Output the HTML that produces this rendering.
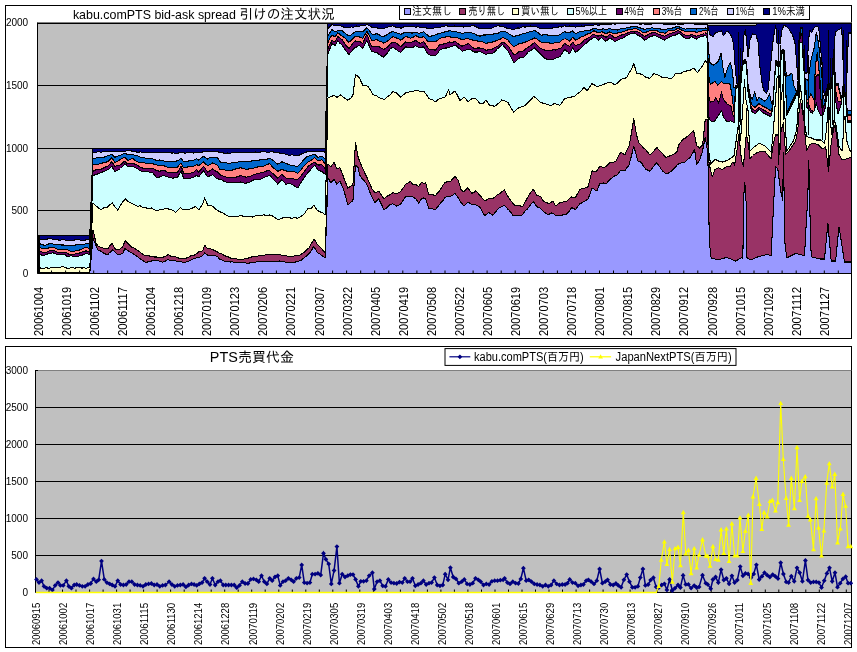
<!DOCTYPE html>
<html><head><meta charset="utf-8"><title>PTS charts</title>
<style>html,body{margin:0;padding:0;background:#fff}svg{display:block;will-change:transform}text{font-family:"Liberation Sans","IPAGothic","Noto Sans CJK JP",sans-serif;fill:#000}</style>
</head><body>
<svg width="857" height="652" viewBox="0 0 857 652">
<rect width="857" height="652" fill="#fff"/>
<rect x="5.5" y="5.5" width="846.0" height="333.0" fill="#fff" stroke="#000" stroke-width="1"/>
<rect x="37.5" y="22.5" width="814.0" height="251.0" fill="#C0C0C0"/>
<line x1="37.5" y1="85.5" x2="851.5" y2="85.5" stroke="#000" stroke-width="1"/>
<line x1="37.5" y1="148.5" x2="851.5" y2="148.5" stroke="#000" stroke-width="1"/>
<line x1="37.5" y1="210.5" x2="851.5" y2="210.5" stroke="#000" stroke-width="1"/>
<line x1="37.5" y1="22.5" x2="851.5" y2="22.5" stroke="#808080" stroke-width="1"/>
<line x1="37.5" y1="23.5" x2="851.5" y2="23.5" stroke="#000" stroke-width="1"/>
<g stroke="#000" stroke-width="1.05" stroke-linejoin="round" shape-rendering="crispEdges">
<polygon fill="#9999FF" points="39,272.8 41.8,273.1 42,273.1 43,273.1 44.6,273 45,273 46,273 47.4,273.1 49,273.2 50,273.2 50.2,273.2 52,273.1 53,273 53,273 55.9,273 56,273 57,272.9 58.7,272.8 59,272.8 60,272.9 61.5,272.9 62,272.9 63,273 64,273 64.3,273 65,273 66,273 67,273.1 67.1,273.1 68,273.1 69,273.1 69.9,273.1 71,273.1 72,273 72.7,272.9 74,272.9 75,272.8 75.5,272.8 76,272.8 78,272.9 78.3,272.9 79,273 80,273.1 81.2,273.2 82,273.1 83,273 84,272.9 84,272.9 86,273 86.8,273 87,273 89.6,273.2 89.8,273.1 92.4,244.6 93,238.3 95.2,243.7 96,245.5 98,250.2 98,250.2 100,250.8 100.8,251.1 101,251.2 103,252.6 103.6,253 104,253.2 106.4,254.5 107.9,254.7 109.2,253 111.9,250.7 112.1,250.6 112.3,250.3 112.9,249.8 114.9,251.9 114.9,252 115.9,252.9 117.7,254.6 117.9,254.8 119.9,254.3 120.5,254.1 121.9,253.7 122.9,253.4 123.3,252.3 124.9,248.5 125.3,248.9 126.1,249.5 127.9,250.6 128.9,251.2 131.7,253 132.9,253.6 133.9,254.2 134.5,254.5 137.3,256.7 137.8,257 140.2,258.8 142.8,260.5 143,260.5 145.8,262.7 145.8,262.7 147.8,261.9 148.6,261.6 151.4,261 151.8,260.9 152.8,260.5 154.2,260.5 156.8,260.8 157,260.8 157.8,260.7 159.8,261.2 162.6,262.2 162.8,262.2 165.4,261.1 167.8,259.6 168.3,259.7 171.1,260.8 172.8,260.6 173.9,260.4 175.7,260.9 176.7,261.2 177.7,261.2 179.5,261.4 180.7,261.7 181.1,261.8 182.3,262.1 182.7,262.2 183.7,262.2 185.1,262.1 187.7,261.7 187.9,261.6 190.7,260.3 192.7,259.2 193.6,258.8 195.7,258 196.4,257.7 196.7,257.7 197.7,257.5 198.7,257.4 199.2,257.3 202,256 202.7,255.7 203.7,254.3 204.7,252.9 204.8,253 207.6,255.1 207.6,255.2 210.4,255.4 212.6,255.3 213.2,255.3 216,256.1 216,256.1 217.6,256.6 218.8,258.3 220,259.6 221.7,259.7 224.5,261.1 227.3,261.6 229.9,262 230.1,262 232.9,261.9 235.7,262.6 238.5,262.1 239.9,262.3 241.3,262.5 244.1,262.8 245.9,263 246.9,263.2 249.8,263 249.9,263 252.6,262.3 253.9,262.2 255.4,262.1 258.2,261.7 259.9,261.4 261,261.4 261.8,261.3 263.8,261.1 266.6,261.3 269.4,261.2 269.8,261.2 272.2,261.5 275,261.5 277.8,261.1 277.9,261.1 279.8,261 280.7,261.1 281.8,261.4 283.5,261.8 285.8,262.2 286.3,262.3 289.1,262.4 289.8,262.5 291.8,262.4 291.9,262.4 294.7,262.4 297.5,261.2 297.7,261.2 300.3,260.8 301.7,259.7 303.1,258.7 303.7,258.5 305.9,256.4 307.7,254.9 308.8,253.9 309.7,253 310.7,251.4 311.6,250.1 313.7,246.5 314.1,247 314.4,247.3 314.7,247.9 317.2,252.1 317.7,252.7 320,253.9 321.7,255.4 322.8,256.1 325.2,257.9 325.6,247.3 328,177.9 328.4,178.6 331,183 331.2,182.6 332,181.7 334,179.1 334.1,179.3 335,180.9 336.9,184.1 336.9,184.2 337.9,183.2 339.7,181.4 339.9,181.1 340.9,183.3 341.9,185.5 342.5,186.7 343.9,190.6 345.3,195.5 347.9,204.8 348.1,204.6 348.9,203.9 350.9,201.9 352.9,200.7 353.7,189.5 354.9,173.2 355.5,165.1 356.5,165.9 357.9,167.2 358.9,171.2 359.3,173.1 359.9,175.3 361.9,178.2 362.1,178.6 362.9,179.4 365,181.8 366.9,184.5 367.8,186.8 367.9,187 370.6,194 371.8,196.7 372.8,198.5 373.4,199.5 374.8,202.5 376.2,201.2 377.8,199.8 378.8,198.9 379,199.3 381.8,205.1 383.8,209.9 384.6,209.5 387.4,207.3 388.8,205.8 390.2,204.6 392.8,203.8 393.1,204 395.9,205.7 396.8,206.2 398.7,205.4 400.8,203.8 401.5,202.6 404.3,198.5 405.7,196.9 407.1,197 409.9,196.5 410.7,196.1 412.7,196.7 412.7,196.7 415.5,198.7 415.7,198.8 418.4,202.6 418.7,203.1 419.7,201.5 421.2,199.1 421.7,198.1 423.7,198 424,198 425.7,198.8 426.8,202.3 428.7,208.1 429.6,208.4 432.4,208.9 435.2,209.3 435.6,209.4 438,206.3 439.6,204.5 440.8,202.9 443.6,199.6 444.6,197.9 445.6,197.3 446.4,196.7 447.6,196.3 448.6,196.3 449.3,196.3 450,196.4 452.1,195.5 454.9,193.4 455,193.4 456,194.7 457.7,197.1 458,197.4 460,200.7 460.5,201.5 461,202.4 462,203.6 463.3,205.2 464,205.9 466.1,203.9 467.9,201.9 468.9,202.5 471.7,204.3 471.9,204.4 473.9,204.6 474.6,204.6 475.9,204.8 477.4,205.6 479.9,207.3 480.2,207.8 482.9,212.7 483,212.9 484.9,215.8 485.8,214.8 485.9,214.7 488.6,212.5 488.9,212.4 489.9,213.2 491.4,214.4 491.9,214.7 492.9,215.2 494.2,213.7 495.9,211.5 497,209.9 497.9,209 498.9,208 499.8,207.6 501.8,206.5 502.6,206.1 502.8,206 504.2,205.1 505.5,206.3 507.8,209.1 508.3,209.6 508.8,210 511.1,212.7 512.8,215.4 513.8,215.5 513.9,215.5 516.7,215.5 517.8,215.5 518.8,215.4 519.5,215.4 520.8,215.8 522.3,214.7 522.8,214.1 523.8,212.7 525.1,210.9 525.8,210.4 527.8,208.6 527.9,208.4 528.8,207.3 530.8,204.4 533.4,201.7 533.6,202 533.8,202.3 534.8,203.8 536.4,206.2 536.7,206.7 539.2,207.7 539.7,208 540.7,208.7 542,210.1 543.7,211.8 544.8,212.6 545.7,213.3 547.6,214.5 547.7,214.6 548.7,214.3 550.4,213.7 550.7,213.5 551.7,212.8 552.7,213.3 553.2,213.6 553.7,213.9 554.7,214.7 555.7,215.4 556,215.4 558.9,215.6 559.7,215.6 560.7,215.6 561.7,215.3 564.5,214.2 564.7,214.2 566.6,214.1 567.3,213.5 569.6,210.6 570.1,210 571.6,207.7 572.6,208 572.9,208 574.6,209.1 575.6,209.7 575.7,209.5 577.6,206.8 578.5,205.6 580,203.7 581.3,203.1 584,201.6 584.1,201.5 585,200.9 587,199.6 587,199.6 588,199 589.8,194.4 590,193.8 592,187.9 592.6,188.1 594,189.1 595.4,190.1 596,190.4 597,191 598,188.3 598.2,187.7 599.9,183.1 601,183.3 601.9,183.2 603.8,183 603.9,183.1 605.9,184 606.6,183.3 606.9,182.9 609.4,180 609.9,179.3 610.9,178.6 612.2,177.7 614.9,175.8 615,175.7 615.9,175.4 616.9,175 617.9,173.9 619.9,171.4 620.7,170.4 620.9,170.2 621.9,170.4 623.5,170.7 624.9,170.8 626.3,168.4 626.9,167.7 628.9,165.4 629.1,164.5 629.9,161.7 630.9,157.9 631.5,155.6 631.9,153.8 633.8,146.1 634.7,149.2 634.8,149.7 636.2,155 636.8,157.3 637.5,159.9 637.8,161 638.8,161.3 639.8,161.6 640.3,161.7 641.8,163 643.1,165.5 644.8,167.9 645.8,169.3 646,169.4 648.8,170.6 649.8,171.1 651.6,169.2 653.8,166.2 654.4,165.3 654.8,164.9 656.8,162.7 657.2,163.3 658.8,165.5 659.8,166.9 660,167.2 661.8,169.9 662.8,171 662.8,171.1 664.8,172.6 665.6,173.4 665.7,173.5 667.7,173.1 668.4,173 669.7,172.1 671.2,171.1 671.7,170.9 674.1,168.5 674.7,167.8 675.7,166.7 676.7,165.5 676.9,165.3 678.7,163.9 679.7,163.2 679.7,163.2 682.5,162.7 683.7,162.4 684.7,162.1 685.3,161.6 685.7,161.2 688.1,158.9 688.7,158.6 689.7,158 690.7,156.6 690.9,156.3 691.7,154.9 693.7,151.2 693.7,151.1 694.7,149.9 696.5,163.5 696.6,164.3 697.6,162.9 699.4,160.4 699.6,160 701.6,153.8 702.2,152.2 702.6,150.8 704,143.5 704.5,140.9 705,138.4 705.2,137.1 705.6,139.4 707.2,149 707.8,151.9 707.8,152 708.5,193.5 709.3,241 710.1,248.5 710.3,250.4 710.5,252.3 710.6,253.1 711.1,257.9 712.2,258.2 713.1,258.5 713.4,258.6 713.8,258.7 714,258.8 715,259.1 715.4,259.2 715.9,259.4 716.2,259.5 716.8,259.7 717.8,260 718.4,259.8 718.7,259.7 719,259.6 721.2,259 721.5,258.9 721.8,258.8 722.5,258.6 723,258.5 723.4,258.4 724.3,258.1 724.6,258 724.8,258 726.2,257.5 726.7,257.4 727.1,257.6 727.5,257.7 727.6,257.8 728,257.9 728.1,258 729.9,258.7 730,258.7 730.3,258.8 730.4,258.9 730.9,259.1 731.8,259.5 732.2,259.6 732.7,259.8 733.1,260 733.2,260 734,260.4 734.1,260.4 734.6,260.6 735.5,261 735.6,261 735.9,260.8 737,260.2 737.8,259.8 738.7,259.3 738.8,259.2 739,259.1 740.5,258.2 741,258 741.1,257.9 741.5,257.9 741.6,257.9 742,257.9 742.5,258 742.9,258 743.4,209.7 743.5,200 744,193.1 744.3,188.8 744.5,186.2 744.8,182 745.4,191.4 746,200.9 746.2,204 746.3,210.7 746.5,224.2 747,258 747.1,258.1 748,258.5 748.5,258.7 749,259 749.9,259.4 750,259.5 750.6,259.8 751.1,260 751.5,259.8 752.3,259.4 752.5,259.3 752.7,259.2 754.5,258.4 754.7,258.3 755.2,258 755.5,257.9 756,257.7 756.6,257.4 757,257.2 757.8,256.8 758,256.7 758.4,256.7 758.9,256.5 759,256.5 759.8,256.3 761.2,255.9 761.7,255.8 763.5,255.3 764,255.2 764.4,255.1 764.5,255.1 766.3,254.6 766.7,254.5 766.8,254.5 767.2,254.6 768.1,254.8 769.6,255.2 770.9,255.5 771.2,255.6 772.4,229.3 772.7,223 773.4,207.8 774.5,187.2 775.2,173.8 775.5,168.6 775.6,166.7 775.8,166.9 777,168.1 777.8,168.9 778,170.5 778,170.7 779,178.3 780,186.1 780.5,190 780.8,191.6 781,192.4 781.2,193.3 782,197.1 782.6,200 783,181.2 783.4,162.4 783.6,153 783.6,157.3 784,187.8 784.6,240 785,243.4 785.6,248.5 786.4,255.3 786.5,255.9 786.7,257.9 786.8,257.8 789,256.7 789.2,256.6 789.3,256.6 791.5,255.5 792,255.2 792.1,255.2 792.4,255 793.4,254.5 793.8,254.3 794.9,253.8 795.2,253.6 795.6,253.4 795.7,253.4 796.2,253.5 796.7,253.7 797.1,253.8 797.5,253.9 797.7,253.9 797.8,253.9 798,254 798.5,254.1 799,254.2 799.5,254.4 800.4,254.6 800.5,254.6 802,255 802.3,255.1 803.3,255.3 803.5,255.4 804,255.5 804.1,255.5 804.5,255.6 805,246.7 805.1,244.9 806.1,226.5 806.7,216.3 807,211 807.8,196.7 807.9,193 808,189.4 808.8,160 808.9,166.4 809,169.1 809.3,182.7 809.7,200.8 810.1,219 810.7,239.6 811,249.9 811.1,253.4 811.2,256.8 811.6,256.9 811.8,256.9 812.1,257 813.5,257.4 814,257.5 814.4,257.6 814.6,257.6 815,257.8 815.5,257.9 815.6,257.9 816.3,258.1 817.2,258.3 817.4,258.3 818.2,258.6 818.6,258.6 819,258.8 819.6,258.9 820,259 820.2,259 820.5,259 821,259 821.2,259 821.9,259 822.8,259 823,259 823,259 824.5,259 824.7,256.9 825,253.8 825.6,247.5 825.8,245.4 826.5,238.1 827.9,223.4 828,224.5 828.5,230.2 828.6,231.5 830,247.3 831,258.7 831.2,261 831.4,261 832,261 833,261 833.4,261 834,261 834.2,261 834.5,261 835,261 835.5,261 835.6,261 836,257 836.8,248.9 837,246.5 838,236.8 839,226.7 839.9,232.2 841.5,242.7 842.3,247.9 842.5,249.2 842.7,250.2 843.5,255.6 844,258.8 844.5,262 845,262 845.5,262 846,262 846.5,262 847.5,262 848.3,262 848.5,262 850,262 851.1,262 851.3,262 851.3,273.5 851.1,273.5 850,273.5 848.5,273.5 848.3,273.5 847.5,273.5 846.5,273.5 846,273.5 845.5,273.5 845,273.5 844.5,273.5 844,273.5 843.5,273.5 842.7,273.5 842.5,273.5 842.3,273.5 841.5,273.5 839.9,273.5 839,273.5 838,273.5 837,273.5 836.8,273.5 836,273.5 835.6,273.5 835.5,273.5 835,273.5 834.5,273.5 834.2,273.5 834,273.5 833.4,273.5 833,273.5 832,273.5 831.4,273.5 831.2,273.5 831,273.5 830,273.5 828.6,273.5 828.5,273.5 828,273.5 827.9,273.5 826.5,273.5 825.8,273.5 825.6,273.5 825,273.5 824.7,273.5 824.5,273.5 823,273.5 823,273.5 822.8,273.5 821.9,273.5 821.2,273.5 821,273.5 820.5,273.5 820.2,273.5 820,273.5 819.6,273.5 819,273.5 818.6,273.5 818.2,273.5 817.4,273.5 817.2,273.5 816.3,273.5 815.6,273.5 815.5,273.5 815,273.5 814.6,273.5 814.4,273.5 814,273.5 813.5,273.5 812.1,273.5 811.8,273.5 811.6,273.5 811.2,273.5 811.1,273.5 811,273.5 810.7,273.5 810.1,273.5 809.7,273.5 809.3,273.5 809,273.5 808.9,273.5 808.8,273.5 808,273.5 807.9,273.5 807.8,273.5 807,273.5 806.7,273.5 806.1,273.5 805.1,273.5 805,273.5 804.5,273.5 804.1,273.5 804,273.5 803.5,273.5 803.3,273.5 802.3,273.5 802,273.5 800.5,273.5 800.4,273.5 799.5,273.5 799,273.5 798.5,273.5 798,273.5 797.8,273.5 797.7,273.5 797.5,273.5 797.1,273.5 796.7,273.5 796.2,273.5 795.7,273.5 795.6,273.5 795.2,273.5 794.9,273.5 793.8,273.5 793.4,273.5 792.4,273.5 792.1,273.5 792,273.5 791.5,273.5 789.3,273.5 789.2,273.5 789,273.5 786.8,273.5 786.7,273.5 786.5,273.5 786.4,273.5 785.6,273.5 785,273.5 784.6,273.5 784,273.5 783.6,273.5 783.6,273.5 783.4,273.5 783,273.5 782.6,273.5 782,273.5 781.2,273.5 781,273.5 780.8,273.5 780.5,273.5 780,273.5 779,273.5 778,273.5 778,273.5 777.8,273.5 777,273.5 775.8,273.5 775.6,273.5 775.5,273.5 775.2,273.5 774.5,273.5 773.4,273.5 772.7,273.5 772.4,273.5 771.2,273.5 770.9,273.5 769.6,273.5 768.1,273.5 767.2,273.5 766.8,273.5 766.7,273.5 766.3,273.5 764.5,273.5 764.4,273.5 764,273.5 763.5,273.5 761.7,273.5 761.2,273.5 759.8,273.5 759,273.5 758.9,273.5 758.4,273.5 758,273.5 757.8,273.5 757,273.5 756.6,273.5 756,273.5 755.5,273.5 755.2,273.5 754.7,273.5 754.5,273.5 752.7,273.5 752.5,273.5 752.3,273.5 751.5,273.5 751.1,273.5 750.6,273.5 750,273.5 749.9,273.5 749,273.5 748.5,273.5 748,273.5 747.1,273.5 747,273.5 746.5,273.5 746.3,273.5 746.2,273.5 746,273.5 745.4,273.5 744.8,273.5 744.5,273.5 744.3,273.5 744,273.5 743.5,273.5 743.4,273.5 742.9,273.5 742.5,273.5 742,273.5 741.6,273.5 741.5,273.5 741.1,273.5 741,273.5 740.5,273.5 739,273.5 738.8,273.5 738.7,273.5 737.8,273.5 737,273.5 735.9,273.5 735.6,273.5 735.5,273.5 734.6,273.5 734.1,273.5 734,273.5 733.2,273.5 733.1,273.5 732.7,273.5 732.2,273.5 731.8,273.5 730.9,273.5 730.4,273.5 730.3,273.5 730,273.5 729.9,273.5 728.1,273.5 728,273.5 727.6,273.5 727.5,273.5 727.1,273.5 726.7,273.5 726.2,273.5 724.8,273.5 724.6,273.5 724.3,273.5 723.4,273.5 723,273.5 722.5,273.5 721.8,273.5 721.5,273.5 721.2,273.5 719,273.5 718.7,273.5 718.4,273.5 717.8,273.5 716.8,273.5 716.2,273.5 715.9,273.5 715.4,273.5 715,273.5 714,273.5 713.8,273.5 713.4,273.5 713.1,273.5 712.2,273.5 711.1,273.5 710.6,273.5 710.5,273.5 710.3,273.5 710.1,273.5 709.3,273.5 708.5,273.5 707.8,273.5 707.8,273.5 707.2,273.5 705.6,273.5 705.2,273.5 705,273.5 704.5,273.5 704,273.5 702.6,273.5 702.2,273.5 701.6,273.5 699.6,273.5 699.4,273.5 697.6,273.5 696.6,273.5 696.5,273.5 694.7,273.5 693.7,273.5 693.7,273.5 691.7,273.5 690.9,273.5 690.7,273.5 689.7,273.5 688.7,273.5 688.1,273.5 685.7,273.5 685.3,273.5 684.7,273.5 683.7,273.5 682.5,273.5 679.7,273.5 679.7,273.5 678.7,273.5 676.9,273.5 676.7,273.5 675.7,273.5 674.7,273.5 674.1,273.5 671.7,273.5 671.2,273.5 669.7,273.5 668.4,273.5 667.7,273.5 665.7,273.5 665.6,273.5 664.8,273.5 662.8,273.5 662.8,273.5 661.8,273.5 660,273.5 659.8,273.5 658.8,273.5 657.2,273.5 656.8,273.5 654.8,273.5 654.4,273.5 653.8,273.5 651.6,273.5 649.8,273.5 648.8,273.5 646,273.5 645.8,273.5 644.8,273.5 643.1,273.5 641.8,273.5 640.3,273.5 639.8,273.5 638.8,273.5 637.8,273.5 637.5,273.5 636.8,273.5 636.2,273.5 634.8,273.5 634.7,273.5 633.8,273.5 631.9,273.5 631.5,273.5 630.9,273.5 629.9,273.5 629.1,273.5 628.9,273.5 626.9,273.5 626.3,273.5 624.9,273.5 623.5,273.5 621.9,273.5 620.9,273.5 620.7,273.5 619.9,273.5 617.9,273.5 616.9,273.5 615.9,273.5 615,273.5 614.9,273.5 612.2,273.5 610.9,273.5 609.9,273.5 609.4,273.5 606.9,273.5 606.6,273.5 605.9,273.5 603.9,273.5 603.8,273.5 601.9,273.5 601,273.5 599.9,273.5 598.2,273.5 598,273.5 597,273.5 596,273.5 595.4,273.5 594,273.5 592.6,273.5 592,273.5 590,273.5 589.8,273.5 588,273.5 587,273.5 587,273.5 585,273.5 584.1,273.5 584,273.5 581.3,273.5 580,273.5 578.5,273.5 577.6,273.5 575.7,273.5 575.6,273.5 574.6,273.5 572.9,273.5 572.6,273.5 571.6,273.5 570.1,273.5 569.6,273.5 567.3,273.5 566.6,273.5 564.7,273.5 564.5,273.5 561.7,273.5 560.7,273.5 559.7,273.5 558.9,273.5 556,273.5 555.7,273.5 554.7,273.5 553.7,273.5 553.2,273.5 552.7,273.5 551.7,273.5 550.7,273.5 550.4,273.5 548.7,273.5 547.7,273.5 547.6,273.5 545.7,273.5 544.8,273.5 543.7,273.5 542,273.5 540.7,273.5 539.7,273.5 539.2,273.5 536.7,273.5 536.4,273.5 534.8,273.5 533.8,273.5 533.6,273.5 533.4,273.5 530.8,273.5 528.8,273.5 527.9,273.5 527.8,273.5 525.8,273.5 525.1,273.5 523.8,273.5 522.8,273.5 522.3,273.5 520.8,273.5 519.5,273.5 518.8,273.5 517.8,273.5 516.7,273.5 513.9,273.5 513.8,273.5 512.8,273.5 511.1,273.5 508.8,273.5 508.3,273.5 507.8,273.5 505.5,273.5 504.2,273.5 502.8,273.5 502.6,273.5 501.8,273.5 499.8,273.5 498.9,273.5 497.9,273.5 497,273.5 495.9,273.5 494.2,273.5 492.9,273.5 491.9,273.5 491.4,273.5 489.9,273.5 488.9,273.5 488.6,273.5 485.9,273.5 485.8,273.5 484.9,273.5 483,273.5 482.9,273.5 480.2,273.5 479.9,273.5 477.4,273.5 475.9,273.5 474.6,273.5 473.9,273.5 471.9,273.5 471.7,273.5 468.9,273.5 467.9,273.5 466.1,273.5 464,273.5 463.3,273.5 462,273.5 461,273.5 460.5,273.5 460,273.5 458,273.5 457.7,273.5 456,273.5 455,273.5 454.9,273.5 452.1,273.5 450,273.5 449.3,273.5 448.6,273.5 447.6,273.5 446.4,273.5 445.6,273.5 444.6,273.5 443.6,273.5 440.8,273.5 439.6,273.5 438,273.5 435.6,273.5 435.2,273.5 432.4,273.5 429.6,273.5 428.7,273.5 426.8,273.5 425.7,273.5 424,273.5 423.7,273.5 421.7,273.5 421.2,273.5 419.7,273.5 418.7,273.5 418.4,273.5 415.7,273.5 415.5,273.5 412.7,273.5 412.7,273.5 410.7,273.5 409.9,273.5 407.1,273.5 405.7,273.5 404.3,273.5 401.5,273.5 400.8,273.5 398.7,273.5 396.8,273.5 395.9,273.5 393.1,273.5 392.8,273.5 390.2,273.5 388.8,273.5 387.4,273.5 384.6,273.5 383.8,273.5 381.8,273.5 379,273.5 378.8,273.5 377.8,273.5 376.2,273.5 374.8,273.5 373.4,273.5 372.8,273.5 371.8,273.5 370.6,273.5 367.9,273.5 367.8,273.5 366.9,273.5 365,273.5 362.9,273.5 362.1,273.5 361.9,273.5 359.9,273.5 359.3,273.5 358.9,273.5 357.9,273.5 356.5,273.5 355.5,273.5 354.9,273.5 353.7,273.5 352.9,273.5 350.9,273.5 348.9,273.5 348.1,273.5 347.9,273.5 345.3,273.5 343.9,273.5 342.5,273.5 341.9,273.5 340.9,273.5 339.9,273.5 339.7,273.5 337.9,273.5 336.9,273.5 336.9,273.5 335,273.5 334.1,273.5 334,273.5 332,273.5 331.2,273.5 331,273.5 328.4,273.5 328,273.5 325.6,273.5 325.2,273.5 322.8,273.5 321.7,273.5 320,273.5 317.7,273.5 317.2,273.5 314.7,273.5 314.4,273.5 314.1,273.5 313.7,273.5 311.6,273.5 310.7,273.5 309.7,273.5 308.8,273.5 307.7,273.5 305.9,273.5 303.7,273.5 303.1,273.5 301.7,273.5 300.3,273.5 297.7,273.5 297.5,273.5 294.7,273.5 291.9,273.5 291.8,273.5 289.8,273.5 289.1,273.5 286.3,273.5 285.8,273.5 283.5,273.5 281.8,273.5 280.7,273.5 279.8,273.5 277.9,273.5 277.8,273.5 275,273.5 272.2,273.5 269.8,273.5 269.4,273.5 266.6,273.5 263.8,273.5 261.8,273.5 261,273.5 259.9,273.5 258.2,273.5 255.4,273.5 253.9,273.5 252.6,273.5 249.9,273.5 249.8,273.5 246.9,273.5 245.9,273.5 244.1,273.5 241.3,273.5 239.9,273.5 238.5,273.5 235.7,273.5 232.9,273.5 230.1,273.5 229.9,273.5 227.3,273.5 224.5,273.5 221.7,273.5 220,273.5 218.8,273.5 217.6,273.5 216,273.5 216,273.5 213.2,273.5 212.6,273.5 210.4,273.5 207.6,273.5 207.6,273.5 204.8,273.5 204.7,273.5 203.7,273.5 202.7,273.5 202,273.5 199.2,273.5 198.7,273.5 197.7,273.5 196.7,273.5 196.4,273.5 195.7,273.5 193.6,273.5 192.7,273.5 190.7,273.5 187.9,273.5 187.7,273.5 185.1,273.5 183.7,273.5 182.7,273.5 182.3,273.5 181.1,273.5 180.7,273.5 179.5,273.5 177.7,273.5 176.7,273.5 175.7,273.5 173.9,273.5 172.8,273.5 171.1,273.5 168.3,273.5 167.8,273.5 165.4,273.5 162.8,273.5 162.6,273.5 159.8,273.5 157.8,273.5 157,273.5 156.8,273.5 154.2,273.5 152.8,273.5 151.8,273.5 151.4,273.5 148.6,273.5 147.8,273.5 145.8,273.5 145.8,273.5 143,273.5 142.8,273.5 140.2,273.5 137.8,273.5 137.3,273.5 134.5,273.5 133.9,273.5 132.9,273.5 131.7,273.5 128.9,273.5 127.9,273.5 126.1,273.5 125.3,273.5 124.9,273.5 123.3,273.5 122.9,273.5 121.9,273.5 120.5,273.5 119.9,273.5 117.9,273.5 117.7,273.5 115.9,273.5 114.9,273.5 114.9,273.5 112.9,273.5 112.3,273.5 112.1,273.5 111.9,273.5 109.2,273.5 107.9,273.5 106.4,273.5 104,273.5 103.6,273.5 103,273.5 101,273.5 100.8,273.5 100,273.5 98,273.5 98,273.5 96,273.5 95.2,273.5 93,273.5 92.4,273.5 89.8,273.5 89.6,273.5 87,273.5 86.8,273.5 86,273.5 84,273.5 84,273.5 83,273.5 82,273.5 81.2,273.5 80,273.5 79,273.5 78.3,273.5 78,273.5 76,273.5 75.5,273.5 75,273.5 74,273.5 72.7,273.5 72,273.5 71,273.5 69.9,273.5 69,273.5 68,273.5 67.1,273.5 67,273.5 66,273.5 65,273.5 64.3,273.5 64,273.5 63,273.5 62,273.5 61.5,273.5 60,273.5 59,273.5 58.7,273.5 57,273.5 56,273.5 55.9,273.5 53,273.5 53,273.5 52,273.5 50.2,273.5 50,273.5 49,273.5 47.4,273.5 46,273.5 45,273.5 44.6,273.5 43,273.5 42,273.5 41.8,273.5 39,273.5"/>
<polygon fill="#993366" points="39,272.4 41.8,272.5 42,272.4 43,272.4 44.6,272.4 45,272.4 46,272.4 47.4,272.4 49,272.6 50,272.8 50.2,272.8 52,272.6 53,272.4 53,272.4 55.9,272.6 56,272.6 57,272.5 58.7,272.4 59,272.4 60,272.5 61.5,272.5 62,272.5 63,272.6 64,272.7 64.3,272.7 65,272.7 66,272.8 67,272.8 67.1,272.8 68,272.7 69,272.7 69.9,272.6 71,272.5 72,272.4 72.7,272.4 74,272.6 75,272.7 75.5,272.8 76,272.7 78,272.5 78.3,272.4 79,272.4 80,272.5 81.2,272.6 82,272.6 83,272.6 84,272.6 84,272.6 86,272.7 86.8,272.8 87,272.8 89.6,272.7 89.8,272.7 92.4,237.9 93,229.8 95.2,239.2 96,242.7 98,246.1 98,246.1 100,246.9 100.8,247.2 101,247.3 103,248.1 103.6,248.2 104,248.3 106.4,248.6 107.9,248.6 109.2,246.6 111.9,243.5 112.1,243.7 112.3,244.1 112.9,245 114.9,248.1 114.9,248.2 115.9,249.7 117.7,249.3 117.9,249.2 119.9,249 120.5,248.7 121.9,247.4 122.9,246.5 123.3,245.3 124.9,241.4 125.3,240.4 126.1,241.6 127.9,243.7 128.9,244.4 131.7,247.1 132.9,247.7 133.9,248.1 134.5,248.4 137.3,250.4 137.8,250.6 140.2,252.1 142.8,254.3 143,254.4 145.8,255.7 145.8,255.7 147.8,255.7 148.6,255.6 151.4,256.8 151.8,256.8 152.8,256.9 154.2,257 156.8,257 157,257 157.8,257.4 159.8,258 162.6,257.2 162.8,257.2 165.4,256.6 167.8,254.7 168.3,254.7 171.1,256.3 172.8,256.5 173.9,256.5 175.7,257 176.7,257.3 177.7,257.7 179.5,258.4 180.7,258.3 181.1,258.3 182.3,258.2 182.7,258.3 183.7,258.2 185.1,258.1 187.7,257.9 187.9,257.8 190.7,256 192.7,255.8 193.6,255.5 195.7,254.3 196.4,253.9 196.7,253.6 197.7,252.7 198.7,252 199.2,251.7 202,251 202.7,250.7 203.7,247.9 204.7,245.1 204.8,245.2 207.6,248.9 207.6,248.9 210.4,248.7 212.6,249.6 213.2,249.9 216,251.3 216,251.4 217.6,252 218.8,253 220,253.7 221.7,253.9 224.5,255.8 227.3,256.3 229.9,258 230.1,258 232.9,258.2 235.7,258.4 238.5,259.6 239.9,260 241.3,259.7 244.1,259 245.9,258.9 246.9,258.8 249.8,257.4 249.9,257.4 252.6,256.8 253.9,256.5 255.4,256.2 258.2,256 259.9,255.6 261,255.4 261.8,255.3 263.8,255.1 266.6,254.9 269.4,254.5 269.8,254.4 272.2,254.1 275,254.6 277.8,254.4 277.9,254.4 279.8,254.6 280.7,254.8 281.8,255.2 283.5,255.9 285.8,255.7 286.3,255.6 289.1,256.7 289.8,256.8 291.8,256.6 291.9,256.6 294.7,255.8 297.5,255.7 297.7,255.7 300.3,254.9 301.7,253.9 303.1,252.8 303.7,252.6 305.9,250.7 307.7,249 308.8,248 309.7,246.9 310.7,244.9 311.6,243.1 313.7,239.8 314.1,239.2 314.4,239.7 314.7,240.2 317.2,244 317.7,244.8 320,247 321.7,248.8 322.8,250.2 325.2,252.6 325.6,240.7 328,164.1 328.4,164.6 331,166.7 331.2,166.2 332,165.2 334,162.4 334.1,162.6 335,164.6 336.9,168.8 336.9,169 337.9,168.5 339.7,167.7 339.9,167.7 340.9,170.2 341.9,172.8 342.5,174.2 343.9,178.1 345.3,181.7 347.9,188.2 348.1,188.1 348.9,187.5 350.9,186.1 352.9,184.8 353.7,171.4 354.9,152.1 355.5,142.5 356.5,148.3 357.9,156.2 358.9,159.1 359.3,160.5 359.9,161.8 361.9,166.6 362.1,167.1 362.9,168.7 365,173.5 366.9,177.3 367.8,179.5 367.9,179.7 370.6,185.5 371.8,188.6 372.8,190 373.4,190.8 374.8,192.8 376.2,192.3 377.8,191.6 378.8,191.2 379,191.5 381.8,195.6 383.8,198.4 384.6,198.1 387.4,196.1 388.8,195.6 390.2,194.4 392.8,192.8 393.1,192.9 395.9,193.2 396.8,193.4 398.7,192.8 400.8,191.6 401.5,190.3 404.3,186.4 405.7,184.2 407.1,183.5 409.9,181.8 410.7,181.4 412.7,184.4 412.7,184.4 415.5,184.3 415.7,184.4 418.4,186.1 418.7,186.3 419.7,184.9 421.2,182.9 421.7,182.6 423.7,183.2 424,183.3 425.7,182.9 426.8,187 428.7,194.6 429.6,194.7 432.4,194.8 435.2,195.4 435.6,195.3 438,192.6 439.6,190.8 440.8,188.8 443.6,184.3 444.6,183 445.6,182.5 446.4,182.1 447.6,181.3 448.6,181.7 449.3,181.9 450,182 452.1,179.4 454.9,176.7 455,176.6 456,177.7 457.7,179.5 458,179.7 460,186.3 460.5,188 461,189.6 462,190.4 463.3,191.5 464,191.8 466.1,189.4 467.9,187.8 468.9,189.2 471.7,193.1 471.9,193.3 473.9,192.3 474.6,191.9 475.9,190.8 477.4,192.2 479.9,195.5 480.2,195.8 482.9,198.7 483,198.8 484.9,200.9 485.8,200.5 485.9,200.4 488.6,198.5 488.9,198.3 489.9,198.3 491.4,198.4 491.9,198.5 492.9,198.6 494.2,197.5 495.9,196.1 497,195 497.9,194.6 498.9,194 499.8,193.5 501.8,191.9 502.6,191.3 502.8,191.1 504.2,189.9 505.5,191.9 507.8,196.3 508.3,197.1 508.8,198 511.1,201 512.8,203.4 513.8,204.8 513.9,204.9 516.7,205.3 517.8,205.5 518.8,205.8 519.5,205.8 520.8,206.1 522.3,206.4 522.8,206.3 523.8,204.4 525.1,201.9 525.8,200.8 527.8,197.2 527.9,197 528.8,195.6 530.8,192.4 533.4,189.2 533.6,189.7 533.8,190 534.8,191.9 536.4,195 536.7,195.7 539.2,196 539.7,196.2 540.7,196.6 542,198.8 543.7,201.5 544.8,201.8 545.7,202.2 547.6,203.1 547.7,203.2 548.7,203.8 550.4,202.9 550.7,202.6 551.7,201.9 552.7,201.1 553.2,201.9 553.7,202.7 554.7,204.4 555.7,206 556,205.8 558.9,203.5 559.7,203 560.7,202.4 561.7,202.3 564.5,201.7 564.7,201.6 566.6,201.4 567.3,200.8 569.6,198.4 570.1,198 571.6,196.9 572.6,197.3 572.9,197.4 574.6,197.3 575.6,197.3 575.7,197.1 577.6,193.6 578.5,191.9 580,189.6 581.3,188.9 584,188.3 584.1,188.3 585,188 587,187.2 587,187.2 588,186.9 589.8,179.6 590,178.8 592,170.9 592.6,171 594,171.3 595.4,171.5 596,171.7 597,170.4 598,169 598.2,168.7 599.9,166.1 601,166.7 601.9,167.1 603.8,167.9 603.9,168 605.9,166.5 606.6,166 606.9,165.7 609.4,162.9 609.9,162.6 610.9,162.5 612.2,162.3 614.9,161.8 615,161.8 615.9,161.2 616.9,159.1 617.9,157 619.9,153.7 620.7,152.3 620.9,152 621.9,152.8 623.5,154.1 624.9,154.9 626.3,151.6 626.9,150.4 628.9,146.5 629.1,145.3 629.9,141.4 630.9,136.2 631.5,133.1 631.9,130.2 633.8,118.7 634.7,123.9 634.8,124.7 636.2,133.3 636.8,135.7 637.5,138.5 637.8,139.5 638.8,143 639.8,143.7 640.3,144 641.8,146 643.1,147.7 644.8,148.9 645.8,149.8 646,150 648.8,153.6 649.8,154.9 651.6,153.2 653.8,151 654.4,150.3 654.8,149.9 656.8,147.6 657.2,147.9 658.8,149.6 659.8,150.8 660,151 661.8,152.8 662.8,153.8 662.8,153.9 664.8,156.3 665.6,157.4 665.7,157.5 667.7,156.8 668.4,156.5 669.7,155.9 671.2,155.2 671.7,155.1 674.1,154 674.7,153.6 675.7,153 676.7,152.4 676.9,151.8 678.7,145.1 679.7,143.7 679.7,143.7 682.5,140 683.7,138.8 684.7,138.4 685.3,138.1 685.7,137.8 688.1,135.9 688.7,135.4 689.7,134.6 690.7,133.3 690.9,132.9 691.7,132.3 693.7,130.6 693.7,130.9 694.7,135.6 696.5,145 696.6,145.5 697.6,146.3 699.4,147.7 699.6,148 701.6,146.1 702.2,145.6 702.6,145.1 704,131.5 704.5,126.5 705,121.8 705.2,119.3 705.6,119.2 707.2,119.2 707.8,137 707.8,137.6 708.5,160 709.3,164 710.1,168 710.3,169 710.5,170 710.6,170.4 711.1,172.5 712.2,177 713.1,174.6 713.4,173.8 713.8,172.8 714,172.2 715,169.6 715.4,169.4 715.9,169.1 716.2,169 716.8,168.7 717.8,168.2 718.4,167.9 718.7,167.7 719,167.9 721.2,169 721.5,169.1 721.8,169.3 722.5,169.6 723,169.2 723.4,168.9 724.3,168.2 724.6,168 724.8,167.9 726.2,166.8 726.7,166.8 727.1,166.8 727.5,166.8 727.6,166.8 728,166.8 728.1,166.8 729.9,166.8 730,166.8 730.3,166.3 730.4,166.1 730.9,165.2 731.8,163.6 732.2,162.9 732.7,162 733.1,162.6 733.2,162.8 734,164.1 734.1,164.2 734.6,165 735.5,159.4 735.6,158.7 735.9,157 737,150 737.8,142.9 738.7,135 738.8,134 739,135.9 740.5,150.4 741,155.2 741.1,156.2 741.5,160 741.6,161 742,162.1 742.5,163.5 742.9,164.6 743.4,166 743.5,164.9 744,159.4 744.3,156 744.5,153.9 744.8,150.6 745.4,143.9 746,137.3 746.2,135.1 746.3,134 746.5,135 747,137.5 747.1,138.1 748,142.5 748.5,145 749,149.6 749.9,158.3 750,158.9 750.6,158 751.1,157.3 751.5,156.7 752.3,155.6 752.5,155.5 752.7,155.3 754.5,154.2 754.7,154.1 755.2,153.8 755.5,153.6 756,153.3 756.6,152.9 757,152.7 757.8,152.2 758,152.2 758.4,152.1 758.9,152 759,152 759.8,151.9 761.2,151.6 761.7,151.6 763.5,151.3 764,151.2 764.4,151.1 764.5,151.1 766.3,153.2 766.7,153.7 766.8,153.8 767.2,154.2 768.1,155.3 769.6,157 770.9,158.6 771.2,158.9 772.4,150.3 772.7,148.3 773.4,143.3 774.5,139.2 775.2,136.4 775.5,135.4 775.6,135 775.8,135 777,135 777.8,135 778,135 778,135.6 779,154.5 780,143.4 780.5,137.8 780.8,134 781,132.2 781.2,130 782,127.5 782.6,125.5 783,124.3 783.4,123 783.6,125.9 783.6,126.6 784,131.6 784.6,140.2 785,145.9 785.6,154.5 786.4,153.7 786.5,153.6 786.7,153.4 786.8,153.3 789,151 789.2,150.7 789.3,150.6 791.5,147.2 792,146.5 792.1,146.3 792.4,145.8 793.4,144.3 793.8,143.7 794.9,142.1 795.2,141.6 795.6,141 795.7,140.5 796.2,138 796.7,135.5 797.1,133.5 797.5,131.5 797.7,130.5 797.8,130 798,127.1 798.5,119.7 799,112.4 799.5,107.7 800.4,99.3 800.5,99.9 802,108.3 802.3,110 803.3,116.7 803.5,117.9 804,121.1 804.1,121.8 804.5,127.5 805,134.6 805.1,136 806.1,145.6 806.7,150.9 807,150.2 807.8,148.5 807.9,148.3 808,148 808.8,146.3 808.9,146 809,145.8 809.3,145.2 809.7,144.3 810.1,144.2 810.7,144.1 811,144.1 811.1,144 811.2,144 811.6,143.9 811.8,143.9 812.1,143.8 813.5,143.6 814,143.5 814.4,143.4 814.6,143.5 815,143.6 815.5,143.8 815.6,143.8 816.3,144.1 817.2,144.4 817.4,144.5 818.2,144.8 818.6,145.2 819,145.5 819.6,146.1 820,146.4 820.2,146.6 820.5,146.9 821,147.4 821.2,147.5 821.9,148.2 822.8,149 823,148.8 823,148.8 824.5,147.3 824.7,147.1 825,146.8 825.6,146.2 825.8,147.9 826.5,153.9 827.9,165.9 828,166.7 828.5,171 828.6,169.9 830,155.4 831,145.1 831.2,143 831.4,141.7 832,138.3 833,132.4 833.4,130 834,128.1 834.2,127.4 834.5,126.6 835,125 835.5,128.3 835.6,128.9 836,131.5 836.8,136.7 837,138.6 838,146.4 839,154.5 839.9,155.9 841.5,158.7 842.3,160 842.5,159.9 842.7,159.9 843.5,159.7 844,159.5 844.5,159.4 845,159.2 845.5,159.1 846,158.9 846.5,158.8 847.5,158.5 848.3,158.3 848.5,158.2 850,157.8 851.1,157.8 851.3,157.8 851.3,262 851.1,262 850,262 848.5,262 848.3,262 847.5,262 846.5,262 846,262 845.5,262 845,262 844.5,262 844,258.8 843.5,255.6 842.7,250.2 842.5,249.2 842.3,247.9 841.5,242.7 839.9,232.2 839,226.7 838,236.8 837,246.5 836.8,248.9 836,257 835.6,261 835.5,261 835,261 834.5,261 834.2,261 834,261 833.4,261 833,261 832,261 831.4,261 831.2,261 831,258.7 830,247.3 828.6,231.5 828.5,230.2 828,224.5 827.9,223.4 826.5,238.1 825.8,245.4 825.6,247.5 825,253.8 824.7,256.9 824.5,259 823,259 823,259 822.8,259 821.9,259 821.2,259 821,259 820.5,259 820.2,259 820,259 819.6,258.9 819,258.8 818.6,258.6 818.2,258.6 817.4,258.3 817.2,258.3 816.3,258.1 815.6,257.9 815.5,257.9 815,257.8 814.6,257.6 814.4,257.6 814,257.5 813.5,257.4 812.1,257 811.8,256.9 811.6,256.9 811.2,256.8 811.1,253.4 811,249.9 810.7,239.6 810.1,219 809.7,200.8 809.3,182.7 809,169.1 808.9,166.4 808.8,160 808,189.4 807.9,193 807.8,196.7 807,211 806.7,216.3 806.1,226.5 805.1,244.9 805,246.7 804.5,255.6 804.1,255.5 804,255.5 803.5,255.4 803.3,255.3 802.3,255.1 802,255 800.5,254.6 800.4,254.6 799.5,254.4 799,254.2 798.5,254.1 798,254 797.8,253.9 797.7,253.9 797.5,253.9 797.1,253.8 796.7,253.7 796.2,253.5 795.7,253.4 795.6,253.4 795.2,253.6 794.9,253.8 793.8,254.3 793.4,254.5 792.4,255 792.1,255.2 792,255.2 791.5,255.5 789.3,256.6 789.2,256.6 789,256.7 786.8,257.8 786.7,257.9 786.5,255.9 786.4,255.3 785.6,248.5 785,243.4 784.6,240 784,187.8 783.6,157.3 783.6,153 783.4,162.4 783,181.2 782.6,200 782,197.1 781.2,193.3 781,192.4 780.8,191.6 780.5,190 780,186.1 779,178.3 778,170.7 778,170.5 777.8,168.9 777,168.1 775.8,166.9 775.6,166.7 775.5,168.6 775.2,173.8 774.5,187.2 773.4,207.8 772.7,223 772.4,229.3 771.2,255.6 770.9,255.5 769.6,255.2 768.1,254.8 767.2,254.6 766.8,254.5 766.7,254.5 766.3,254.6 764.5,255.1 764.4,255.1 764,255.2 763.5,255.3 761.7,255.8 761.2,255.9 759.8,256.3 759,256.5 758.9,256.5 758.4,256.7 758,256.7 757.8,256.8 757,257.2 756.6,257.4 756,257.7 755.5,257.9 755.2,258 754.7,258.3 754.5,258.4 752.7,259.2 752.5,259.3 752.3,259.4 751.5,259.8 751.1,260 750.6,259.8 750,259.5 749.9,259.4 749,259 748.5,258.7 748,258.5 747.1,258.1 747,258 746.5,224.2 746.3,210.7 746.2,204 746,200.9 745.4,191.4 744.8,182 744.5,186.2 744.3,188.8 744,193.1 743.5,200 743.4,209.7 742.9,258 742.5,258 742,257.9 741.6,257.9 741.5,257.9 741.1,257.9 741,258 740.5,258.2 739,259.1 738.8,259.2 738.7,259.3 737.8,259.8 737,260.2 735.9,260.8 735.6,261 735.5,261 734.6,260.6 734.1,260.4 734,260.4 733.2,260 733.1,260 732.7,259.8 732.2,259.6 731.8,259.5 730.9,259.1 730.4,258.9 730.3,258.8 730,258.7 729.9,258.7 728.1,258 728,257.9 727.6,257.8 727.5,257.7 727.1,257.6 726.7,257.4 726.2,257.5 724.8,258 724.6,258 724.3,258.1 723.4,258.4 723,258.5 722.5,258.6 721.8,258.8 721.5,258.9 721.2,259 719,259.6 718.7,259.7 718.4,259.8 717.8,260 716.8,259.7 716.2,259.5 715.9,259.4 715.4,259.2 715,259.1 714,258.8 713.8,258.7 713.4,258.6 713.1,258.5 712.2,258.2 711.1,257.9 710.6,253.1 710.5,252.3 710.3,250.4 710.1,248.5 709.3,241 708.5,193.5 707.8,152 707.8,151.9 707.2,149 705.6,139.4 705.2,137.1 705,138.4 704.5,140.9 704,143.5 702.6,150.8 702.2,152.2 701.6,153.8 699.6,160 699.4,160.4 697.6,162.9 696.6,164.3 696.5,163.5 694.7,149.9 693.7,151.1 693.7,151.2 691.7,154.9 690.9,156.3 690.7,156.6 689.7,158 688.7,158.6 688.1,158.9 685.7,161.2 685.3,161.6 684.7,162.1 683.7,162.4 682.5,162.7 679.7,163.2 679.7,163.2 678.7,163.9 676.9,165.3 676.7,165.5 675.7,166.7 674.7,167.8 674.1,168.5 671.7,170.9 671.2,171.1 669.7,172.1 668.4,173 667.7,173.1 665.7,173.5 665.6,173.4 664.8,172.6 662.8,171.1 662.8,171 661.8,169.9 660,167.2 659.8,166.9 658.8,165.5 657.2,163.3 656.8,162.7 654.8,164.9 654.4,165.3 653.8,166.2 651.6,169.2 649.8,171.1 648.8,170.6 646,169.4 645.8,169.3 644.8,167.9 643.1,165.5 641.8,163 640.3,161.7 639.8,161.6 638.8,161.3 637.8,161 637.5,159.9 636.8,157.3 636.2,155 634.8,149.7 634.7,149.2 633.8,146.1 631.9,153.8 631.5,155.6 630.9,157.9 629.9,161.7 629.1,164.5 628.9,165.4 626.9,167.7 626.3,168.4 624.9,170.8 623.5,170.7 621.9,170.4 620.9,170.2 620.7,170.4 619.9,171.4 617.9,173.9 616.9,175 615.9,175.4 615,175.7 614.9,175.8 612.2,177.7 610.9,178.6 609.9,179.3 609.4,180 606.9,182.9 606.6,183.3 605.9,184 603.9,183.1 603.8,183 601.9,183.2 601,183.3 599.9,183.1 598.2,187.7 598,188.3 597,191 596,190.4 595.4,190.1 594,189.1 592.6,188.1 592,187.9 590,193.8 589.8,194.4 588,199 587,199.6 587,199.6 585,200.9 584.1,201.5 584,201.6 581.3,203.1 580,203.7 578.5,205.6 577.6,206.8 575.7,209.5 575.6,209.7 574.6,209.1 572.9,208 572.6,208 571.6,207.7 570.1,210 569.6,210.6 567.3,213.5 566.6,214.1 564.7,214.2 564.5,214.2 561.7,215.3 560.7,215.6 559.7,215.6 558.9,215.6 556,215.4 555.7,215.4 554.7,214.7 553.7,213.9 553.2,213.6 552.7,213.3 551.7,212.8 550.7,213.5 550.4,213.7 548.7,214.3 547.7,214.6 547.6,214.5 545.7,213.3 544.8,212.6 543.7,211.8 542,210.1 540.7,208.7 539.7,208 539.2,207.7 536.7,206.7 536.4,206.2 534.8,203.8 533.8,202.3 533.6,202 533.4,201.7 530.8,204.4 528.8,207.3 527.9,208.4 527.8,208.6 525.8,210.4 525.1,210.9 523.8,212.7 522.8,214.1 522.3,214.7 520.8,215.8 519.5,215.4 518.8,215.4 517.8,215.5 516.7,215.5 513.9,215.5 513.8,215.5 512.8,215.4 511.1,212.7 508.8,210 508.3,209.6 507.8,209.1 505.5,206.3 504.2,205.1 502.8,206 502.6,206.1 501.8,206.5 499.8,207.6 498.9,208 497.9,209 497,209.9 495.9,211.5 494.2,213.7 492.9,215.2 491.9,214.7 491.4,214.4 489.9,213.2 488.9,212.4 488.6,212.5 485.9,214.7 485.8,214.8 484.9,215.8 483,212.9 482.9,212.7 480.2,207.8 479.9,207.3 477.4,205.6 475.9,204.8 474.6,204.6 473.9,204.6 471.9,204.4 471.7,204.3 468.9,202.5 467.9,201.9 466.1,203.9 464,205.9 463.3,205.2 462,203.6 461,202.4 460.5,201.5 460,200.7 458,197.4 457.7,197.1 456,194.7 455,193.4 454.9,193.4 452.1,195.5 450,196.4 449.3,196.3 448.6,196.3 447.6,196.3 446.4,196.7 445.6,197.3 444.6,197.9 443.6,199.6 440.8,202.9 439.6,204.5 438,206.3 435.6,209.4 435.2,209.3 432.4,208.9 429.6,208.4 428.7,208.1 426.8,202.3 425.7,198.8 424,198 423.7,198 421.7,198.1 421.2,199.1 419.7,201.5 418.7,203.1 418.4,202.6 415.7,198.8 415.5,198.7 412.7,196.7 412.7,196.7 410.7,196.1 409.9,196.5 407.1,197 405.7,196.9 404.3,198.5 401.5,202.6 400.8,203.8 398.7,205.4 396.8,206.2 395.9,205.7 393.1,204 392.8,203.8 390.2,204.6 388.8,205.8 387.4,207.3 384.6,209.5 383.8,209.9 381.8,205.1 379,199.3 378.8,198.9 377.8,199.8 376.2,201.2 374.8,202.5 373.4,199.5 372.8,198.5 371.8,196.7 370.6,194 367.9,187 367.8,186.8 366.9,184.5 365,181.8 362.9,179.4 362.1,178.6 361.9,178.2 359.9,175.3 359.3,173.1 358.9,171.2 357.9,167.2 356.5,165.9 355.5,165.1 354.9,173.2 353.7,189.5 352.9,200.7 350.9,201.9 348.9,203.9 348.1,204.6 347.9,204.8 345.3,195.5 343.9,190.6 342.5,186.7 341.9,185.5 340.9,183.3 339.9,181.1 339.7,181.4 337.9,183.2 336.9,184.2 336.9,184.1 335,180.9 334.1,179.3 334,179.1 332,181.7 331.2,182.6 331,183 328.4,178.6 328,177.9 325.6,247.3 325.2,257.9 322.8,256.1 321.7,255.4 320,253.9 317.7,252.7 317.2,252.1 314.7,247.9 314.4,247.3 314.1,247 313.7,246.5 311.6,250.1 310.7,251.4 309.7,253 308.8,253.9 307.7,254.9 305.9,256.4 303.7,258.5 303.1,258.7 301.7,259.7 300.3,260.8 297.7,261.2 297.5,261.2 294.7,262.4 291.9,262.4 291.8,262.4 289.8,262.5 289.1,262.4 286.3,262.3 285.8,262.2 283.5,261.8 281.8,261.4 280.7,261.1 279.8,261 277.9,261.1 277.8,261.1 275,261.5 272.2,261.5 269.8,261.2 269.4,261.2 266.6,261.3 263.8,261.1 261.8,261.3 261,261.4 259.9,261.4 258.2,261.7 255.4,262.1 253.9,262.2 252.6,262.3 249.9,263 249.8,263 246.9,263.2 245.9,263 244.1,262.8 241.3,262.5 239.9,262.3 238.5,262.1 235.7,262.6 232.9,261.9 230.1,262 229.9,262 227.3,261.6 224.5,261.1 221.7,259.7 220,259.6 218.8,258.3 217.6,256.6 216,256.1 216,256.1 213.2,255.3 212.6,255.3 210.4,255.4 207.6,255.2 207.6,255.1 204.8,253 204.7,252.9 203.7,254.3 202.7,255.7 202,256 199.2,257.3 198.7,257.4 197.7,257.5 196.7,257.7 196.4,257.7 195.7,258 193.6,258.8 192.7,259.2 190.7,260.3 187.9,261.6 187.7,261.7 185.1,262.1 183.7,262.2 182.7,262.2 182.3,262.1 181.1,261.8 180.7,261.7 179.5,261.4 177.7,261.2 176.7,261.2 175.7,260.9 173.9,260.4 172.8,260.6 171.1,260.8 168.3,259.7 167.8,259.6 165.4,261.1 162.8,262.2 162.6,262.2 159.8,261.2 157.8,260.7 157,260.8 156.8,260.8 154.2,260.5 152.8,260.5 151.8,260.9 151.4,261 148.6,261.6 147.8,261.9 145.8,262.7 145.8,262.7 143,260.5 142.8,260.5 140.2,258.8 137.8,257 137.3,256.7 134.5,254.5 133.9,254.2 132.9,253.6 131.7,253 128.9,251.2 127.9,250.6 126.1,249.5 125.3,248.9 124.9,248.5 123.3,252.3 122.9,253.4 121.9,253.7 120.5,254.1 119.9,254.3 117.9,254.8 117.7,254.6 115.9,252.9 114.9,252 114.9,251.9 112.9,249.8 112.3,250.3 112.1,250.6 111.9,250.7 109.2,253 107.9,254.7 106.4,254.5 104,253.2 103.6,253 103,252.6 101,251.2 100.8,251.1 100,250.8 98,250.2 98,250.2 96,245.5 95.2,243.7 93,238.3 92.4,244.6 89.8,273.1 89.6,273.2 87,273 86.8,273 86,273 84,272.9 84,272.9 83,273 82,273.1 81.2,273.2 80,273.1 79,273 78.3,272.9 78,272.9 76,272.8 75.5,272.8 75,272.8 74,272.9 72.7,272.9 72,273 71,273.1 69.9,273.1 69,273.1 68,273.1 67.1,273.1 67,273.1 66,273 65,273 64.3,273 64,273 63,273 62,272.9 61.5,272.9 60,272.9 59,272.8 58.7,272.8 57,272.9 56,273 55.9,273 53,273 53,273 52,273.1 50.2,273.2 50,273.2 49,273.2 47.4,273.1 46,273 45,273 44.6,273 43,273.1 42,273.1 41.8,273.1 39,272.8"/>
<polygon fill="#FFFFCC" points="39,267.3 41.8,268.7 42,268.7 43,268.5 44.6,268.1 45,267.9 46,267.9 47.4,268 49,268.2 50,268 50.2,268 52,267.8 53,267.7 53,267.7 55.9,267.7 56,267.7 57,267.9 58.7,267.7 59,267.6 60,267.3 61.5,266.9 62,266.8 63,266.5 64,266.9 64.3,267.1 65,267.3 66,267.6 67,268.2 67.1,268.3 68,268.9 69,268.5 69.9,268.1 71,267.7 72,267.7 72.7,267.8 74,268 75,268.1 75.5,268 76,268 78,267.8 78.3,267.8 79,267.7 80,267.9 81.2,268 82,268 83,268 84,267.9 84,267.9 86,268.1 86.8,268 87,268 89.6,267.8 89.8,267.8 92.4,214.9 93,202.8 95.2,205.4 96,206 98,207.5 98,207.5 100,209 100.8,209.7 101,209.8 103,208.5 103.6,208 104,207.9 106.4,207.6 107.9,206.8 109.2,205.4 111.9,203.2 112.1,203.1 112.3,202.9 112.9,203.8 114.9,206.6 114.9,206.7 115.9,207.9 117.7,210 117.9,210.2 119.9,206.4 120.5,205.3 121.9,202.9 122.9,201.8 123.3,201.3 124.9,199.2 125.3,198.7 126.1,199.7 127.9,201.6 128.9,201.8 131.7,203.4 132.9,204 133.9,204.5 134.5,204.8 137.3,206.1 137.8,206.1 140.2,205.9 142.8,207.5 143,207.6 145.8,207.7 145.8,207.7 147.8,208.8 148.6,208.8 151.4,208 151.8,208 152.8,208.7 154.2,209.7 156.8,211 157,210.9 157.8,210.5 159.8,209.5 162.6,209.4 162.8,209.4 165.4,208.5 167.8,208.7 168.3,209 171.1,209.5 172.8,210.5 173.9,211.1 175.7,212.3 176.7,211.6 177.7,210.4 179.5,208.5 180.7,207.7 181.1,208.1 182.3,209.6 182.7,210 183.7,209.9 185.1,209.7 187.7,209.5 187.9,209.4 190.7,208.8 192.7,207.9 193.6,207.4 195.7,206.5 196.4,207.2 196.7,207.6 197.7,208.7 198.7,209.9 199.2,209.1 202,204.8 202.7,203.6 203.7,200.8 204.7,198 204.8,198.2 207.6,205 207.6,205 210.4,205.4 212.6,206.3 213.2,206.7 216,209.3 216,209.3 217.6,210.2 218.8,211.2 220,211.9 221.7,212.4 224.5,213.9 227.3,215.8 229.9,216.9 230.1,216.9 232.9,216.2 235.7,216.2 238.5,216.3 239.9,215.7 241.3,215.4 244.1,216.9 245.9,216.9 246.9,216.8 249.8,216.8 249.9,216.9 252.6,217 253.9,216.4 255.4,215.7 258.2,215.6 259.9,215.4 261,215.4 261.8,215.2 263.8,214.9 266.6,215.4 269.4,215 269.8,214.9 272.2,215.9 275,217.7 277.8,219.3 277.9,219.3 279.8,219 280.7,218.9 281.8,218.4 283.5,217.6 285.8,217.2 286.3,217.3 289.1,217.9 289.8,217.9 291.8,218.2 291.9,218.2 294.7,217.7 297.5,218.2 297.7,218.2 300.3,216.7 301.7,215.9 303.1,215 303.7,214.7 305.9,211.4 307.7,208.7 308.8,208.6 309.7,208.6 310.7,208.6 311.6,207.8 313.7,205.3 314.1,205.8 314.4,206.1 314.7,206.6 317.2,210 317.7,210.6 320,211.8 321.7,212.5 322.8,213 325.2,214.9 325.6,199.2 328,97.7 328.4,97.4 331,96.7 331.2,96.6 332,96.2 334,95.1 334.1,95.2 335,95.9 336.9,97.4 336.9,97.5 337.9,96.7 339.7,95.4 339.9,95.3 340.9,94.8 341.9,95.8 342.5,96.4 343.9,97.5 345.3,98.6 347.9,100.3 348.1,100 348.9,99.4 350.9,97.9 352.9,95.7 353.7,88.9 354.9,79.2 355.5,74.4 356.5,75.3 357.9,76.4 358.9,77.1 359.3,78 359.9,79.1 361.9,83.2 362.1,83.8 362.9,85.2 365,85.4 366.9,86 367.8,86.2 367.9,86.2 370.6,90.5 371.8,92.8 372.8,94.6 373.4,94.8 374.8,95.2 376.2,95.6 377.8,96.8 378.8,97.6 379,97.8 381.8,98.4 383.8,99.7 384.6,99.2 387.4,96.9 388.8,95.9 390.2,94.7 392.8,91.7 393.1,91.8 395.9,92.6 396.8,93.1 398.7,95.4 400.8,97.4 401.5,96.5 404.3,94 405.7,92.8 407.1,92.7 409.9,91.5 410.7,91.6 412.7,91.7 412.7,91.7 415.5,90.3 415.7,90.2 418.4,90.8 418.7,90.9 419.7,91.4 421.2,91.8 421.7,91.6 423.7,91.1 424,91.3 425.7,93.7 426.8,95.1 428.7,98 429.6,98.8 432.4,99.6 435.2,101.8 435.6,101.9 438,99.5 439.6,98.6 440.8,98.4 443.6,97.6 444.6,97.1 445.6,96.6 446.4,94.6 447.6,92.1 448.6,90 449.3,92.1 450,94.7 452.1,93.2 454.9,91 455,90.9 456,92.7 457.7,95.8 458,96.4 460,100.6 460.5,100.1 461,99.8 462,99 463.3,98 464,97.1 466.1,99.3 467.9,101.9 468.9,101.3 471.7,98.6 471.9,98.5 473.9,98.7 474.6,98.7 475.9,98.8 477.4,100.4 479.9,103.4 480.2,103.5 482.9,104 483,103.9 484.9,101.4 485.8,100.2 485.9,100.1 488.6,103.8 488.9,104.2 489.9,105.6 491.4,105.8 491.9,105.8 492.9,105.9 494.2,106.1 495.9,105.8 497,104.4 497.9,103.7 498.9,102.9 499.8,102.1 501.8,99.9 502.6,100.2 502.8,100.3 504.2,100.8 505.5,101.3 507.8,102.4 508.3,103.1 508.8,104.1 511.1,108.1 512.8,110.8 513.8,112.3 513.9,112.2 516.7,109.1 517.8,108.4 518.8,107.7 519.5,107.7 520.8,107.2 522.3,106.5 522.8,106.5 523.8,106.4 525.1,105.3 525.8,104.7 527.8,102.8 527.9,102.7 528.8,101.9 530.8,99.9 533.4,96.8 533.6,96.6 533.8,96.4 534.8,97.2 536.4,98.5 536.7,98.8 539.2,101.4 539.7,101.9 540.7,102.3 542,102.9 543.7,103.4 544.8,103.8 545.7,103.9 547.6,104.4 547.7,104.4 548.7,104.9 550.4,105.7 550.7,105.8 551.7,105.2 552.7,104.5 553.2,104.1 553.7,103.8 554.7,103.1 555.7,103.7 556,103.9 558.9,104.9 559.7,105.5 560.7,104.3 561.7,103.1 564.5,98.8 564.7,98.6 566.6,98.1 567.3,97.9 569.6,97.5 570.1,97.4 571.6,97 572.6,96.8 572.9,96.7 574.6,96.1 575.6,95.5 575.7,95.4 577.6,93.7 578.5,92.9 580,91.9 581.3,90.7 584,87.4 584.1,87.6 585,88.5 587,90.8 587,90.8 588,89.4 589.8,86.8 590,86.5 592,83.7 592.6,84.1 594,84.8 595.4,85.5 596,86 597,86.7 598,86.5 598.2,86.4 599.9,85.8 601,85.4 601.9,85 603.8,84.2 603.9,84.2 605.9,83.4 606.6,83.2 606.9,83 609.4,82.1 609.9,82.1 610.9,82 612.2,83.2 614.9,84.9 615,84.8 615.9,84.1 616.9,83.4 617.9,82.7 619.9,80.6 620.7,79.8 620.9,79.6 621.9,78.9 623.5,78.7 624.9,78.2 626.3,77.6 626.9,77.5 628.9,73.4 629.1,72.9 629.9,71.6 630.9,70 631.5,69 631.9,68.2 633.8,63.9 634.7,66.7 634.8,67 636.2,71.5 636.8,73.4 637.5,73.3 637.8,73.4 638.8,73.6 639.8,73.9 640.3,74 641.8,74.1 643.1,75.3 644.8,76.5 645.8,77.1 646,77.2 648.8,78.1 649.8,78.3 651.6,76.3 653.8,73.5 654.4,73.7 654.8,73.8 656.8,74.6 657.2,74.8 658.8,75.4 659.8,76 660,76.1 661.8,77.3 662.8,78 662.8,78 664.8,77.9 665.6,77.9 665.7,77.9 667.7,77.8 668.4,78.1 669.7,78.1 671.2,78.1 671.7,78.4 674.1,75.7 674.7,74.7 675.7,73.2 676.7,73.4 676.9,73.4 678.7,73.8 679.7,74 679.7,74 682.5,72.3 683.7,71.8 684.7,71.4 685.3,71.1 685.7,71.1 688.1,70.9 688.7,70.7 689.7,70.4 690.7,70 690.9,69.9 691.7,69.4 693.7,68.1 693.7,68.2 694.7,69.3 696.5,71.4 696.6,71.5 697.6,72.5 699.4,69.8 699.6,69.4 701.6,67.2 702.2,66.5 702.6,65.6 704,63.2 704.5,62.2 705,61.4 705.2,60.9 705.6,60.2 707.2,63.1 707.8,101.1 707.8,102.4 708.5,150 709.3,155.6 710.1,161.2 710.3,162.6 710.5,164 710.6,163.9 711.1,163.4 712.2,162.2 713.1,161.3 713.4,161 713.8,160.6 714,160.3 715,159.3 715.4,159.5 715.9,159.8 716.2,159.9 716.8,160.2 717.8,160.7 718.4,161 718.7,161.2 719,161.3 721.2,161.7 721.5,161.8 721.8,161.9 722.5,162 723,161.8 723.4,161.7 724.3,161.4 724.6,161.3 724.8,161.2 726.2,160.8 726.7,160.6 727.1,160.5 727.5,160.4 727.6,160.3 728,160.2 728.1,160.1 729.9,158.8 730,158.7 730.3,158.5 730.4,158.4 730.9,158.1 731.8,157.4 732.2,157.1 732.7,156.7 733.1,156.4 733.2,156.2 734,155.6 734.1,155.5 734.6,151.7 735.5,145 735.6,144.3 735.9,142.2 737,133.9 737.8,128 738.7,125.8 738.8,125.5 739,125 740.5,140 741,133.3 741.1,132 741.5,126.7 741.6,125.3 742,120 742.5,112 742.9,105.6 743.4,97.6 743.5,96 744,88 744.3,83 744.5,80 744.8,84 745.4,92 746,100 746.2,101 746.3,101.5 746.5,102.5 747,105 747.1,105.6 748,110 748.5,122.5 749,135 749.9,149.9 750,151 750.6,150.4 751.1,149.9 751.5,149.6 752.3,148.8 752.5,148.6 752.7,148.4 754.5,146.7 754.7,146.5 755.2,146.2 755.5,145.9 756,145.6 756.6,145.1 757,144.8 757.8,144.2 758,144.1 758.4,143.8 758.9,143.4 759,143.3 759.8,143.6 761.2,144.2 761.7,144.4 763.5,145.2 764,145.4 764.4,145.6 764.5,145.6 766.3,147.4 766.7,147.8 766.8,147.9 767.2,148.3 768.1,149.1 769.6,150.6 770.9,151.9 771.2,152.2 772.4,140 772.7,137.1 773.4,130 774.5,114.3 775.2,104 775.5,100 775.6,98.5 775.8,95.6 777,78 777.8,76.8 778,76.5 778,76.5 779,75 780,87.5 780.5,93.8 780.8,98 781,100 781.2,98.4 782,92 782.6,87.2 783,84 783.4,90.8 783.6,94.2 783.6,95 784,101 784.6,111.2 785,118 785.6,129.6 786.4,145.2 786.5,146.3 786.7,151 786.8,150.9 789,147.8 789.2,147.5 789.3,147.4 791.5,143.9 792,143.2 792.1,143 792.4,142.5 793.4,141 793.8,139.7 794.9,136 795.2,135 795.6,133.7 795.7,133.3 796.2,131.7 796.7,130 797.1,123.3 797.5,116.7 797.7,113.3 797.8,111.7 798,108.3 798.5,100 799,96.3 799.5,92.6 800.4,86 800.5,87 802,100 802.3,103 803.3,113.2 803.5,115 804,120 804.1,120.6 804.5,123.1 805,126.2 805.1,126.8 806.1,133.2 806.7,136.7 807,136.8 807.8,137 807.9,137 808,137 808.8,137.2 808.9,137.2 809,137.3 809.3,137.3 809.7,137.4 810.1,137.5 810.7,137.7 811,137.8 811.1,137.8 811.2,137.8 811.6,138 811.8,138.1 812.1,138.2 813.5,138.9 814,139.2 814.4,139.4 814.6,139.5 815,139.7 815.5,139.9 815.6,140 816.3,140 817.2,140 817.4,140 818.2,140 818.6,140 819,140 819.6,140 820,140 820.2,140 820.5,140 821,140 821.2,140 821.9,140.7 822.8,141.6 823,141.8 823,141.8 824.5,143.3 824.7,142 825,140 825.6,136 825.8,134.7 826.5,130 827.9,109 828,107.5 828.5,100 828.6,101.5 830,120 831,127.5 831.2,129 831.4,130.6 832,135 833,127.5 833.4,124.5 834,120 834.2,120.6 834.5,121.2 835,122.5 835.5,123.8 835.6,124 836,125 836.8,130.8 837,132.5 838,139.5 839,146.7 839.9,147.8 841.5,150 842.3,151 842.5,147.4 842.7,144.4 843.5,129.1 844,120 844.5,118 845,116 845.5,123.5 846,132 846.5,140 847.5,143.1 848.3,145.6 848.5,146.3 850,151 851.1,151 851.3,151 851.3,157.8 851.1,157.8 850,157.8 848.5,158.2 848.3,158.3 847.5,158.5 846.5,158.8 846,158.9 845.5,159.1 845,159.2 844.5,159.4 844,159.5 843.5,159.7 842.7,159.9 842.5,159.9 842.3,160 841.5,158.7 839.9,155.9 839,154.5 838,146.4 837,138.6 836.8,136.7 836,131.5 835.6,128.9 835.5,128.3 835,125 834.5,126.6 834.2,127.4 834,128.1 833.4,130 833,132.4 832,138.3 831.4,141.7 831.2,143 831,145.1 830,155.4 828.6,169.9 828.5,171 828,166.7 827.9,165.9 826.5,153.9 825.8,147.9 825.6,146.2 825,146.8 824.7,147.1 824.5,147.3 823,148.8 823,148.8 822.8,149 821.9,148.2 821.2,147.5 821,147.4 820.5,146.9 820.2,146.6 820,146.4 819.6,146.1 819,145.5 818.6,145.2 818.2,144.8 817.4,144.5 817.2,144.4 816.3,144.1 815.6,143.8 815.5,143.8 815,143.6 814.6,143.5 814.4,143.4 814,143.5 813.5,143.6 812.1,143.8 811.8,143.9 811.6,143.9 811.2,144 811.1,144 811,144.1 810.7,144.1 810.1,144.2 809.7,144.3 809.3,145.2 809,145.8 808.9,146 808.8,146.3 808,148 807.9,148.3 807.8,148.5 807,150.2 806.7,150.9 806.1,145.6 805.1,136 805,134.6 804.5,127.5 804.1,121.8 804,121.1 803.5,117.9 803.3,116.7 802.3,110 802,108.3 800.5,99.9 800.4,99.3 799.5,107.7 799,112.4 798.5,119.7 798,127.1 797.8,130 797.7,130.5 797.5,131.5 797.1,133.5 796.7,135.5 796.2,138 795.7,140.5 795.6,141 795.2,141.6 794.9,142.1 793.8,143.7 793.4,144.3 792.4,145.8 792.1,146.3 792,146.5 791.5,147.2 789.3,150.6 789.2,150.7 789,151 786.8,153.3 786.7,153.4 786.5,153.6 786.4,153.7 785.6,154.5 785,145.9 784.6,140.2 784,131.6 783.6,126.6 783.6,125.9 783.4,123 783,124.3 782.6,125.5 782,127.5 781.2,130 781,132.2 780.8,134 780.5,137.8 780,143.4 779,154.5 778,135.6 778,135 777.8,135 777,135 775.8,135 775.6,135 775.5,135.4 775.2,136.4 774.5,139.2 773.4,143.3 772.7,148.3 772.4,150.3 771.2,158.9 770.9,158.6 769.6,157 768.1,155.3 767.2,154.2 766.8,153.8 766.7,153.7 766.3,153.2 764.5,151.1 764.4,151.1 764,151.2 763.5,151.3 761.7,151.6 761.2,151.6 759.8,151.9 759,152 758.9,152 758.4,152.1 758,152.2 757.8,152.2 757,152.7 756.6,152.9 756,153.3 755.5,153.6 755.2,153.8 754.7,154.1 754.5,154.2 752.7,155.3 752.5,155.5 752.3,155.6 751.5,156.7 751.1,157.3 750.6,158 750,158.9 749.9,158.3 749,149.6 748.5,145 748,142.5 747.1,138.1 747,137.5 746.5,135 746.3,134 746.2,135.1 746,137.3 745.4,143.9 744.8,150.6 744.5,153.9 744.3,156 744,159.4 743.5,164.9 743.4,166 742.9,164.6 742.5,163.5 742,162.1 741.6,161 741.5,160 741.1,156.2 741,155.2 740.5,150.4 739,135.9 738.8,134 738.7,135 737.8,142.9 737,150 735.9,157 735.6,158.7 735.5,159.4 734.6,165 734.1,164.2 734,164.1 733.2,162.8 733.1,162.6 732.7,162 732.2,162.9 731.8,163.6 730.9,165.2 730.4,166.1 730.3,166.3 730,166.8 729.9,166.8 728.1,166.8 728,166.8 727.6,166.8 727.5,166.8 727.1,166.8 726.7,166.8 726.2,166.8 724.8,167.9 724.6,168 724.3,168.2 723.4,168.9 723,169.2 722.5,169.6 721.8,169.3 721.5,169.1 721.2,169 719,167.9 718.7,167.7 718.4,167.9 717.8,168.2 716.8,168.7 716.2,169 715.9,169.1 715.4,169.4 715,169.6 714,172.2 713.8,172.8 713.4,173.8 713.1,174.6 712.2,177 711.1,172.5 710.6,170.4 710.5,170 710.3,169 710.1,168 709.3,164 708.5,160 707.8,137.6 707.8,137 707.2,119.2 705.6,119.2 705.2,119.3 705,121.8 704.5,126.5 704,131.5 702.6,145.1 702.2,145.6 701.6,146.1 699.6,148 699.4,147.7 697.6,146.3 696.6,145.5 696.5,145 694.7,135.6 693.7,130.9 693.7,130.6 691.7,132.3 690.9,132.9 690.7,133.3 689.7,134.6 688.7,135.4 688.1,135.9 685.7,137.8 685.3,138.1 684.7,138.4 683.7,138.8 682.5,140 679.7,143.7 679.7,143.7 678.7,145.1 676.9,151.8 676.7,152.4 675.7,153 674.7,153.6 674.1,154 671.7,155.1 671.2,155.2 669.7,155.9 668.4,156.5 667.7,156.8 665.7,157.5 665.6,157.4 664.8,156.3 662.8,153.9 662.8,153.8 661.8,152.8 660,151 659.8,150.8 658.8,149.6 657.2,147.9 656.8,147.6 654.8,149.9 654.4,150.3 653.8,151 651.6,153.2 649.8,154.9 648.8,153.6 646,150 645.8,149.8 644.8,148.9 643.1,147.7 641.8,146 640.3,144 639.8,143.7 638.8,143 637.8,139.5 637.5,138.5 636.8,135.7 636.2,133.3 634.8,124.7 634.7,123.9 633.8,118.7 631.9,130.2 631.5,133.1 630.9,136.2 629.9,141.4 629.1,145.3 628.9,146.5 626.9,150.4 626.3,151.6 624.9,154.9 623.5,154.1 621.9,152.8 620.9,152 620.7,152.3 619.9,153.7 617.9,157 616.9,159.1 615.9,161.2 615,161.8 614.9,161.8 612.2,162.3 610.9,162.5 609.9,162.6 609.4,162.9 606.9,165.7 606.6,166 605.9,166.5 603.9,168 603.8,167.9 601.9,167.1 601,166.7 599.9,166.1 598.2,168.7 598,169 597,170.4 596,171.7 595.4,171.5 594,171.3 592.6,171 592,170.9 590,178.8 589.8,179.6 588,186.9 587,187.2 587,187.2 585,188 584.1,188.3 584,188.3 581.3,188.9 580,189.6 578.5,191.9 577.6,193.6 575.7,197.1 575.6,197.3 574.6,197.3 572.9,197.4 572.6,197.3 571.6,196.9 570.1,198 569.6,198.4 567.3,200.8 566.6,201.4 564.7,201.6 564.5,201.7 561.7,202.3 560.7,202.4 559.7,203 558.9,203.5 556,205.8 555.7,206 554.7,204.4 553.7,202.7 553.2,201.9 552.7,201.1 551.7,201.9 550.7,202.6 550.4,202.9 548.7,203.8 547.7,203.2 547.6,203.1 545.7,202.2 544.8,201.8 543.7,201.5 542,198.8 540.7,196.6 539.7,196.2 539.2,196 536.7,195.7 536.4,195 534.8,191.9 533.8,190 533.6,189.7 533.4,189.2 530.8,192.4 528.8,195.6 527.9,197 527.8,197.2 525.8,200.8 525.1,201.9 523.8,204.4 522.8,206.3 522.3,206.4 520.8,206.1 519.5,205.8 518.8,205.8 517.8,205.5 516.7,205.3 513.9,204.9 513.8,204.8 512.8,203.4 511.1,201 508.8,198 508.3,197.1 507.8,196.3 505.5,191.9 504.2,189.9 502.8,191.1 502.6,191.3 501.8,191.9 499.8,193.5 498.9,194 497.9,194.6 497,195 495.9,196.1 494.2,197.5 492.9,198.6 491.9,198.5 491.4,198.4 489.9,198.3 488.9,198.3 488.6,198.5 485.9,200.4 485.8,200.5 484.9,200.9 483,198.8 482.9,198.7 480.2,195.8 479.9,195.5 477.4,192.2 475.9,190.8 474.6,191.9 473.9,192.3 471.9,193.3 471.7,193.1 468.9,189.2 467.9,187.8 466.1,189.4 464,191.8 463.3,191.5 462,190.4 461,189.6 460.5,188 460,186.3 458,179.7 457.7,179.5 456,177.7 455,176.6 454.9,176.7 452.1,179.4 450,182 449.3,181.9 448.6,181.7 447.6,181.3 446.4,182.1 445.6,182.5 444.6,183 443.6,184.3 440.8,188.8 439.6,190.8 438,192.6 435.6,195.3 435.2,195.4 432.4,194.8 429.6,194.7 428.7,194.6 426.8,187 425.7,182.9 424,183.3 423.7,183.2 421.7,182.6 421.2,182.9 419.7,184.9 418.7,186.3 418.4,186.1 415.7,184.4 415.5,184.3 412.7,184.4 412.7,184.4 410.7,181.4 409.9,181.8 407.1,183.5 405.7,184.2 404.3,186.4 401.5,190.3 400.8,191.6 398.7,192.8 396.8,193.4 395.9,193.2 393.1,192.9 392.8,192.8 390.2,194.4 388.8,195.6 387.4,196.1 384.6,198.1 383.8,198.4 381.8,195.6 379,191.5 378.8,191.2 377.8,191.6 376.2,192.3 374.8,192.8 373.4,190.8 372.8,190 371.8,188.6 370.6,185.5 367.9,179.7 367.8,179.5 366.9,177.3 365,173.5 362.9,168.7 362.1,167.1 361.9,166.6 359.9,161.8 359.3,160.5 358.9,159.1 357.9,156.2 356.5,148.3 355.5,142.5 354.9,152.1 353.7,171.4 352.9,184.8 350.9,186.1 348.9,187.5 348.1,188.1 347.9,188.2 345.3,181.7 343.9,178.1 342.5,174.2 341.9,172.8 340.9,170.2 339.9,167.7 339.7,167.7 337.9,168.5 336.9,169 336.9,168.8 335,164.6 334.1,162.6 334,162.4 332,165.2 331.2,166.2 331,166.7 328.4,164.6 328,164.1 325.6,240.7 325.2,252.6 322.8,250.2 321.7,248.8 320,247 317.7,244.8 317.2,244 314.7,240.2 314.4,239.7 314.1,239.2 313.7,239.8 311.6,243.1 310.7,244.9 309.7,246.9 308.8,248 307.7,249 305.9,250.7 303.7,252.6 303.1,252.8 301.7,253.9 300.3,254.9 297.7,255.7 297.5,255.7 294.7,255.8 291.9,256.6 291.8,256.6 289.8,256.8 289.1,256.7 286.3,255.6 285.8,255.7 283.5,255.9 281.8,255.2 280.7,254.8 279.8,254.6 277.9,254.4 277.8,254.4 275,254.6 272.2,254.1 269.8,254.4 269.4,254.5 266.6,254.9 263.8,255.1 261.8,255.3 261,255.4 259.9,255.6 258.2,256 255.4,256.2 253.9,256.5 252.6,256.8 249.9,257.4 249.8,257.4 246.9,258.8 245.9,258.9 244.1,259 241.3,259.7 239.9,260 238.5,259.6 235.7,258.4 232.9,258.2 230.1,258 229.9,258 227.3,256.3 224.5,255.8 221.7,253.9 220,253.7 218.8,253 217.6,252 216,251.4 216,251.3 213.2,249.9 212.6,249.6 210.4,248.7 207.6,248.9 207.6,248.9 204.8,245.2 204.7,245.1 203.7,247.9 202.7,250.7 202,251 199.2,251.7 198.7,252 197.7,252.7 196.7,253.6 196.4,253.9 195.7,254.3 193.6,255.5 192.7,255.8 190.7,256 187.9,257.8 187.7,257.9 185.1,258.1 183.7,258.2 182.7,258.3 182.3,258.2 181.1,258.3 180.7,258.3 179.5,258.4 177.7,257.7 176.7,257.3 175.7,257 173.9,256.5 172.8,256.5 171.1,256.3 168.3,254.7 167.8,254.7 165.4,256.6 162.8,257.2 162.6,257.2 159.8,258 157.8,257.4 157,257 156.8,257 154.2,257 152.8,256.9 151.8,256.8 151.4,256.8 148.6,255.6 147.8,255.7 145.8,255.7 145.8,255.7 143,254.4 142.8,254.3 140.2,252.1 137.8,250.6 137.3,250.4 134.5,248.4 133.9,248.1 132.9,247.7 131.7,247.1 128.9,244.4 127.9,243.7 126.1,241.6 125.3,240.4 124.9,241.4 123.3,245.3 122.9,246.5 121.9,247.4 120.5,248.7 119.9,249 117.9,249.2 117.7,249.3 115.9,249.7 114.9,248.2 114.9,248.1 112.9,245 112.3,244.1 112.1,243.7 111.9,243.5 109.2,246.6 107.9,248.6 106.4,248.6 104,248.3 103.6,248.2 103,248.1 101,247.3 100.8,247.2 100,246.9 98,246.1 98,246.1 96,242.7 95.2,239.2 93,229.8 92.4,237.9 89.8,272.7 89.6,272.7 87,272.8 86.8,272.8 86,272.7 84,272.6 84,272.6 83,272.6 82,272.6 81.2,272.6 80,272.5 79,272.4 78.3,272.4 78,272.5 76,272.7 75.5,272.8 75,272.7 74,272.6 72.7,272.4 72,272.4 71,272.5 69.9,272.6 69,272.7 68,272.7 67.1,272.8 67,272.8 66,272.8 65,272.7 64.3,272.7 64,272.7 63,272.6 62,272.5 61.5,272.5 60,272.5 59,272.4 58.7,272.4 57,272.5 56,272.6 55.9,272.6 53,272.4 53,272.4 52,272.6 50.2,272.8 50,272.8 49,272.6 47.4,272.4 46,272.4 45,272.4 44.6,272.4 43,272.4 42,272.4 41.8,272.5 39,272.4"/>
<polygon fill="#CCFFFF" points="39,253.8 41.8,255.1 42,255.2 43,255.2 44.6,255.1 45,255 46,254.6 47.4,254 49,253.4 50,253.2 50.2,253.2 52,253 53,252.8 53,252.8 55.9,254 56,254.1 57,254.4 58.7,255 59,255.1 60,254.8 61.5,254.3 62,254.2 63,254.3 64,254.5 64.3,254.5 65,254.6 66,255.5 67,256.3 67.1,256.4 68,257 69,256.5 69.9,255.9 71,255.6 72,256.1 72.7,256.5 74,256.9 75,256.7 75.5,256.6 76,256.6 78,256.3 78.3,256.2 79,256.1 80,255.8 81.2,255.6 82,255.3 83,254.8 84,254.3 84,254.3 86,253.5 86.8,253.6 87,253.7 89.6,254.4 89.8,254.5 92.4,190.8 93,176 95.2,174.6 96,174.4 98,173.9 98,173.8 100,172.9 100.8,172.5 101,172.4 103,171.9 103.6,171.7 104,171.5 106.4,170.1 107.9,169.9 109.2,168.9 111.9,166.4 112.1,166.7 112.3,167.1 112.9,168.2 114.9,171.6 114.9,171.7 115.9,171.1 117.7,170.1 117.9,170 119.9,169 120.5,168.5 121.9,167.1 122.9,166.2 123.3,165.8 124.9,163.8 125.3,164.1 126.1,164.7 127.9,166.9 128.9,166.9 131.7,166.5 132.9,166.3 133.9,166.9 134.5,167.3 137.3,168.6 137.8,168.9 140.2,170.7 142.8,172 143,172 145.8,171.6 145.8,171.6 147.8,171.7 148.6,171.8 151.4,172.7 151.8,172.8 152.8,173 154.2,174.6 156.8,177.8 157,177.8 157.8,177.5 159.8,176.9 162.6,175.6 162.8,175.6 165.4,176.1 167.8,176.7 168.3,177 171.1,177.8 172.8,178.3 173.9,177.8 175.7,177.8 176.7,177.7 177.7,177.2 179.5,173.7 180.7,171.5 181.1,170.8 182.3,174.2 182.7,175.4 183.7,178.4 185.1,178.7 187.7,178.7 187.9,178.6 190.7,178 192.7,177.9 193.6,177.4 195.7,175.9 196.4,175.5 196.7,175.2 197.7,176 198.7,176.9 199.2,176.2 202,172.6 202.7,171.8 203.7,170.8 204.7,172.4 204.8,172.6 207.6,176.7 207.6,176.8 210.4,175.7 212.6,174.7 213.2,175.1 216,177.9 216,177.9 217.6,178.8 218.8,179.1 220,179.5 221.7,179.9 224.5,181.5 227.3,182.4 229.9,182.6 230.1,182.6 232.9,182.2 235.7,182.4 238.5,182.5 239.9,182 241.3,182 244.1,183.1 245.9,183.3 246.9,182.8 249.8,182 249.9,181.9 252.6,180.4 253.9,179.8 255.4,179.6 258.2,179.5 259.9,179.2 261,179 261.8,178.8 263.8,177.6 266.6,176.4 269.4,175.6 269.8,175.4 272.2,178 275,180.8 277.8,184.1 277.9,184 279.8,181.7 280.7,180.6 281.8,179.6 283.5,181.5 285.8,184.2 286.3,184.3 289.1,183.5 289.8,183.7 291.8,184.4 291.9,184.5 294.7,186.2 297.5,187.9 297.7,188 300.3,183.8 301.7,181.6 303.1,179.3 303.7,178.5 305.9,175.3 307.7,173 308.8,172 309.7,170.8 310.7,169.5 311.6,168.4 313.7,166.3 314.1,165.9 314.4,165.6 314.7,165.2 317.2,168.8 317.7,169.7 320,170.9 321.7,171.3 322.8,172.3 325.2,174.2 325.6,158 328,53.7 328.4,52.4 331,46.1 331.2,45.4 332,43.6 334,44.8 334.1,44.8 335,45.4 336.9,42.3 336.9,42.1 337.9,40.7 339.7,42.9 339.9,43.2 340.9,44.1 341.9,45 342.5,45.7 343.9,47.9 345.3,50 347.9,53.3 348.1,53.5 348.9,54.7 350.9,52.1 352.9,49.8 353.7,48.9 354.9,47.4 355.5,47.3 356.5,47.1 357.9,46.2 358.9,45.6 359.3,45.7 359.9,46.1 361.9,47.6 362.1,47.9 362.9,48.2 365,44.3 366.9,40.6 367.8,42.4 367.9,42.6 370.6,49.3 371.8,51.9 372.8,51.9 373.4,51.9 374.8,52.2 376.2,52.5 377.8,53.1 378.8,54.1 379,54.3 381.8,56.2 383.8,57.2 384.6,55.9 387.4,52.9 388.8,50.8 390.2,48.9 392.8,47.3 393.1,47.6 395.9,49.3 396.8,50 398.7,51.5 400.8,52.5 401.5,51.5 404.3,48.2 405.7,46.7 407.1,47.2 409.9,47.6 410.7,47.9 412.7,47.5 412.7,47.5 415.5,45.8 415.7,45.7 418.4,47.1 418.7,47.3 419.7,47.7 421.2,47.1 421.7,47.1 423.7,46.9 424,47.4 425.7,50.4 426.8,52.4 428.7,54.9 429.6,54.8 432.4,55.7 435.2,55.5 435.6,55.6 438,52.8 439.6,50.1 440.8,49.5 443.6,48.2 444.6,48.1 445.6,48 446.4,48 447.6,47.8 448.6,47.6 449.3,47.5 450,47.1 452.1,46.2 454.9,45.7 455,45.7 456,45.6 457.7,47.1 458,47.3 460,49.2 460.5,49.7 461,50.2 462,51.2 463.3,51 464,50.7 466.1,49.9 467.9,48.9 468.9,49.2 471.7,50.3 471.9,50.4 473.9,51.9 474.6,52 475.9,52 477.4,52 479.9,51.7 480.2,51.7 482.9,53 483,53 484.9,54 485.8,54.4 485.9,54.4 488.6,53.5 488.9,53.5 489.9,53.6 491.4,53.7 491.9,53.8 492.9,53.2 494.2,52.3 495.9,50.5 497,49.2 497.9,48.5 498.9,47.7 499.8,46.9 501.8,45.4 502.6,44.7 502.8,44.6 504.2,46.6 505.5,48.4 507.8,50.6 508.3,51.4 508.8,52.5 511.1,57 512.8,60.8 513.8,63 513.9,62.9 516.7,60.3 517.8,59.2 518.8,58.2 519.5,58 520.8,57.6 522.3,57.1 522.8,57.1 523.8,57.1 525.1,56 525.8,55.2 527.8,52.6 527.9,52.3 528.8,51.6 530.8,50.5 533.4,48.7 533.6,48.6 533.8,48.4 534.8,47.9 536.4,49.9 536.7,50.2 539.2,52.8 539.7,53.4 540.7,54.5 542,55.4 543.7,57.2 544.8,58.3 545.7,58.7 547.6,59.6 547.7,59.7 548.7,59.6 550.4,59.4 550.7,59.4 551.7,59.4 552.7,59.4 553.2,59.4 553.7,59.2 554.7,58.7 555.7,58.1 556,57.9 558.9,57 559.7,56.8 560.7,55.5 561.7,54.2 564.5,49.7 564.7,49.4 566.6,51 567.3,51.5 569.6,53.9 570.1,53.1 571.6,49.9 572.6,47.8 572.9,48.2 574.6,50.9 575.6,52.4 575.7,52.4 577.6,50.8 578.5,50 580,48.9 581.3,47.8 584,45.2 584.1,45.1 585,44.1 587,42.4 587,42.3 588,41.4 589.8,39.8 590,39.7 592,38.7 592.6,38.4 594,37 595.4,37.7 596,38.2 597,39.2 598,40.2 598.2,40.1 599.9,38.8 601,38 601.9,37.9 603.8,39.8 603.9,39.9 605.9,41.3 606.6,40.7 606.9,40.5 609.4,38.3 609.9,37.9 610.9,38.6 612.2,39.6 614.9,41.6 615,41.5 615.9,41.1 616.9,40.6 617.9,40.2 619.9,39 620.7,38.7 620.9,38.6 621.9,38.3 623.5,37.7 624.9,36.8 626.3,35.6 626.9,35.4 628.9,34.4 629.1,34.3 629.9,34 630.9,33.9 631.5,33.9 631.9,33.8 633.8,33.2 634.7,32.9 634.8,32.9 636.2,34 636.8,34.5 637.5,35.1 637.8,35.2 638.8,35.6 639.8,36.1 640.3,36.4 641.8,37.5 643.1,38.4 644.8,40.1 645.8,39.7 646,39.7 648.8,37.5 649.8,36.9 651.6,36.3 653.8,35.5 654.4,35.3 654.8,35.1 656.8,36.5 657.2,36.8 658.8,37.3 659.8,37.7 660,37.7 661.8,38.9 662.8,39.5 662.8,39.6 664.8,40.1 665.6,39.5 665.7,39.4 667.7,38.1 668.4,37.6 669.7,36.8 671.2,36.2 671.7,36.1 674.1,35.7 674.7,35.5 675.7,35 676.7,34.5 676.9,34.4 678.7,33.2 679.7,33.8 679.7,33.8 682.5,35.8 683.7,37.1 684.7,37.7 685.3,38.1 685.7,38.1 688.1,38.2 688.7,38.4 689.7,37.8 690.7,37.1 690.9,36.9 691.7,36.6 693.7,37.7 693.7,37.8 694.7,38.2 696.5,39 696.6,39 697.6,38.4 699.4,37.3 699.6,37.2 701.6,36.6 702.2,36.5 702.6,36.3 704,35.9 704.5,35.8 705,35.7 705.2,35.6 705.6,35.6 707.2,38 707.8,71.7 707.8,72.9 708.5,115 709.3,117.6 710.1,120.2 710.3,120.8 710.5,120.9 710.6,120.9 711.1,121 712.2,121.3 713.1,121.6 713.4,121.6 713.8,121.7 714,121.8 715,120.4 715.4,119.9 715.9,119.2 716.2,118.8 716.8,118 717.8,116.4 718.4,115.4 718.7,115 719,114.5 721.2,111 721.5,110.5 721.8,111.6 722.5,113.9 723,115.6 723.4,117 724.3,118.2 724.6,118.6 724.8,118.8 726.2,120.6 726.7,121.3 727.1,121.8 727.5,121.7 727.6,121.7 728,121.6 728.1,121.5 729.9,121.1 730,121 730.3,121 730.4,120.9 730.9,120.8 731.8,121.3 732.2,121.6 732.7,121.9 733.1,122.1 733.2,122.2 734,122.6 734.1,122.7 734.6,111 735.5,90 735.6,89.8 735.9,89.2 737,87 737.8,87 738.7,87 738.8,87 739,87 740.5,84 741,83 741.1,81.8 741.5,77 741.6,75.8 742,71 742.5,65 742.9,64.7 743.4,64.4 743.5,64.3 744,64 744.3,63.8 744.5,63.6 744.8,63.4 745.4,63 746,64.1 746.2,64.5 746.3,64.6 746.5,65 747,74 747.1,76.2 748,92 748.5,94.7 749,97.4 749.9,102.5 750,102.9 750.6,106.1 751.1,108.8 751.5,111 752.3,111.6 752.5,111.8 752.7,112 754.5,113.4 754.7,113.5 755.2,113.9 755.5,113.5 756,112.9 756.6,112.2 757,111.7 757.8,110.7 758,110.4 758.4,110 758.9,109.3 759,109.4 759.8,110 761.2,111.1 761.7,111.6 763.5,113 764,113.2 764.4,113.4 764.5,113.5 766.3,114.4 766.7,114.6 766.8,114.6 767.2,114.8 768.1,115.2 769.6,116 770.9,116.6 771.2,115.3 772.4,110.2 772.7,109 773.4,98.9 774.5,83 775.2,71.9 775.5,67.6 775.6,66.1 775.8,63 777,66 777.8,66 778,66 778,66 779,66 780,66 780.5,62.8 780.8,60.5 781,59.5 781.2,58.2 782,53 782.6,53 783,53 783.4,53 783.6,53 783.6,53 784,53 784.6,66.4 785,75.3 785.6,88.7 786.4,106.6 786.5,107.9 786.7,113.3 786.8,115.5 789,110.9 789.2,110.5 789.3,110.3 791.5,105.7 792,104.6 792.1,104.5 792.4,103.8 793.4,101.7 793.8,100.9 794.9,98.6 795.2,98 795.6,97.1 795.7,96.9 796.2,95.9 796.7,94.8 797.1,94 797.5,95 797.7,91 797.8,89 798,85 798.5,71.3 799,57.7 799.5,44 800.4,42.5 800.5,42.5 802,42.5 802.3,47 803.3,62.3 803.5,65 804,70.3 804.1,71.4 804.5,75.7 805,81 805.1,82.3 806.1,96.1 806.7,103.7 807,107.7 807.8,108.7 807.9,108.8 808,108.9 808.8,109.9 808.9,110.1 809,110.1 809.3,110.5 809.7,110.9 810.1,111.3 810.7,112 811,112.3 811.1,112.4 811.2,112.5 811.6,112.9 811.8,113 812.1,113.4 813.5,111.6 814,111 814.4,110.5 814.6,109.9 815,108.1 815.5,106.2 815.6,105.8 816.3,103 817.2,106.6 817.4,107.2 818.2,110.5 818.6,111.3 819,112.1 819.6,113.2 820,114 820.2,114.4 820.5,115 821,116 821.2,115.9 821.9,115.5 822.8,115 823,114.5 823,114.5 824.5,111 824.7,110.5 825,108.7 825.6,105 825.8,103.7 826.5,99 827.9,89.7 828,89 828.5,89 828.6,89 830,89 831,89 831.2,87.6 831.4,86.1 832,82 833,75 833.4,71.8 834,67 834.2,65.2 834.5,63 835,81.5 835.5,100 835.6,100.6 836,102.8 836.8,107.3 837,108.6 838,114 839,110.9 839.9,108.2 841.5,103 842.3,95 842.5,93 842.7,91.7 843.5,85 844,89 844.5,93 845,97 845.5,100.8 846,105 846.5,110.7 847.5,122 848.3,122 848.5,122 850,122 851.1,122 851.3,122 851.3,151 851.1,151 850,151 848.5,146.3 848.3,145.6 847.5,143.1 846.5,140 846,132 845.5,123.5 845,116 844.5,118 844,120 843.5,129.1 842.7,144.4 842.5,147.4 842.3,151 841.5,150 839.9,147.8 839,146.7 838,139.5 837,132.5 836.8,130.8 836,125 835.6,124 835.5,123.8 835,122.5 834.5,121.2 834.2,120.6 834,120 833.4,124.5 833,127.5 832,135 831.4,130.6 831.2,129 831,127.5 830,120 828.6,101.5 828.5,100 828,107.5 827.9,109 826.5,130 825.8,134.7 825.6,136 825,140 824.7,142 824.5,143.3 823,141.8 823,141.8 822.8,141.6 821.9,140.7 821.2,140 821,140 820.5,140 820.2,140 820,140 819.6,140 819,140 818.6,140 818.2,140 817.4,140 817.2,140 816.3,140 815.6,140 815.5,139.9 815,139.7 814.6,139.5 814.4,139.4 814,139.2 813.5,138.9 812.1,138.2 811.8,138.1 811.6,138 811.2,137.8 811.1,137.8 811,137.8 810.7,137.7 810.1,137.5 809.7,137.4 809.3,137.3 809,137.3 808.9,137.2 808.8,137.2 808,137 807.9,137 807.8,137 807,136.8 806.7,136.7 806.1,133.2 805.1,126.8 805,126.2 804.5,123.1 804.1,120.6 804,120 803.5,115 803.3,113.2 802.3,103 802,100 800.5,87 800.4,86 799.5,92.6 799,96.3 798.5,100 798,108.3 797.8,111.7 797.7,113.3 797.5,116.7 797.1,123.3 796.7,130 796.2,131.7 795.7,133.3 795.6,133.7 795.2,135 794.9,136 793.8,139.7 793.4,141 792.4,142.5 792.1,143 792,143.2 791.5,143.9 789.3,147.4 789.2,147.5 789,147.8 786.8,150.9 786.7,151 786.5,146.3 786.4,145.2 785.6,129.6 785,118 784.6,111.2 784,101 783.6,95 783.6,94.2 783.4,90.8 783,84 782.6,87.2 782,92 781.2,98.4 781,100 780.8,98 780.5,93.8 780,87.5 779,75 778,76.5 778,76.5 777.8,76.8 777,78 775.8,95.6 775.6,98.5 775.5,100 775.2,104 774.5,114.3 773.4,130 772.7,137.1 772.4,140 771.2,152.2 770.9,151.9 769.6,150.6 768.1,149.1 767.2,148.3 766.8,147.9 766.7,147.8 766.3,147.4 764.5,145.6 764.4,145.6 764,145.4 763.5,145.2 761.7,144.4 761.2,144.2 759.8,143.6 759,143.3 758.9,143.4 758.4,143.8 758,144.1 757.8,144.2 757,144.8 756.6,145.1 756,145.6 755.5,145.9 755.2,146.2 754.7,146.5 754.5,146.7 752.7,148.4 752.5,148.6 752.3,148.8 751.5,149.6 751.1,149.9 750.6,150.4 750,151 749.9,149.9 749,135 748.5,122.5 748,110 747.1,105.6 747,105 746.5,102.5 746.3,101.5 746.2,101 746,100 745.4,92 744.8,84 744.5,80 744.3,83 744,88 743.5,96 743.4,97.6 742.9,105.6 742.5,112 742,120 741.6,125.3 741.5,126.7 741.1,132 741,133.3 740.5,140 739,125 738.8,125.5 738.7,125.8 737.8,128 737,133.9 735.9,142.2 735.6,144.3 735.5,145 734.6,151.7 734.1,155.5 734,155.6 733.2,156.2 733.1,156.4 732.7,156.7 732.2,157.1 731.8,157.4 730.9,158.1 730.4,158.4 730.3,158.5 730,158.7 729.9,158.8 728.1,160.1 728,160.2 727.6,160.3 727.5,160.4 727.1,160.5 726.7,160.6 726.2,160.8 724.8,161.2 724.6,161.3 724.3,161.4 723.4,161.7 723,161.8 722.5,162 721.8,161.9 721.5,161.8 721.2,161.7 719,161.3 718.7,161.2 718.4,161 717.8,160.7 716.8,160.2 716.2,159.9 715.9,159.8 715.4,159.5 715,159.3 714,160.3 713.8,160.6 713.4,161 713.1,161.3 712.2,162.2 711.1,163.4 710.6,163.9 710.5,164 710.3,162.6 710.1,161.2 709.3,155.6 708.5,150 707.8,102.4 707.8,101.1 707.2,63.1 705.6,60.2 705.2,60.9 705,61.4 704.5,62.2 704,63.2 702.6,65.6 702.2,66.5 701.6,67.2 699.6,69.4 699.4,69.8 697.6,72.5 696.6,71.5 696.5,71.4 694.7,69.3 693.7,68.2 693.7,68.1 691.7,69.4 690.9,69.9 690.7,70 689.7,70.4 688.7,70.7 688.1,70.9 685.7,71.1 685.3,71.1 684.7,71.4 683.7,71.8 682.5,72.3 679.7,74 679.7,74 678.7,73.8 676.9,73.4 676.7,73.4 675.7,73.2 674.7,74.7 674.1,75.7 671.7,78.4 671.2,78.1 669.7,78.1 668.4,78.1 667.7,77.8 665.7,77.9 665.6,77.9 664.8,77.9 662.8,78 662.8,78 661.8,77.3 660,76.1 659.8,76 658.8,75.4 657.2,74.8 656.8,74.6 654.8,73.8 654.4,73.7 653.8,73.5 651.6,76.3 649.8,78.3 648.8,78.1 646,77.2 645.8,77.1 644.8,76.5 643.1,75.3 641.8,74.1 640.3,74 639.8,73.9 638.8,73.6 637.8,73.4 637.5,73.3 636.8,73.4 636.2,71.5 634.8,67 634.7,66.7 633.8,63.9 631.9,68.2 631.5,69 630.9,70 629.9,71.6 629.1,72.9 628.9,73.4 626.9,77.5 626.3,77.6 624.9,78.2 623.5,78.7 621.9,78.9 620.9,79.6 620.7,79.8 619.9,80.6 617.9,82.7 616.9,83.4 615.9,84.1 615,84.8 614.9,84.9 612.2,83.2 610.9,82 609.9,82.1 609.4,82.1 606.9,83 606.6,83.2 605.9,83.4 603.9,84.2 603.8,84.2 601.9,85 601,85.4 599.9,85.8 598.2,86.4 598,86.5 597,86.7 596,86 595.4,85.5 594,84.8 592.6,84.1 592,83.7 590,86.5 589.8,86.8 588,89.4 587,90.8 587,90.8 585,88.5 584.1,87.6 584,87.4 581.3,90.7 580,91.9 578.5,92.9 577.6,93.7 575.7,95.4 575.6,95.5 574.6,96.1 572.9,96.7 572.6,96.8 571.6,97 570.1,97.4 569.6,97.5 567.3,97.9 566.6,98.1 564.7,98.6 564.5,98.8 561.7,103.1 560.7,104.3 559.7,105.5 558.9,104.9 556,103.9 555.7,103.7 554.7,103.1 553.7,103.8 553.2,104.1 552.7,104.5 551.7,105.2 550.7,105.8 550.4,105.7 548.7,104.9 547.7,104.4 547.6,104.4 545.7,103.9 544.8,103.8 543.7,103.4 542,102.9 540.7,102.3 539.7,101.9 539.2,101.4 536.7,98.8 536.4,98.5 534.8,97.2 533.8,96.4 533.6,96.6 533.4,96.8 530.8,99.9 528.8,101.9 527.9,102.7 527.8,102.8 525.8,104.7 525.1,105.3 523.8,106.4 522.8,106.5 522.3,106.5 520.8,107.2 519.5,107.7 518.8,107.7 517.8,108.4 516.7,109.1 513.9,112.2 513.8,112.3 512.8,110.8 511.1,108.1 508.8,104.1 508.3,103.1 507.8,102.4 505.5,101.3 504.2,100.8 502.8,100.3 502.6,100.2 501.8,99.9 499.8,102.1 498.9,102.9 497.9,103.7 497,104.4 495.9,105.8 494.2,106.1 492.9,105.9 491.9,105.8 491.4,105.8 489.9,105.6 488.9,104.2 488.6,103.8 485.9,100.1 485.8,100.2 484.9,101.4 483,103.9 482.9,104 480.2,103.5 479.9,103.4 477.4,100.4 475.9,98.8 474.6,98.7 473.9,98.7 471.9,98.5 471.7,98.6 468.9,101.3 467.9,101.9 466.1,99.3 464,97.1 463.3,98 462,99 461,99.8 460.5,100.1 460,100.6 458,96.4 457.7,95.8 456,92.7 455,90.9 454.9,91 452.1,93.2 450,94.7 449.3,92.1 448.6,90 447.6,92.1 446.4,94.6 445.6,96.6 444.6,97.1 443.6,97.6 440.8,98.4 439.6,98.6 438,99.5 435.6,101.9 435.2,101.8 432.4,99.6 429.6,98.8 428.7,98 426.8,95.1 425.7,93.7 424,91.3 423.7,91.1 421.7,91.6 421.2,91.8 419.7,91.4 418.7,90.9 418.4,90.8 415.7,90.2 415.5,90.3 412.7,91.7 412.7,91.7 410.7,91.6 409.9,91.5 407.1,92.7 405.7,92.8 404.3,94 401.5,96.5 400.8,97.4 398.7,95.4 396.8,93.1 395.9,92.6 393.1,91.8 392.8,91.7 390.2,94.7 388.8,95.9 387.4,96.9 384.6,99.2 383.8,99.7 381.8,98.4 379,97.8 378.8,97.6 377.8,96.8 376.2,95.6 374.8,95.2 373.4,94.8 372.8,94.6 371.8,92.8 370.6,90.5 367.9,86.2 367.8,86.2 366.9,86 365,85.4 362.9,85.2 362.1,83.8 361.9,83.2 359.9,79.1 359.3,78 358.9,77.1 357.9,76.4 356.5,75.3 355.5,74.4 354.9,79.2 353.7,88.9 352.9,95.7 350.9,97.9 348.9,99.4 348.1,100 347.9,100.3 345.3,98.6 343.9,97.5 342.5,96.4 341.9,95.8 340.9,94.8 339.9,95.3 339.7,95.4 337.9,96.7 336.9,97.5 336.9,97.4 335,95.9 334.1,95.2 334,95.1 332,96.2 331.2,96.6 331,96.7 328.4,97.4 328,97.7 325.6,199.2 325.2,214.9 322.8,213 321.7,212.5 320,211.8 317.7,210.6 317.2,210 314.7,206.6 314.4,206.1 314.1,205.8 313.7,205.3 311.6,207.8 310.7,208.6 309.7,208.6 308.8,208.6 307.7,208.7 305.9,211.4 303.7,214.7 303.1,215 301.7,215.9 300.3,216.7 297.7,218.2 297.5,218.2 294.7,217.7 291.9,218.2 291.8,218.2 289.8,217.9 289.1,217.9 286.3,217.3 285.8,217.2 283.5,217.6 281.8,218.4 280.7,218.9 279.8,219 277.9,219.3 277.8,219.3 275,217.7 272.2,215.9 269.8,214.9 269.4,215 266.6,215.4 263.8,214.9 261.8,215.2 261,215.4 259.9,215.4 258.2,215.6 255.4,215.7 253.9,216.4 252.6,217 249.9,216.9 249.8,216.8 246.9,216.8 245.9,216.9 244.1,216.9 241.3,215.4 239.9,215.7 238.5,216.3 235.7,216.2 232.9,216.2 230.1,216.9 229.9,216.9 227.3,215.8 224.5,213.9 221.7,212.4 220,211.9 218.8,211.2 217.6,210.2 216,209.3 216,209.3 213.2,206.7 212.6,206.3 210.4,205.4 207.6,205 207.6,205 204.8,198.2 204.7,198 203.7,200.8 202.7,203.6 202,204.8 199.2,209.1 198.7,209.9 197.7,208.7 196.7,207.6 196.4,207.2 195.7,206.5 193.6,207.4 192.7,207.9 190.7,208.8 187.9,209.4 187.7,209.5 185.1,209.7 183.7,209.9 182.7,210 182.3,209.6 181.1,208.1 180.7,207.7 179.5,208.5 177.7,210.4 176.7,211.6 175.7,212.3 173.9,211.1 172.8,210.5 171.1,209.5 168.3,209 167.8,208.7 165.4,208.5 162.8,209.4 162.6,209.4 159.8,209.5 157.8,210.5 157,210.9 156.8,211 154.2,209.7 152.8,208.7 151.8,208 151.4,208 148.6,208.8 147.8,208.8 145.8,207.7 145.8,207.7 143,207.6 142.8,207.5 140.2,205.9 137.8,206.1 137.3,206.1 134.5,204.8 133.9,204.5 132.9,204 131.7,203.4 128.9,201.8 127.9,201.6 126.1,199.7 125.3,198.7 124.9,199.2 123.3,201.3 122.9,201.8 121.9,202.9 120.5,205.3 119.9,206.4 117.9,210.2 117.7,210 115.9,207.9 114.9,206.7 114.9,206.6 112.9,203.8 112.3,202.9 112.1,203.1 111.9,203.2 109.2,205.4 107.9,206.8 106.4,207.6 104,207.9 103.6,208 103,208.5 101,209.8 100.8,209.7 100,209 98,207.5 98,207.5 96,206 95.2,205.4 93,202.8 92.4,214.9 89.8,267.8 89.6,267.8 87,268 86.8,268 86,268.1 84,267.9 84,267.9 83,268 82,268 81.2,268 80,267.9 79,267.7 78.3,267.8 78,267.8 76,268 75.5,268 75,268.1 74,268 72.7,267.8 72,267.7 71,267.7 69.9,268.1 69,268.5 68,268.9 67.1,268.3 67,268.2 66,267.6 65,267.3 64.3,267.1 64,266.9 63,266.5 62,266.8 61.5,266.9 60,267.3 59,267.6 58.7,267.7 57,267.9 56,267.7 55.9,267.7 53,267.7 53,267.7 52,267.8 50.2,268 50,268 49,268.2 47.4,268 46,267.9 45,267.9 44.6,268.1 43,268.5 42,268.7 41.8,268.7 39,267.3"/>
<polygon fill="#660066" points="39,251 41.8,251.9 42,252 43,252.1 44.6,252.4 45,252.4 46,252.4 47.4,251.7 49,250.9 50,250.4 50.2,250.4 52,250.2 53,250 53,250.1 55.9,251.5 56,251.6 57,251.9 58.7,252.5 59,252.7 60,252.6 61.5,252.6 62,252.5 63,252.3 64,252.4 64.3,252.4 65,252.4 66,252.5 67,253 67.1,253.1 68,253.7 69,254.3 69.9,254.5 71,254.6 72,254.6 72.7,254.5 74,254.2 75,254.1 75.5,253.9 76,253.8 78,253.4 78.3,253.4 79,253.2 80,252.8 81.2,252.3 82,252.1 83,251.8 84,251.5 84,251.5 86,250.8 86.8,251.1 87,251.2 89.6,252.2 89.8,252.4 92.4,186.5 93,171.2 95.2,170 96,170 98,169.8 98,169.8 100,169.4 100.8,169.2 101,169.2 103,168.3 103.6,168 104,167.9 106.4,166.6 107.9,166.1 109.2,164.8 111.9,161.7 112.1,161.9 112.3,162.4 112.9,163.4 114.9,166.6 114.9,166.7 115.9,166.2 117.7,165.4 117.9,165.3 119.9,165.2 120.5,164.9 121.9,163.4 122.9,162.4 123.3,162 124.9,161.2 125.3,161.7 126.1,162.7 127.9,163.8 128.9,163.2 131.7,163.5 132.9,163.2 133.9,163.6 134.5,164 137.3,165.1 137.8,165.6 140.2,167 142.8,168.2 143,168.2 145.8,168.2 145.8,168.2 147.8,168.1 148.6,168.1 151.4,168.1 151.8,168.1 152.8,168.2 154.2,169.3 156.8,170.8 157,170.8 157.8,170.9 159.8,171.2 162.6,170.5 162.8,170.5 165.4,171 167.8,172.3 168.3,172.6 171.1,172.3 172.8,172.8 173.9,172.6 175.7,172.4 176.7,172.3 177.7,172.2 179.5,169.1 180.7,166.7 181.1,166 182.3,169.4 182.7,170.6 183.7,173.5 185.1,173.3 187.7,173.6 187.9,173.6 190.7,173 192.7,172.7 193.6,172.2 195.7,170.4 196.4,169.9 196.7,169.7 197.7,170.9 198.7,172.2 199.2,171.7 202,168.2 202.7,167.5 203.7,166.3 204.7,167.8 204.8,168 207.6,172.1 207.6,172.2 210.4,170.4 212.6,169 213.2,169.3 216,171.3 216,171.4 217.6,171.9 218.8,173.2 220,174.8 221.7,175.6 224.5,176.6 227.3,177.4 229.9,177.5 230.1,177.5 232.9,177.1 235.7,177.2 238.5,176.5 239.9,175.9 241.3,175.8 244.1,176.6 245.9,177.1 246.9,177 249.8,176.3 249.9,176.3 252.6,175.3 253.9,174.7 255.4,174.1 258.2,173.5 259.9,173 261,172.6 261.8,172.4 263.8,172 266.6,171 269.4,170.9 269.8,170.7 272.2,173 275,175.3 277.8,178.3 277.9,178.3 279.8,176.3 280.7,175.4 281.8,174.5 283.5,175.8 285.8,177.9 286.3,178.1 289.1,178.3 289.8,178.2 291.8,178.1 291.9,178.1 294.7,179.3 297.5,179.4 297.7,179.4 300.3,176.6 301.7,174.9 303.1,172.9 303.7,172.2 305.9,169.4 307.7,166.7 308.8,165.7 309.7,165.1 310.7,164.5 311.6,164 313.7,162.7 314.1,162.5 314.4,162.3 314.7,162.1 317.2,164.6 317.7,165 320,165 321.7,164.7 322.8,165.7 325.2,168.7 325.6,152.5 328,48.3 328.4,47.5 331,42.4 331.2,41.9 332,40.4 334,41.6 334.1,41.7 335,42 336.9,38.3 336.9,38.1 337.9,36.5 339.7,37.8 339.9,38 340.9,38.8 341.9,39.6 342.5,40.3 343.9,42.5 345.3,44.6 347.9,47.4 348.1,47.5 348.9,48.6 350.9,45.9 352.9,43.3 353.7,42.2 354.9,40.9 355.5,41 356.5,41.2 357.9,41.1 358.9,41 359.3,41.2 359.9,41.5 361.9,42.8 362.1,43 362.9,43.1 365,38.3 366.9,34.5 367.8,36.6 367.9,36.9 370.6,44.3 371.8,46.9 372.8,46.5 373.4,46.2 374.8,46.3 376.2,46.4 377.8,46.1 378.8,46.7 379,46.8 381.8,48.3 383.8,49.6 384.6,49 387.4,47.3 388.8,45.8 390.2,43.9 392.8,42.3 393.1,42.6 395.9,43 396.8,43.5 398.7,45 400.8,46.9 401.5,46.3 404.3,43 405.7,42 407.1,42.8 409.9,42.7 410.7,42.7 412.7,41.7 412.7,41.7 415.5,40.6 415.7,40.6 418.4,42.3 418.7,42.5 419.7,43.2 421.2,43 421.7,42.7 423.7,41.7 424,42.1 425.7,44.5 426.8,46.2 428.7,48.9 429.6,49.1 432.4,49.6 435.2,50.1 435.6,50.1 438,46.8 439.6,44.8 440.8,44.4 443.6,44 444.6,43.7 445.6,43.4 446.4,43.2 447.6,42.7 448.6,42.3 449.3,42 450,42 452.1,42.5 454.9,41.6 455,41.6 456,41.9 457.7,43.4 458,43.6 460,45 460.5,45.4 461,45.6 462,46.2 463.3,45.5 464,45.4 466.1,44.7 467.9,43.7 468.9,44.1 471.7,46.8 471.9,46.9 473.9,48.2 474.6,48.1 475.9,48.1 477.4,48 479.9,48 480.2,48.1 482.9,48.6 483,48.6 484.9,49.7 485.8,50.3 485.9,50.3 488.6,49.8 488.9,49.8 489.9,49.7 491.4,49.7 491.9,49.6 492.9,48.8 494.2,47.7 495.9,47.1 497,46.6 497.9,45.9 498.9,45 499.8,44 501.8,42.9 502.6,42.4 502.8,42.2 504.2,42.9 505.5,43.5 507.8,45.5 508.3,46.2 508.8,47 511.1,50.5 512.8,53.2 513.8,54.8 513.9,54.7 516.7,53.6 517.8,52.5 518.8,51.6 519.5,51.2 520.8,51.2 522.3,51.3 522.8,51.1 523.8,50.7 525.1,49.3 525.8,48.9 527.8,47.6 527.9,47.4 528.8,46.8 530.8,45.4 533.4,43.5 533.6,43.4 533.8,43.2 534.8,42.7 536.4,44.5 536.7,44.9 539.2,47.2 539.7,47.7 540.7,48.7 542,49 543.7,49.7 544.8,50.2 545.7,50.3 547.6,50.6 547.7,50.7 548.7,50.8 550.4,51 550.7,50.8 551.7,50.4 552.7,50 553.2,49.7 553.7,49.8 554.7,49.9 555.7,50 556,50.1 558.9,48.7 559.7,48.8 560.7,48.1 561.7,47.4 564.5,43.6 564.7,43.4 566.6,44.6 567.3,45 569.6,46.5 570.1,45.7 571.6,43.5 572.6,42.1 572.9,42.5 574.6,44.5 575.6,45.6 575.7,45.6 577.6,44.8 578.5,44.4 580,43.9 581.3,43.1 584,40.3 584.1,40.1 585,39.6 587,38.8 587,38.8 588,38.1 589.8,37 590,36.8 592,35.1 592.6,34.6 594,34 595.4,35.3 596,35.5 597,35.9 598,36.2 598.2,36.1 599.9,35.5 601,35.1 601.9,34.9 603.8,36.1 603.9,36.2 605.9,37.3 606.6,37 606.9,36.8 609.4,34.9 609.9,34.6 610.9,35.1 612.2,35.8 614.9,38 615,38 615.9,37.5 616.9,36.9 617.9,36.3 619.9,35.6 620.7,35.3 620.9,35.3 621.9,34.9 623.5,34.4 624.9,34.1 626.3,33.7 626.9,33.4 628.9,32.3 629.1,32.2 629.9,32 630.9,31.9 631.5,31.9 631.9,31.8 633.8,31.3 634.7,31 634.8,31 636.2,31.3 636.8,31.4 637.5,31.6 637.8,31.8 638.8,32.3 639.8,32.9 640.3,33.3 641.8,34.5 643.1,35.6 644.8,36.5 645.8,35.9 646,35.8 648.8,34.3 649.8,33.7 651.6,32.9 653.8,32.7 654.4,32.7 654.8,32.5 656.8,33.3 657.2,33.5 658.8,34.3 659.8,34.8 660,34.8 661.8,35.3 662.8,35.6 662.8,35.7 664.8,36.2 665.6,35.8 665.7,35.8 667.7,34.8 668.4,34.4 669.7,33.8 671.2,33.2 671.7,33.1 674.1,32.5 674.7,32.2 675.7,31.7 676.7,31.2 676.9,31.1 678.7,30.6 679.7,31.3 679.7,31.3 682.5,33.5 683.7,34.5 684.7,35 685.3,35.3 685.7,35.3 688.1,35.7 688.7,35.9 689.7,35.4 690.7,34.9 690.9,34.8 691.7,34.5 693.7,35.4 693.7,35.5 694.7,35.7 696.5,36.3 696.6,36.3 697.6,35.9 699.4,35.3 699.6,35.2 701.6,34.5 702.2,34.3 702.6,34.1 704,33.6 704.5,33.5 705,33.3 705.2,33.2 705.6,33 707.2,33.7 707.8,60.5 707.8,61.4 708.5,95 709.3,98.2 710.1,101.3 710.3,102.1 710.5,102.1 710.6,102 711.1,101.9 712.2,101.6 713.1,101.4 713.4,101.3 713.8,101.2 714,101.2 715,99.3 715.4,98.5 715.9,97.5 716.2,98.1 716.8,99.3 717.8,101.2 718.4,102.4 718.7,103 719,101.7 721.2,93 721.5,91.8 721.8,93.1 722.5,95.7 723,97.7 723.4,99.3 724.3,100.4 724.6,100.9 724.8,101.1 726.2,102.9 726.7,103.5 727.1,104 727.5,104.2 727.6,104.2 728,104.4 728.1,104.5 729.9,105.4 730,105.5 730.3,105.6 730.4,105.7 730.9,105.9 731.8,110.1 732.2,112 732.7,114.3 733.1,115 733.2,115.3 734,116.9 734.1,117.1 734.6,107.1 735.5,89 735.6,88.8 735.9,88.4 737,86.5 737.8,86.5 738.7,86.5 738.8,86.5 739,86.5 740.5,83.5 741,82.5 741.1,81.3 741.5,76.3 741.6,75.1 742,70.2 742.5,64 742.9,63.7 743.4,63.4 743.5,63.3 744,63 744.3,62.8 744.5,62.6 744.8,62.4 745.4,62 746,63.1 746.2,63.5 746.3,63.6 746.5,64 747,72.7 747.1,74.7 748,90 748.5,92.6 749,95.2 749.9,100.1 750,100.5 750.6,103.6 751.1,106.2 751.5,108.3 752.3,108.9 752.5,109 752.7,109.2 754.5,110.5 754.7,110.6 755.2,111 755.5,110.7 756,110.2 756.6,109.6 757,109.2 757.8,108.5 758,108.3 758.4,107.9 758.9,107.4 759,107.5 759.8,107.9 761.2,108.7 761.7,109 763.5,110 764,110.3 764.4,110.5 764.5,110.5 766.3,111.5 766.7,111.7 766.8,111.8 767.2,112 768.1,112.5 769.6,113.2 770.9,113.9 771.2,112.9 772.4,109 772.7,108 773.4,97.9 774.5,82 775.2,70.9 775.5,66.6 775.6,65.1 775.8,62 777,65 777.8,65 778,65 778,65 779,65 780,65 780.5,61.8 780.8,59.5 781,58.5 781.2,57.2 782,52 782.6,52 783,52 783.4,52 783.6,52 783.6,52 784,52 784.6,65.3 785,74.1 785.6,87.4 786.4,105.1 786.5,106.4 786.7,111.7 786.8,113.9 789,109.3 789.2,108.9 789.3,108.7 791.5,104.1 792,103 792.1,102.9 792.4,102.2 793.4,100.1 793.8,99.3 794.9,97 795.2,96.4 795.6,95.5 795.7,95.3 796.2,94.3 796.7,93.2 797.1,92.4 797.5,94 797.7,90 797.8,88 798,84 798.5,70.3 799,56.7 799.5,43 800.4,35.5 800.5,35.5 802,35.5 802.3,41.2 803.3,60.6 803.5,64 804,69.3 804.1,70.4 804.5,74.7 805,80 805.1,81.1 806.1,92.4 806.7,98.7 807,102 807.8,103.2 807.9,103.3 808,103.5 808.8,104.7 808.9,104.9 809,105 809.3,105.9 809.7,107.1 810.1,108.2 810.7,110 811,110.2 811.1,110.2 811.2,110.3 811.6,110.5 811.8,110.6 812.1,110.8 813.5,111.6 814,111 814.4,107.2 814.6,105.3 815,100 815.5,77 815.6,76.9 816.3,76.1 817.2,75 817.4,75 818.2,75 818.6,75 819,75 819.6,83 820,88.3 820.2,90.7 820.5,95 821,99.6 821.2,101.5 821.9,108 822.8,108 823,108 823,108 824.5,105 824.7,104.6 825,104 825.6,100.8 825.8,99.7 826.5,96 827.9,88.5 828,88 828.5,88 828.6,88 830,88 831,88 831.2,86.6 831.4,85.1 832,81 833,74 833.4,70.8 834,66 834.2,64.2 834.5,62 835,76 835.5,90 835.6,90.4 836,92.2 836.8,95.7 837,96.8 838,101 839,101.3 839.9,101.5 841.5,102 842.3,94 842.5,92 842.7,90.7 843.5,84 844,88 844.5,92 845,96 845.5,99.8 846,104 846.5,109.6 847.5,120.8 848.3,120.8 848.5,120.8 850,120.8 851.1,120.8 851.3,120.8 851.3,122 851.1,122 850,122 848.5,122 848.3,122 847.5,122 846.5,110.7 846,105 845.5,100.8 845,97 844.5,93 844,89 843.5,85 842.7,91.7 842.5,93 842.3,95 841.5,103 839.9,108.2 839,110.9 838,114 837,108.6 836.8,107.3 836,102.8 835.6,100.6 835.5,100 835,81.5 834.5,63 834.2,65.2 834,67 833.4,71.8 833,75 832,82 831.4,86.1 831.2,87.6 831,89 830,89 828.6,89 828.5,89 828,89 827.9,89.7 826.5,99 825.8,103.7 825.6,105 825,108.7 824.7,110.5 824.5,111 823,114.5 823,114.5 822.8,115 821.9,115.5 821.2,115.9 821,116 820.5,115 820.2,114.4 820,114 819.6,113.2 819,112.1 818.6,111.3 818.2,110.5 817.4,107.2 817.2,106.6 816.3,103 815.6,105.8 815.5,106.2 815,108.1 814.6,109.9 814.4,110.5 814,111 813.5,111.6 812.1,113.4 811.8,113 811.6,112.9 811.2,112.5 811.1,112.4 811,112.3 810.7,112 810.1,111.3 809.7,110.9 809.3,110.5 809,110.1 808.9,110.1 808.8,109.9 808,108.9 807.9,108.8 807.8,108.7 807,107.7 806.7,103.7 806.1,96.1 805.1,82.3 805,81 804.5,75.7 804.1,71.4 804,70.3 803.5,65 803.3,62.3 802.3,47 802,42.5 800.5,42.5 800.4,42.5 799.5,44 799,57.7 798.5,71.3 798,85 797.8,89 797.7,91 797.5,95 797.1,94 796.7,94.8 796.2,95.9 795.7,96.9 795.6,97.1 795.2,98 794.9,98.6 793.8,100.9 793.4,101.7 792.4,103.8 792.1,104.5 792,104.6 791.5,105.7 789.3,110.3 789.2,110.5 789,110.9 786.8,115.5 786.7,113.3 786.5,107.9 786.4,106.6 785.6,88.7 785,75.3 784.6,66.4 784,53 783.6,53 783.6,53 783.4,53 783,53 782.6,53 782,53 781.2,58.2 781,59.5 780.8,60.5 780.5,62.8 780,66 779,66 778,66 778,66 777.8,66 777,66 775.8,63 775.6,66.1 775.5,67.6 775.2,71.9 774.5,83 773.4,98.9 772.7,109 772.4,110.2 771.2,115.3 770.9,116.6 769.6,116 768.1,115.2 767.2,114.8 766.8,114.6 766.7,114.6 766.3,114.4 764.5,113.5 764.4,113.4 764,113.2 763.5,113 761.7,111.6 761.2,111.1 759.8,110 759,109.4 758.9,109.3 758.4,110 758,110.4 757.8,110.7 757,111.7 756.6,112.2 756,112.9 755.5,113.5 755.2,113.9 754.7,113.5 754.5,113.4 752.7,112 752.5,111.8 752.3,111.6 751.5,111 751.1,108.8 750.6,106.1 750,102.9 749.9,102.5 749,97.4 748.5,94.7 748,92 747.1,76.2 747,74 746.5,65 746.3,64.6 746.2,64.5 746,64.1 745.4,63 744.8,63.4 744.5,63.6 744.3,63.8 744,64 743.5,64.3 743.4,64.4 742.9,64.7 742.5,65 742,71 741.6,75.8 741.5,77 741.1,81.8 741,83 740.5,84 739,87 738.8,87 738.7,87 737.8,87 737,87 735.9,89.2 735.6,89.8 735.5,90 734.6,111 734.1,122.7 734,122.6 733.2,122.2 733.1,122.1 732.7,121.9 732.2,121.6 731.8,121.3 730.9,120.8 730.4,120.9 730.3,121 730,121 729.9,121.1 728.1,121.5 728,121.6 727.6,121.7 727.5,121.7 727.1,121.8 726.7,121.3 726.2,120.6 724.8,118.8 724.6,118.6 724.3,118.2 723.4,117 723,115.6 722.5,113.9 721.8,111.6 721.5,110.5 721.2,111 719,114.5 718.7,115 718.4,115.4 717.8,116.4 716.8,118 716.2,118.8 715.9,119.2 715.4,119.9 715,120.4 714,121.8 713.8,121.7 713.4,121.6 713.1,121.6 712.2,121.3 711.1,121 710.6,120.9 710.5,120.9 710.3,120.8 710.1,120.2 709.3,117.6 708.5,115 707.8,72.9 707.8,71.7 707.2,38 705.6,35.6 705.2,35.6 705,35.7 704.5,35.8 704,35.9 702.6,36.3 702.2,36.5 701.6,36.6 699.6,37.2 699.4,37.3 697.6,38.4 696.6,39 696.5,39 694.7,38.2 693.7,37.8 693.7,37.7 691.7,36.6 690.9,36.9 690.7,37.1 689.7,37.8 688.7,38.4 688.1,38.2 685.7,38.1 685.3,38.1 684.7,37.7 683.7,37.1 682.5,35.8 679.7,33.8 679.7,33.8 678.7,33.2 676.9,34.4 676.7,34.5 675.7,35 674.7,35.5 674.1,35.7 671.7,36.1 671.2,36.2 669.7,36.8 668.4,37.6 667.7,38.1 665.7,39.4 665.6,39.5 664.8,40.1 662.8,39.6 662.8,39.5 661.8,38.9 660,37.7 659.8,37.7 658.8,37.3 657.2,36.8 656.8,36.5 654.8,35.1 654.4,35.3 653.8,35.5 651.6,36.3 649.8,36.9 648.8,37.5 646,39.7 645.8,39.7 644.8,40.1 643.1,38.4 641.8,37.5 640.3,36.4 639.8,36.1 638.8,35.6 637.8,35.2 637.5,35.1 636.8,34.5 636.2,34 634.8,32.9 634.7,32.9 633.8,33.2 631.9,33.8 631.5,33.9 630.9,33.9 629.9,34 629.1,34.3 628.9,34.4 626.9,35.4 626.3,35.6 624.9,36.8 623.5,37.7 621.9,38.3 620.9,38.6 620.7,38.7 619.9,39 617.9,40.2 616.9,40.6 615.9,41.1 615,41.5 614.9,41.6 612.2,39.6 610.9,38.6 609.9,37.9 609.4,38.3 606.9,40.5 606.6,40.7 605.9,41.3 603.9,39.9 603.8,39.8 601.9,37.9 601,38 599.9,38.8 598.2,40.1 598,40.2 597,39.2 596,38.2 595.4,37.7 594,37 592.6,38.4 592,38.7 590,39.7 589.8,39.8 588,41.4 587,42.3 587,42.4 585,44.1 584.1,45.1 584,45.2 581.3,47.8 580,48.9 578.5,50 577.6,50.8 575.7,52.4 575.6,52.4 574.6,50.9 572.9,48.2 572.6,47.8 571.6,49.9 570.1,53.1 569.6,53.9 567.3,51.5 566.6,51 564.7,49.4 564.5,49.7 561.7,54.2 560.7,55.5 559.7,56.8 558.9,57 556,57.9 555.7,58.1 554.7,58.7 553.7,59.2 553.2,59.4 552.7,59.4 551.7,59.4 550.7,59.4 550.4,59.4 548.7,59.6 547.7,59.7 547.6,59.6 545.7,58.7 544.8,58.3 543.7,57.2 542,55.4 540.7,54.5 539.7,53.4 539.2,52.8 536.7,50.2 536.4,49.9 534.8,47.9 533.8,48.4 533.6,48.6 533.4,48.7 530.8,50.5 528.8,51.6 527.9,52.3 527.8,52.6 525.8,55.2 525.1,56 523.8,57.1 522.8,57.1 522.3,57.1 520.8,57.6 519.5,58 518.8,58.2 517.8,59.2 516.7,60.3 513.9,62.9 513.8,63 512.8,60.8 511.1,57 508.8,52.5 508.3,51.4 507.8,50.6 505.5,48.4 504.2,46.6 502.8,44.6 502.6,44.7 501.8,45.4 499.8,46.9 498.9,47.7 497.9,48.5 497,49.2 495.9,50.5 494.2,52.3 492.9,53.2 491.9,53.8 491.4,53.7 489.9,53.6 488.9,53.5 488.6,53.5 485.9,54.4 485.8,54.4 484.9,54 483,53 482.9,53 480.2,51.7 479.9,51.7 477.4,52 475.9,52 474.6,52 473.9,51.9 471.9,50.4 471.7,50.3 468.9,49.2 467.9,48.9 466.1,49.9 464,50.7 463.3,51 462,51.2 461,50.2 460.5,49.7 460,49.2 458,47.3 457.7,47.1 456,45.6 455,45.7 454.9,45.7 452.1,46.2 450,47.1 449.3,47.5 448.6,47.6 447.6,47.8 446.4,48 445.6,48 444.6,48.1 443.6,48.2 440.8,49.5 439.6,50.1 438,52.8 435.6,55.6 435.2,55.5 432.4,55.7 429.6,54.8 428.7,54.9 426.8,52.4 425.7,50.4 424,47.4 423.7,46.9 421.7,47.1 421.2,47.1 419.7,47.7 418.7,47.3 418.4,47.1 415.7,45.7 415.5,45.8 412.7,47.5 412.7,47.5 410.7,47.9 409.9,47.6 407.1,47.2 405.7,46.7 404.3,48.2 401.5,51.5 400.8,52.5 398.7,51.5 396.8,50 395.9,49.3 393.1,47.6 392.8,47.3 390.2,48.9 388.8,50.8 387.4,52.9 384.6,55.9 383.8,57.2 381.8,56.2 379,54.3 378.8,54.1 377.8,53.1 376.2,52.5 374.8,52.2 373.4,51.9 372.8,51.9 371.8,51.9 370.6,49.3 367.9,42.6 367.8,42.4 366.9,40.6 365,44.3 362.9,48.2 362.1,47.9 361.9,47.6 359.9,46.1 359.3,45.7 358.9,45.6 357.9,46.2 356.5,47.1 355.5,47.3 354.9,47.4 353.7,48.9 352.9,49.8 350.9,52.1 348.9,54.7 348.1,53.5 347.9,53.3 345.3,50 343.9,47.9 342.5,45.7 341.9,45 340.9,44.1 339.9,43.2 339.7,42.9 337.9,40.7 336.9,42.1 336.9,42.3 335,45.4 334.1,44.8 334,44.8 332,43.6 331.2,45.4 331,46.1 328.4,52.4 328,53.7 325.6,158 325.2,174.2 322.8,172.3 321.7,171.3 320,170.9 317.7,169.7 317.2,168.8 314.7,165.2 314.4,165.6 314.1,165.9 313.7,166.3 311.6,168.4 310.7,169.5 309.7,170.8 308.8,172 307.7,173 305.9,175.3 303.7,178.5 303.1,179.3 301.7,181.6 300.3,183.8 297.7,188 297.5,187.9 294.7,186.2 291.9,184.5 291.8,184.4 289.8,183.7 289.1,183.5 286.3,184.3 285.8,184.2 283.5,181.5 281.8,179.6 280.7,180.6 279.8,181.7 277.9,184 277.8,184.1 275,180.8 272.2,178 269.8,175.4 269.4,175.6 266.6,176.4 263.8,177.6 261.8,178.8 261,179 259.9,179.2 258.2,179.5 255.4,179.6 253.9,179.8 252.6,180.4 249.9,181.9 249.8,182 246.9,182.8 245.9,183.3 244.1,183.1 241.3,182 239.9,182 238.5,182.5 235.7,182.4 232.9,182.2 230.1,182.6 229.9,182.6 227.3,182.4 224.5,181.5 221.7,179.9 220,179.5 218.8,179.1 217.6,178.8 216,177.9 216,177.9 213.2,175.1 212.6,174.7 210.4,175.7 207.6,176.8 207.6,176.7 204.8,172.6 204.7,172.4 203.7,170.8 202.7,171.8 202,172.6 199.2,176.2 198.7,176.9 197.7,176 196.7,175.2 196.4,175.5 195.7,175.9 193.6,177.4 192.7,177.9 190.7,178 187.9,178.6 187.7,178.7 185.1,178.7 183.7,178.4 182.7,175.4 182.3,174.2 181.1,170.8 180.7,171.5 179.5,173.7 177.7,177.2 176.7,177.7 175.7,177.8 173.9,177.8 172.8,178.3 171.1,177.8 168.3,177 167.8,176.7 165.4,176.1 162.8,175.6 162.6,175.6 159.8,176.9 157.8,177.5 157,177.8 156.8,177.8 154.2,174.6 152.8,173 151.8,172.8 151.4,172.7 148.6,171.8 147.8,171.7 145.8,171.6 145.8,171.6 143,172 142.8,172 140.2,170.7 137.8,168.9 137.3,168.6 134.5,167.3 133.9,166.9 132.9,166.3 131.7,166.5 128.9,166.9 127.9,166.9 126.1,164.7 125.3,164.1 124.9,163.8 123.3,165.8 122.9,166.2 121.9,167.1 120.5,168.5 119.9,169 117.9,170 117.7,170.1 115.9,171.1 114.9,171.7 114.9,171.6 112.9,168.2 112.3,167.1 112.1,166.7 111.9,166.4 109.2,168.9 107.9,169.9 106.4,170.1 104,171.5 103.6,171.7 103,171.9 101,172.4 100.8,172.5 100,172.9 98,173.8 98,173.9 96,174.4 95.2,174.6 93,176 92.4,190.8 89.8,254.5 89.6,254.4 87,253.7 86.8,253.6 86,253.5 84,254.3 84,254.3 83,254.8 82,255.3 81.2,255.6 80,255.8 79,256.1 78.3,256.2 78,256.3 76,256.6 75.5,256.6 75,256.7 74,256.9 72.7,256.5 72,256.1 71,255.6 69.9,255.9 69,256.5 68,257 67.1,256.4 67,256.3 66,255.5 65,254.6 64.3,254.5 64,254.5 63,254.3 62,254.2 61.5,254.3 60,254.8 59,255.1 58.7,255 57,254.4 56,254.1 55.9,254 53,252.8 53,252.8 52,253 50.2,253.2 50,253.2 49,253.4 47.4,254 46,254.6 45,255 44.6,255.1 43,255.2 42,255.2 41.8,255.1 39,253.8"/>
<polygon fill="#FF8080" points="39,247.3 41.8,248.4 42,248.5 43,248.5 44.6,248.5 45,248.6 46,248.9 47.4,248.5 49,247.8 50,247.4 50.2,247.4 52,247.2 53,247.1 53,247.1 55.9,248.6 56,248.7 57,249.1 58.7,249.9 59,250 60,249.8 61.5,249.6 62,249.6 63,249.7 64,249.8 64.3,249.9 65,249.8 66,249.8 67,249.7 67.1,249.8 68,250.1 69,250.6 69.9,250.9 71,251.6 72,251.6 72.7,251.6 74,251.3 75,251.1 75.5,250.9 76,250.8 78,250.4 78.3,250.4 79,250.2 80,249.9 81.2,249.5 82,249.1 83,248.6 84,248.1 84,248 86,247.2 86.8,247.6 87,247.7 89.6,248.8 89.8,248.9 92.4,180.8 93,165 95.2,164.1 96,164.1 98,164.2 98,164.2 100,163.9 100.8,163.7 101,163.7 103,162.7 103.6,162.3 104,162.3 106.4,162.1 107.9,161.5 109.2,160.5 111.9,157.8 112.1,157.9 112.3,158.4 112.9,159.3 114.9,162.4 114.9,162.4 115.9,162 117.7,161.3 117.9,161.2 119.9,159.7 120.5,159.1 121.9,158.5 122.9,158.1 123.3,157.9 124.9,157 125.3,157.5 126.1,158.5 127.9,160.4 128.9,160.1 131.7,158.8 132.9,158.7 133.9,159.4 134.5,159.9 137.3,161.7 137.8,162 140.2,162.3 142.8,162.8 143,162.8 145.8,163.1 145.8,163.1 147.8,163.4 148.6,163.4 151.4,163.7 151.8,163.7 152.8,163.8 154.2,164.2 156.8,165 157,165.1 157.8,165.3 159.8,165.9 162.6,165.5 162.8,165.5 165.4,166.3 167.8,167.2 168.3,167.4 171.1,168 172.8,167.8 173.9,167.3 175.7,167.3 176.7,167.3 177.7,166.9 179.5,164.4 180.7,163.4 181.1,163 182.3,165.7 182.7,166.4 183.7,168 185.1,167.3 187.7,167 187.9,167 190.7,166.7 192.7,166.5 193.6,166.2 195.7,165.1 196.4,164.8 196.7,164.6 197.7,165.2 198.7,165.8 199.2,165.4 202,163 202.7,162.6 203.7,161.9 204.7,163.1 204.8,163.2 207.6,165.8 207.6,165.9 210.4,164.4 212.6,163 213.2,163.2 216,164.5 216,164.5 217.6,165.3 218.8,167.5 220,169.3 221.7,169.3 224.5,169.9 227.3,170.5 229.9,171 230.1,170.9 232.9,169.9 235.7,168.9 238.5,168.4 239.9,167.8 241.3,167.9 244.1,168.8 245.9,169.3 246.9,169.2 249.8,168.8 249.9,168.8 252.6,168.4 253.9,168 255.4,167.4 258.2,166.9 259.9,166.8 261,166.7 261.8,166.7 263.8,166.3 266.6,164.7 269.4,163.7 269.8,163.6 272.2,166.9 275,169 277.8,171.4 277.9,171.4 279.8,170.3 280.7,169.8 281.8,169 283.5,170 285.8,170.9 286.3,171 289.1,171.1 289.8,171.3 291.8,171.9 291.9,172 294.7,171.9 297.5,173.1 297.7,173.2 300.3,170.8 301.7,168.9 303.1,166.8 303.7,166.2 305.9,164.1 307.7,162.2 308.8,161.7 309.7,161.1 310.7,160.5 311.6,159.9 313.7,158.3 314.1,158 314.4,157.7 314.7,157.6 317.2,160 317.7,160.6 320,160.3 321.7,159.6 322.8,160.7 325.2,164.2 325.6,147.9 328,42 328.4,41.2 331,36.5 331.2,36 332,34.9 334,36.6 334.1,36.6 335,37 336.9,34.1 336.9,34 337.9,32.8 339.7,34.3 339.9,34.5 340.9,35.2 341.9,36 342.5,36.4 343.9,37.4 345.3,38.4 347.9,41.4 348.1,41.6 348.9,42.2 350.9,40.5 352.9,38.4 353.7,37.6 354.9,36.7 355.5,36.8 356.5,36.9 357.9,36.8 358.9,36.8 359.3,36.9 359.9,37.1 361.9,38.1 362.1,38.2 362.9,38.4 365,34.5 366.9,31.4 367.8,33.1 367.9,33.3 370.6,38 371.8,40.2 372.8,40.3 373.4,40.3 374.8,40 376.2,39.7 377.8,40.1 378.8,40.8 379,40.9 381.8,41.8 383.8,43.1 384.6,42.8 387.4,41 388.8,40.1 390.2,38.9 392.8,36.6 393.1,36.7 395.9,37.8 396.8,38.1 398.7,39 400.8,40.1 401.5,39.7 404.3,37.3 405.7,36.6 407.1,36.9 409.9,37.9 410.7,38.1 412.7,37.5 412.7,37.5 415.5,35.7 415.7,35.7 418.4,37 418.7,37.1 419.7,37.4 421.2,37.5 421.7,37.3 423.7,36.6 424,36.8 425.7,38.9 426.8,40.3 428.7,41.9 429.6,41.8 432.4,41.5 435.2,41.6 435.6,41.7 438,40 439.6,38.6 440.8,38 443.6,37.8 444.6,37.4 445.6,37 446.4,36.9 447.6,36.8 448.6,36.8 449.3,36.8 450,36.9 452.1,37.4 454.9,37.5 455,37.4 456,37.2 457.7,37.8 458,37.9 460,38.8 460.5,39 461,39.3 462,39.9 463.3,39.6 464,39.3 466.1,38.5 467.9,38.2 468.9,38.9 471.7,39.6 471.9,39.7 473.9,40.6 474.6,40.6 475.9,40.8 477.4,41 479.9,41.6 480.2,41.6 482.9,42 483,42 484.9,42.9 485.8,43.4 485.9,43.4 488.6,42.7 488.9,42.6 489.9,42.4 491.4,42.1 491.9,42.1 492.9,41.9 494.2,41.6 495.9,40.9 497,40.3 497.9,40.1 498.9,39.7 499.8,39.4 501.8,38.1 502.6,37.6 502.8,37.6 504.2,38.2 505.5,38.8 507.8,40 508.3,40.6 508.8,41.3 511.1,44.1 512.8,45.7 513.8,46.7 513.9,46.6 516.7,45.1 517.8,44.4 518.8,43.7 519.5,43.5 520.8,43.3 522.3,43 522.8,43 523.8,42.9 525.1,42.2 525.8,41.9 527.8,41 527.9,40.9 528.8,40.4 530.8,39.8 533.4,38.5 533.6,38.4 533.8,38.3 534.8,37.8 536.4,38.5 536.7,38.8 539.2,40.7 539.7,41.1 540.7,41.9 542,42.3 543.7,42.7 544.8,43 545.7,42.8 547.6,42.5 547.7,42.6 548.7,42.8 550.4,43.3 550.7,43.3 551.7,43.3 552.7,43.3 553.2,43.3 553.7,43.2 554.7,42.7 555.7,42.3 556,42.1 558.9,42.5 559.7,42.3 560.7,41.4 561.7,40.4 564.5,38.5 564.7,38.3 566.6,39.4 567.3,39.7 569.6,41.1 570.1,40.5 571.6,38.6 572.6,37.3 572.9,37.6 574.6,39.3 575.6,40.2 575.7,40.2 577.6,39.1 578.5,38.5 580,37.8 581.3,37 584,36 584.1,36 585,35.2 587,34.1 587,34.1 588,33.9 589.8,33.5 590,33.4 592,31.9 592.6,31.5 594,30.7 595.4,31.5 596,31.8 597,32.4 598,33 598.2,33 599.9,32.3 601,31.9 601.9,31.7 603.8,32.6 603.9,32.7 605.9,33.6 606.6,33.4 606.9,33.3 609.4,32 609.9,31.9 610.9,32.5 612.2,33.2 614.9,34 615,33.9 615.9,33.6 616.9,33.2 617.9,32.8 619.9,32.5 620.7,32.4 620.9,32.3 621.9,32 623.5,31.4 624.9,31 626.3,30.5 626.9,30.3 628.9,29.5 629.1,29.4 629.9,29.4 630.9,29.5 631.5,29.6 631.9,29.6 633.8,28.5 634.7,28 634.8,28 636.2,28.7 636.8,29 637.5,29.3 637.8,29.5 638.8,29.9 639.8,30.4 640.3,30.7 641.8,31.7 643.1,32.6 644.8,33 645.8,32.4 646,32.3 648.8,31 649.8,30.8 651.6,30.8 653.8,30.6 654.4,30.5 654.8,30.4 656.8,30.8 657.2,30.9 658.8,31.8 659.8,32.5 660,32.6 661.8,32.4 662.8,32.4 662.8,32.4 664.8,33.2 665.6,33 665.7,32.9 667.7,31.5 668.4,30.9 669.7,30.8 671.2,30.9 671.7,30.8 674.1,30.5 674.7,30.2 675.7,29.6 676.7,29 676.9,28.9 678.7,28.5 679.7,29.3 679.7,29.3 682.5,30.5 683.7,30.9 684.7,31.1 685.3,31.2 685.7,31.3 688.1,31.7 688.7,32 689.7,31.8 690.7,31.5 690.9,31.5 691.7,31.1 693.7,31.4 693.7,31.4 694.7,31.7 696.5,32.4 696.6,32.4 697.6,32.1 699.4,31.6 699.6,31.5 701.6,31.1 702.2,31 702.6,30.9 704,30.7 704.5,30.7 705,30.6 705.2,30.6 705.6,30.6 707.2,31.1 707.8,50.4 707.8,51.1 708.5,75 709.3,79.2 710.1,83.4 710.3,84.4 710.5,84.3 710.6,84.2 711.1,83.9 712.2,83.2 713.1,82.7 713.4,82.5 713.8,82.2 714,82.1 715,81.5 715.4,82 715.9,82.7 716.2,83.1 716.8,83.9 717.8,85.3 718.4,84.7 718.7,84.4 719,84 721.2,81.8 721.5,81.5 721.8,81.8 722.5,82.4 723,82.8 723.4,83.1 724.3,83.9 724.6,83.9 724.8,83.9 726.2,83.9 726.7,83.9 727.1,83.9 727.5,83.9 727.6,83.9 728,83.9 728.1,83.9 729.9,83.9 730,84.4 730.3,85.8 730.4,86.5 730.9,89.1 731.8,93.7 732.2,97.2 732.7,101.5 733.1,104.8 733.2,105.9 734,111.7 734.1,112.4 734.6,103.7 735.5,88 735.6,87.9 735.9,87.5 737,86 737.8,86 738.7,86 738.8,86 739,86 740.5,83 741,82 741.1,80.7 741.5,75.7 741.6,74.4 742,69.3 742.5,63 742.9,62.7 743.4,62.4 743.5,62.3 744,62 744.3,61.8 744.5,61.6 744.8,61.4 745.4,61 746,62.1 746.2,62.5 746.3,62.6 746.5,63 747,71.3 747.1,73.3 748,88 748.5,90.4 749,92.8 749.9,97.2 750,97.5 750.6,100.4 751.1,102.8 751.5,104.7 752.3,105.3 752.5,105.4 752.7,105.6 754.5,106.9 754.7,107 755.2,107.4 755.5,107.1 756,106.6 756.6,106 757,105.6 757.8,104.8 758,104.6 758.4,104.2 758.9,103.7 759,103.8 759.8,104.2 761.2,105.1 761.7,105.4 763.5,106.5 764,106.7 764.4,106.9 764.5,107 766.3,107.9 766.7,108.1 766.8,108.1 767.2,108.3 768.1,109 769.6,110.1 770.9,111 771.2,110.3 772.4,107.6 772.7,107 773.4,96.9 774.5,81 775.2,69.9 775.5,65.6 775.6,64.1 775.8,61 777,64 777.8,64 778,64 778,64 779,64 780,64 780.5,60.8 780.8,58.5 781,57.5 781.2,56.2 782,51 782.6,51 783,51 783.4,51 783.6,51 783.6,51 784,51 784.6,64.2 785,72.9 785.6,86.1 786.4,103.6 786.5,104.9 786.7,110.2 786.8,112.4 789,107.8 789.2,107.4 789.3,107.2 791.5,102.6 792,101.5 792.1,101.4 792.4,100.7 793.4,98.6 793.8,97.8 794.9,95.5 795.2,94.9 795.6,94 795.7,93.8 796.2,92.8 796.7,91.7 797.1,90.9 797.5,93 797.7,89 797.8,87 798,83 798.5,69.3 799,55.7 799.5,42 800.4,34 800.5,34 802,34 802.3,39.8 803.3,59.5 803.5,63 804,68.3 804.1,69.4 804.5,73.7 805,79 805.1,80.1 806.1,90.9 806.7,96.9 807,100 807.8,99.2 807.9,99.1 808,99 808.8,98.2 808.9,98.1 809,98 809.3,97.4 809.7,96.5 810.1,95.6 810.7,94.3 811,93.7 811.1,93.9 811.2,94.1 811.6,95 811.8,95.3 812.1,96 813.5,99 814,100 814.4,90 814.6,86 815,75 815.5,68.2 815.6,66.9 816.3,57.4 817.2,52.7 817.4,54.4 818.2,62.8 818.6,66.8 819,70.6 819.6,76.2 820,80 820.2,83.6 820.5,90 821,99.6 821.2,101.5 821.9,107 822.8,108 823,108 823,108 824.5,104.4 824.7,103.8 825,103 825.6,99.8 825.8,98.7 826.5,95 827.9,87.5 828,87 828.5,87 828.6,87 830,87 831,87 831.2,85.6 831.4,84.1 832,80 833,73 833.4,69.8 834,65 834.2,63.2 834.5,61 835,73 835.5,85 835.6,85 836,85 836.8,85 837,85 838,85 839,89.6 839.9,93.5 841.5,101 842.3,93 842.5,91 842.7,89.7 843.5,83 844,87 844.5,91 845,95 845.5,98.8 846,103 846.5,107 847.5,115 848.3,115 848.5,115 850,115 851.1,115 851.3,115 851.3,120.8 851.1,120.8 850,120.8 848.5,120.8 848.3,120.8 847.5,120.8 846.5,109.6 846,104 845.5,99.8 845,96 844.5,92 844,88 843.5,84 842.7,90.7 842.5,92 842.3,94 841.5,102 839.9,101.5 839,101.3 838,101 837,96.8 836.8,95.7 836,92.2 835.6,90.4 835.5,90 835,76 834.5,62 834.2,64.2 834,66 833.4,70.8 833,74 832,81 831.4,85.1 831.2,86.6 831,88 830,88 828.6,88 828.5,88 828,88 827.9,88.5 826.5,96 825.8,99.7 825.6,100.8 825,104 824.7,104.6 824.5,105 823,108 823,108 822.8,108 821.9,108 821.2,101.5 821,99.6 820.5,95 820.2,90.7 820,88.3 819.6,83 819,75 818.6,75 818.2,75 817.4,75 817.2,75 816.3,76.1 815.6,76.9 815.5,77 815,100 814.6,105.3 814.4,107.2 814,111 813.5,111.6 812.1,110.8 811.8,110.6 811.6,110.5 811.2,110.3 811.1,110.2 811,110.2 810.7,110 810.1,108.2 809.7,107.1 809.3,105.9 809,105 808.9,104.9 808.8,104.7 808,103.5 807.9,103.3 807.8,103.2 807,102 806.7,98.7 806.1,92.4 805.1,81.1 805,80 804.5,74.7 804.1,70.4 804,69.3 803.5,64 803.3,60.6 802.3,41.2 802,35.5 800.5,35.5 800.4,35.5 799.5,43 799,56.7 798.5,70.3 798,84 797.8,88 797.7,90 797.5,94 797.1,92.4 796.7,93.2 796.2,94.3 795.7,95.3 795.6,95.5 795.2,96.4 794.9,97 793.8,99.3 793.4,100.1 792.4,102.2 792.1,102.9 792,103 791.5,104.1 789.3,108.7 789.2,108.9 789,109.3 786.8,113.9 786.7,111.7 786.5,106.4 786.4,105.1 785.6,87.4 785,74.1 784.6,65.3 784,52 783.6,52 783.6,52 783.4,52 783,52 782.6,52 782,52 781.2,57.2 781,58.5 780.8,59.5 780.5,61.8 780,65 779,65 778,65 778,65 777.8,65 777,65 775.8,62 775.6,65.1 775.5,66.6 775.2,70.9 774.5,82 773.4,97.9 772.7,108 772.4,109 771.2,112.9 770.9,113.9 769.6,113.2 768.1,112.5 767.2,112 766.8,111.8 766.7,111.7 766.3,111.5 764.5,110.5 764.4,110.5 764,110.3 763.5,110 761.7,109 761.2,108.7 759.8,107.9 759,107.5 758.9,107.4 758.4,107.9 758,108.3 757.8,108.5 757,109.2 756.6,109.6 756,110.2 755.5,110.7 755.2,111 754.7,110.6 754.5,110.5 752.7,109.2 752.5,109 752.3,108.9 751.5,108.3 751.1,106.2 750.6,103.6 750,100.5 749.9,100.1 749,95.2 748.5,92.6 748,90 747.1,74.7 747,72.7 746.5,64 746.3,63.6 746.2,63.5 746,63.1 745.4,62 744.8,62.4 744.5,62.6 744.3,62.8 744,63 743.5,63.3 743.4,63.4 742.9,63.7 742.5,64 742,70.2 741.6,75.1 741.5,76.3 741.1,81.3 741,82.5 740.5,83.5 739,86.5 738.8,86.5 738.7,86.5 737.8,86.5 737,86.5 735.9,88.4 735.6,88.8 735.5,89 734.6,107.1 734.1,117.1 734,116.9 733.2,115.3 733.1,115 732.7,114.3 732.2,112 731.8,110.1 730.9,105.9 730.4,105.7 730.3,105.6 730,105.5 729.9,105.4 728.1,104.5 728,104.4 727.6,104.2 727.5,104.2 727.1,104 726.7,103.5 726.2,102.9 724.8,101.1 724.6,100.9 724.3,100.4 723.4,99.3 723,97.7 722.5,95.7 721.8,93.1 721.5,91.8 721.2,93 719,101.7 718.7,103 718.4,102.4 717.8,101.2 716.8,99.3 716.2,98.1 715.9,97.5 715.4,98.5 715,99.3 714,101.2 713.8,101.2 713.4,101.3 713.1,101.4 712.2,101.6 711.1,101.9 710.6,102 710.5,102.1 710.3,102.1 710.1,101.3 709.3,98.2 708.5,95 707.8,61.4 707.8,60.5 707.2,33.7 705.6,33 705.2,33.2 705,33.3 704.5,33.5 704,33.6 702.6,34.1 702.2,34.3 701.6,34.5 699.6,35.2 699.4,35.3 697.6,35.9 696.6,36.3 696.5,36.3 694.7,35.7 693.7,35.5 693.7,35.4 691.7,34.5 690.9,34.8 690.7,34.9 689.7,35.4 688.7,35.9 688.1,35.7 685.7,35.3 685.3,35.3 684.7,35 683.7,34.5 682.5,33.5 679.7,31.3 679.7,31.3 678.7,30.6 676.9,31.1 676.7,31.2 675.7,31.7 674.7,32.2 674.1,32.5 671.7,33.1 671.2,33.2 669.7,33.8 668.4,34.4 667.7,34.8 665.7,35.8 665.6,35.8 664.8,36.2 662.8,35.7 662.8,35.6 661.8,35.3 660,34.8 659.8,34.8 658.8,34.3 657.2,33.5 656.8,33.3 654.8,32.5 654.4,32.7 653.8,32.7 651.6,32.9 649.8,33.7 648.8,34.3 646,35.8 645.8,35.9 644.8,36.5 643.1,35.6 641.8,34.5 640.3,33.3 639.8,32.9 638.8,32.3 637.8,31.8 637.5,31.6 636.8,31.4 636.2,31.3 634.8,31 634.7,31 633.8,31.3 631.9,31.8 631.5,31.9 630.9,31.9 629.9,32 629.1,32.2 628.9,32.3 626.9,33.4 626.3,33.7 624.9,34.1 623.5,34.4 621.9,34.9 620.9,35.3 620.7,35.3 619.9,35.6 617.9,36.3 616.9,36.9 615.9,37.5 615,38 614.9,38 612.2,35.8 610.9,35.1 609.9,34.6 609.4,34.9 606.9,36.8 606.6,37 605.9,37.3 603.9,36.2 603.8,36.1 601.9,34.9 601,35.1 599.9,35.5 598.2,36.1 598,36.2 597,35.9 596,35.5 595.4,35.3 594,34 592.6,34.6 592,35.1 590,36.8 589.8,37 588,38.1 587,38.8 587,38.8 585,39.6 584.1,40.1 584,40.3 581.3,43.1 580,43.9 578.5,44.4 577.6,44.8 575.7,45.6 575.6,45.6 574.6,44.5 572.9,42.5 572.6,42.1 571.6,43.5 570.1,45.7 569.6,46.5 567.3,45 566.6,44.6 564.7,43.4 564.5,43.6 561.7,47.4 560.7,48.1 559.7,48.8 558.9,48.7 556,50.1 555.7,50 554.7,49.9 553.7,49.8 553.2,49.7 552.7,50 551.7,50.4 550.7,50.8 550.4,51 548.7,50.8 547.7,50.7 547.6,50.6 545.7,50.3 544.8,50.2 543.7,49.7 542,49 540.7,48.7 539.7,47.7 539.2,47.2 536.7,44.9 536.4,44.5 534.8,42.7 533.8,43.2 533.6,43.4 533.4,43.5 530.8,45.4 528.8,46.8 527.9,47.4 527.8,47.6 525.8,48.9 525.1,49.3 523.8,50.7 522.8,51.1 522.3,51.3 520.8,51.2 519.5,51.2 518.8,51.6 517.8,52.5 516.7,53.6 513.9,54.7 513.8,54.8 512.8,53.2 511.1,50.5 508.8,47 508.3,46.2 507.8,45.5 505.5,43.5 504.2,42.9 502.8,42.2 502.6,42.4 501.8,42.9 499.8,44 498.9,45 497.9,45.9 497,46.6 495.9,47.1 494.2,47.7 492.9,48.8 491.9,49.6 491.4,49.7 489.9,49.7 488.9,49.8 488.6,49.8 485.9,50.3 485.8,50.3 484.9,49.7 483,48.6 482.9,48.6 480.2,48.1 479.9,48 477.4,48 475.9,48.1 474.6,48.1 473.9,48.2 471.9,46.9 471.7,46.8 468.9,44.1 467.9,43.7 466.1,44.7 464,45.4 463.3,45.5 462,46.2 461,45.6 460.5,45.4 460,45 458,43.6 457.7,43.4 456,41.9 455,41.6 454.9,41.6 452.1,42.5 450,42 449.3,42 448.6,42.3 447.6,42.7 446.4,43.2 445.6,43.4 444.6,43.7 443.6,44 440.8,44.4 439.6,44.8 438,46.8 435.6,50.1 435.2,50.1 432.4,49.6 429.6,49.1 428.7,48.9 426.8,46.2 425.7,44.5 424,42.1 423.7,41.7 421.7,42.7 421.2,43 419.7,43.2 418.7,42.5 418.4,42.3 415.7,40.6 415.5,40.6 412.7,41.7 412.7,41.7 410.7,42.7 409.9,42.7 407.1,42.8 405.7,42 404.3,43 401.5,46.3 400.8,46.9 398.7,45 396.8,43.5 395.9,43 393.1,42.6 392.8,42.3 390.2,43.9 388.8,45.8 387.4,47.3 384.6,49 383.8,49.6 381.8,48.3 379,46.8 378.8,46.7 377.8,46.1 376.2,46.4 374.8,46.3 373.4,46.2 372.8,46.5 371.8,46.9 370.6,44.3 367.9,36.9 367.8,36.6 366.9,34.5 365,38.3 362.9,43.1 362.1,43 361.9,42.8 359.9,41.5 359.3,41.2 358.9,41 357.9,41.1 356.5,41.2 355.5,41 354.9,40.9 353.7,42.2 352.9,43.3 350.9,45.9 348.9,48.6 348.1,47.5 347.9,47.4 345.3,44.6 343.9,42.5 342.5,40.3 341.9,39.6 340.9,38.8 339.9,38 339.7,37.8 337.9,36.5 336.9,38.1 336.9,38.3 335,42 334.1,41.7 334,41.6 332,40.4 331.2,41.9 331,42.4 328.4,47.5 328,48.3 325.6,152.5 325.2,168.7 322.8,165.7 321.7,164.7 320,165 317.7,165 317.2,164.6 314.7,162.1 314.4,162.3 314.1,162.5 313.7,162.7 311.6,164 310.7,164.5 309.7,165.1 308.8,165.7 307.7,166.7 305.9,169.4 303.7,172.2 303.1,172.9 301.7,174.9 300.3,176.6 297.7,179.4 297.5,179.4 294.7,179.3 291.9,178.1 291.8,178.1 289.8,178.2 289.1,178.3 286.3,178.1 285.8,177.9 283.5,175.8 281.8,174.5 280.7,175.4 279.8,176.3 277.9,178.3 277.8,178.3 275,175.3 272.2,173 269.8,170.7 269.4,170.9 266.6,171 263.8,172 261.8,172.4 261,172.6 259.9,173 258.2,173.5 255.4,174.1 253.9,174.7 252.6,175.3 249.9,176.3 249.8,176.3 246.9,177 245.9,177.1 244.1,176.6 241.3,175.8 239.9,175.9 238.5,176.5 235.7,177.2 232.9,177.1 230.1,177.5 229.9,177.5 227.3,177.4 224.5,176.6 221.7,175.6 220,174.8 218.8,173.2 217.6,171.9 216,171.4 216,171.3 213.2,169.3 212.6,169 210.4,170.4 207.6,172.2 207.6,172.1 204.8,168 204.7,167.8 203.7,166.3 202.7,167.5 202,168.2 199.2,171.7 198.7,172.2 197.7,170.9 196.7,169.7 196.4,169.9 195.7,170.4 193.6,172.2 192.7,172.7 190.7,173 187.9,173.6 187.7,173.6 185.1,173.3 183.7,173.5 182.7,170.6 182.3,169.4 181.1,166 180.7,166.7 179.5,169.1 177.7,172.2 176.7,172.3 175.7,172.4 173.9,172.6 172.8,172.8 171.1,172.3 168.3,172.6 167.8,172.3 165.4,171 162.8,170.5 162.6,170.5 159.8,171.2 157.8,170.9 157,170.8 156.8,170.8 154.2,169.3 152.8,168.2 151.8,168.1 151.4,168.1 148.6,168.1 147.8,168.1 145.8,168.2 145.8,168.2 143,168.2 142.8,168.2 140.2,167 137.8,165.6 137.3,165.1 134.5,164 133.9,163.6 132.9,163.2 131.7,163.5 128.9,163.2 127.9,163.8 126.1,162.7 125.3,161.7 124.9,161.2 123.3,162 122.9,162.4 121.9,163.4 120.5,164.9 119.9,165.2 117.9,165.3 117.7,165.4 115.9,166.2 114.9,166.7 114.9,166.6 112.9,163.4 112.3,162.4 112.1,161.9 111.9,161.7 109.2,164.8 107.9,166.1 106.4,166.6 104,167.9 103.6,168 103,168.3 101,169.2 100.8,169.2 100,169.4 98,169.8 98,169.8 96,170 95.2,170 93,171.2 92.4,186.5 89.8,252.4 89.6,252.2 87,251.2 86.8,251.1 86,250.8 84,251.5 84,251.5 83,251.8 82,252.1 81.2,252.3 80,252.8 79,253.2 78.3,253.4 78,253.4 76,253.8 75.5,253.9 75,254.1 74,254.2 72.7,254.5 72,254.6 71,254.6 69.9,254.5 69,254.3 68,253.7 67.1,253.1 67,253 66,252.5 65,252.4 64.3,252.4 64,252.4 63,252.3 62,252.5 61.5,252.6 60,252.6 59,252.7 58.7,252.5 57,251.9 56,251.6 55.9,251.5 53,250.1 53,250 52,250.2 50.2,250.4 50,250.4 49,250.9 47.4,251.7 46,252.4 45,252.4 44.6,252.4 43,252.1 42,252 41.8,251.9 39,251"/>
<polygon fill="#0066CC" points="39,243.6 41.8,244.4 42,244.4 43,244.8 44.6,245.5 45,245.6 46,245.1 47.4,244.4 49,243.8 50,243.7 50.2,243.7 52,243.7 53,244 53,244 55.9,244.5 56,244.5 57,244.6 58.7,244.7 59,244.7 60,244.9 61.5,245 62,245 63,245 64,245 64.3,245.1 65,245.1 66,245.2 67,245.3 67.1,245.3 68,245.5 69,245.7 69.9,245.8 71,245.9 72,245.9 72.7,245.6 74,245.3 75,245.1 75.5,245 76,244.9 78,244.6 78.3,244.5 79,244.4 80,244.3 81.2,244.2 82,244.2 83,244.2 84,244.2 84,244.2 86,243.8 86.8,243.7 87,243.7 89.6,244.1 89.8,244.1 92.4,174.8 93,158.8 95.2,158.2 96,158 98,157.6 98,157.6 100,157.2 100.8,157 101,157 103,157.2 103.6,157.3 104,157.2 106.4,156.1 107.9,155.9 109.2,155.3 111.9,154.2 112.1,154.4 112.3,154.7 112.9,155.3 114.9,157.2 114.9,157.3 115.9,156.8 117.7,156.1 117.9,156 119.9,155.4 120.5,155.2 121.9,154.6 122.9,154.1 123.3,153.9 124.9,153.2 125.3,153.3 126.1,153.7 127.9,154.9 128.9,155 131.7,154.6 132.9,154.7 133.9,155.1 134.5,155.4 137.3,155.5 137.8,155.8 140.2,157.1 142.8,157.5 143,157.4 145.8,158.4 145.8,158.4 147.8,158.8 148.6,158.8 151.4,158.5 151.8,158.6 152.8,158.9 154.2,159.7 156.8,160.3 157,160.3 157.8,160.2 159.8,160 162.6,160.8 162.8,160.8 165.4,161.2 167.8,161.1 168.3,161.1 171.1,161.5 172.8,162 173.9,161.9 175.7,161.3 176.7,161 177.7,160.9 179.5,159.5 180.7,158.4 181.1,158.1 182.3,160 182.7,160.5 183.7,161.9 185.1,161.4 187.7,161.1 187.9,161.1 190.7,160.7 192.7,160.6 193.6,160.3 195.7,159.2 196.4,158.9 196.7,158.8 197.7,159.5 198.7,160.1 199.2,159.9 202,157.3 202.7,156.9 203.7,156.4 204.7,157.1 204.8,157.2 207.6,159 207.6,159 210.4,157.3 212.6,157.1 213.2,157.5 216,158 216,158 217.6,157.7 218.8,159.6 220,161.8 221.7,162.5 224.5,162.6 227.3,163.1 229.9,163.2 230.1,163.1 232.9,162.7 235.7,162.7 238.5,161.9 239.9,161.8 241.3,161.7 244.1,161.4 245.9,161.2 246.9,161.1 249.8,161.5 249.9,161.4 252.6,160.7 253.9,160.6 255.4,160.5 258.2,160.1 259.9,160 261,159.8 261.8,159.7 263.8,159.2 266.6,159.3 269.4,158.3 269.8,158.2 272.2,159.7 275,162 277.8,164.3 277.9,164.3 279.8,163 280.7,162.4 281.8,161.8 283.5,162.3 285.8,163.4 286.3,163.6 289.1,164.6 289.8,165 291.8,165.5 291.9,165.6 294.7,166 297.5,166.3 297.7,166.3 300.3,163.6 301.7,162.1 303.1,160.6 303.7,159.9 305.9,157.4 307.7,156.1 308.8,156.1 309.7,155.8 310.7,155.5 311.6,155.3 313.7,154.4 314.1,154.2 314.4,154.1 314.7,154 317.2,156.8 317.7,157.3 320,156.8 321.7,156 322.8,156.7 325.2,159 325.6,142.4 328,35.4 328.4,34.9 331,31 331.2,30.6 332,29.7 334,30.9 334.1,31 335,31.9 336.9,31.2 336.9,31.1 337.9,30.4 339.7,30.8 339.9,30.8 340.9,30.7 341.9,30.6 342.5,30.9 343.9,32.2 345.3,33.5 347.9,35.4 348.1,35.5 348.9,36.1 350.9,34.9 352.9,33.5 353.7,32.9 354.9,32.1 355.5,31.9 356.5,31.6 357.9,31.3 358.9,31.1 359.3,31.2 359.9,31.3 361.9,31.8 362.1,31.9 362.9,31.9 365,29.4 366.9,27.6 367.8,28.7 367.9,28.8 370.6,32.2 371.8,34 372.8,34.3 373.4,34.4 374.8,34.2 376.2,33.9 377.8,34 378.8,34.6 379,34.7 381.8,36.5 383.8,36.8 384.6,36 387.4,34.4 388.8,33.7 390.2,32.6 392.8,31.4 393.1,31.6 395.9,32.8 396.8,33 398.7,33.5 400.8,34.5 401.5,34 404.3,32.5 405.7,32 407.1,32.7 409.9,32.7 410.7,33 412.7,33 412.7,33 415.5,32.4 415.7,32.4 418.4,33.1 418.7,33.2 419.7,33.2 421.2,32.6 421.7,32.5 423.7,31.7 424,31.9 425.7,33.5 426.8,34.5 428.7,36.2 429.6,36.3 432.4,35.9 435.2,34.9 435.6,34.9 438,33.8 439.6,33.1 440.8,33.1 443.6,32.2 444.6,32 445.6,31.7 446.4,31.5 447.6,31.2 448.6,31 449.3,30.9 450,30.8 452.1,31.2 454.9,31.2 455,31.2 456,31.5 457.7,32.3 458,32.3 460,32.7 460.5,32.8 461,33 462,33.3 463.3,33.2 464,33.1 466.1,32.5 467.9,32 468.9,32.2 471.7,32.9 471.9,32.9 473.9,33.7 474.6,33.9 475.9,34.7 477.4,35.5 479.9,36.1 480.2,36.1 482.9,35 483,35 484.9,35 485.8,35 485.9,35 488.6,34.8 488.9,34.8 489.9,34.6 491.4,34.4 491.9,34.3 492.9,34.1 494.2,33.9 495.9,33.7 497,33.6 497.9,33.3 498.9,32.7 499.8,32.1 501.8,31.5 502.6,31.2 502.8,31.1 504.2,31.3 505.5,31.5 507.8,33 508.3,33.4 508.8,33.8 511.1,35.1 512.8,36.1 513.8,36.6 513.9,36.6 516.7,35.5 517.8,35.3 518.8,35.1 519.5,35 520.8,34.5 522.3,33.9 522.8,33.9 523.8,33.7 525.1,33.2 525.8,33 527.8,32.2 527.9,32.2 528.8,32 530.8,31.9 533.4,30.9 533.6,30.8 533.8,30.8 534.8,30.6 536.4,31.6 536.7,31.8 539.2,33.6 539.7,34.1 540.7,34.9 542,35.2 543.7,34.7 544.8,34.5 545.7,34.6 547.6,35 547.7,35 548.7,35.2 550.4,35.4 550.7,35.4 551.7,35.6 552.7,35.7 553.2,35.7 553.7,35.8 554.7,35.6 555.7,35.5 556,35.4 558.9,35.1 559.7,34.8 560.7,34.1 561.7,33.3 564.5,31.9 564.7,31.8 566.6,32.2 567.3,32.4 569.6,32.6 570.1,32.3 571.6,31.5 572.6,31 572.9,31.3 574.6,32.8 575.6,33.8 575.7,33.7 577.6,32.7 578.5,32.2 580,31.5 581.3,31.3 584,31 584.1,30.9 585,30.9 587,30.8 587,30.7 588,30.6 589.8,30.3 590,30.3 592,29.2 592.6,28.9 594,28.1 595.4,28.3 596,28.6 597,29.1 598,29.6 598.2,29.7 599.9,29.6 601,29.6 601.9,29.1 603.8,28.9 603.9,29 605.9,29.7 606.6,29.6 606.9,29.5 609.4,28.6 609.9,28.5 610.9,29 612.2,29.7 614.9,30 615,29.9 615.9,29.9 616.9,30 617.9,30 619.9,29 620.7,28.8 620.9,28.8 621.9,28.7 623.5,28.7 624.9,28.3 626.3,28 626.9,27.9 628.9,27.6 629.1,27.5 629.9,27.3 630.9,26.9 631.5,26.7 631.9,26.5 633.8,26.7 634.7,26.8 634.8,26.8 636.2,26.9 636.8,26.9 637.5,27 637.8,27.1 638.8,27.4 639.8,27.7 640.3,27.9 641.8,28.4 643.1,28.9 644.8,29.3 645.8,29 646,28.9 648.8,28.4 649.8,28.2 651.6,27.8 653.8,28.1 654.4,28.2 654.8,28.1 656.8,28.6 657.2,28.7 658.8,28.7 659.8,28.8 660,28.8 661.8,29.5 662.8,29.9 662.8,30 664.8,29.7 665.6,29.2 665.7,29.2 667.7,28.9 668.4,28.9 669.7,28.6 671.2,28.5 671.7,28.3 674.1,27.4 674.7,27.3 675.7,26.9 676.7,26.6 676.9,26.6 678.7,26.5 679.7,27.1 679.7,27.1 682.5,28.1 683.7,28.7 684.7,29 685.3,29.2 685.7,29.1 688.1,28.7 688.7,28.8 689.7,28.5 690.7,28.3 690.9,28.2 691.7,28 693.7,28.2 693.7,28.2 694.7,28.5 696.5,29 696.6,29 697.6,28.8 699.4,28.5 699.6,28.5 701.6,28.8 702.2,28.8 702.6,28.7 704,28.3 704.5,28.1 705,28 705.2,28 705.6,28 707.2,28.5 707.8,38 707.8,38.3 708.5,50 709.3,56.6 710.1,63.3 710.3,63.4 710.5,63.5 710.6,63.5 711.1,63.8 712.2,64.3 713.1,64.8 713.4,64.9 713.8,65.1 714,64.9 715,64.1 715.4,63.8 715.9,63.4 716.2,63.2 716.8,62.7 717.8,61.9 718.4,61.4 718.7,60.5 719,59.6 721.2,53.1 721.5,55.6 721.8,58.3 722.5,63.8 723,67.9 723.4,69.9 724.3,74.5 724.6,76.3 724.8,77.1 726.2,72.5 726.7,70.9 727.1,69.5 727.5,68.4 727.6,67.9 728,67.1 728.1,66.9 729.9,63.3 730,63.1 730.3,62.6 730.4,62.3 730.9,64.4 731.8,68.1 732.2,69.7 732.7,74.8 733.1,78.6 733.2,79.9 734,88.1 734.1,88 734.6,87.3 735.5,86 735.6,85.9 735.9,85.7 737,85 737.8,85 738.7,85 738.8,85 739,85 740.5,82 741,81 741.1,79.7 741.5,74.7 741.6,73.4 742,68.3 742.5,62 742.9,61.5 743.4,60.8 743.5,60.7 744,60 744.3,60 744.5,60 744.8,60 745.4,60 746,61.1 746.2,61.5 746.3,61.6 746.5,62 747,69.5 747.1,71.3 748,84.4 748.5,86.9 749,89.4 749.9,94 750,94.3 750.6,97.3 751.1,97.7 751.5,98.1 752.3,98.8 752.5,99 752.7,98.2 754.5,92.5 754.7,91.8 755.2,93.8 755.5,95.2 756,97 756.6,99.4 757,101 757.8,99.5 758,99.2 758.4,98.5 758.9,97.5 759,97.3 759.8,97.8 761.2,98.7 761.7,99 763.5,100.3 764,100.7 764.4,101 764.5,100.9 766.3,99.6 766.7,99.4 766.8,99.3 767.2,99 768.1,97 769.6,93.6 770.9,101 771.2,101.7 772.4,104.4 772.7,105 773.4,95.3 774.5,80 775.2,68.9 775.5,64.6 775.6,63.1 775.8,60 777,62 777.8,62 778,62 778,62 779,62 780,62 780.5,59 780.8,57 781,56 781.2,54.8 782,50 782.6,50 783,50 783.4,50 783.6,50 783.6,50 784,50 784.6,56.5 785,60.8 785.6,67.3 786.4,76 786.5,76 786.7,75.9 786.8,75.9 789,75.3 789.2,75.2 789.3,75.1 791.5,73.3 792,74.2 792.1,74.4 792.4,75 793.4,84.4 793.8,85.4 794.9,88 795.2,88.8 795.6,89.8 795.7,90 796.2,90.7 796.7,91.4 797.1,90.9 797.5,87.6 797.7,85.3 797.8,84.2 798,82 798.5,68.3 799,54.7 799.5,41 800.4,28 800.5,28 802,28 802.3,34.8 803.3,57.9 803.5,62 804,67.3 804.1,68.4 804.5,72.7 805,78 805.1,78.1 806.1,79.1 806.7,79.7 807,80 807.8,80 807.9,80 808,80 808.8,75.1 808.9,74.2 809,73.8 809.3,72 809.7,69.2 810.1,66.4 810.7,62.1 811,60 811.1,59.3 811.2,58.9 811.6,57.4 811.8,56.9 812.1,55.6 813.5,50.4 814,48.5 814.4,47 814.6,45.7 815,42.3 815.5,38.3 815.6,37.5 816.3,32 817.2,36.5 817.4,37.3 818.2,41.4 818.6,43.4 819,47.4 819.6,53.4 820,57.4 820.2,59.1 820.5,62 821,66.7 821.2,68.5 821.9,75 822.8,91.9 823,95.4 823,95.6 824.5,100.2 824.7,100.8 825,101.7 825.6,98.6 825.8,97.5 826.5,93.8 827.9,86.5 828,86 828.5,86 828.6,86 830,86 831,86 831.2,84.6 831.4,83.1 832,79 833,72 833.4,68.8 834,64 834.2,62.2 834.5,60 835,72 835.5,84 835.6,84 836,83.8 836.8,83.5 837,83.4 838,83 839,87.9 839.9,92 841.5,100 842.3,92 842.5,90 842.7,88.7 843.5,82 844,86 844.5,90 845,94 845.5,97.8 846,102 846.5,104.8 847.5,110.5 848.3,110.5 848.5,110.5 850,110.5 851.1,110.5 851.3,110.5 851.3,115 851.1,115 850,115 848.5,115 848.3,115 847.5,115 846.5,107 846,103 845.5,98.8 845,95 844.5,91 844,87 843.5,83 842.7,89.7 842.5,91 842.3,93 841.5,101 839.9,93.5 839,89.6 838,85 837,85 836.8,85 836,85 835.6,85 835.5,85 835,73 834.5,61 834.2,63.2 834,65 833.4,69.8 833,73 832,80 831.4,84.1 831.2,85.6 831,87 830,87 828.6,87 828.5,87 828,87 827.9,87.5 826.5,95 825.8,98.7 825.6,99.8 825,103 824.7,103.8 824.5,104.4 823,108 823,108 822.8,108 821.9,107 821.2,101.5 821,99.6 820.5,90 820.2,83.6 820,80 819.6,76.2 819,70.6 818.6,66.8 818.2,62.8 817.4,54.4 817.2,52.7 816.3,57.4 815.6,66.9 815.5,68.2 815,75 814.6,86 814.4,90 814,100 813.5,99 812.1,96 811.8,95.3 811.6,95 811.2,94.1 811.1,93.9 811,93.7 810.7,94.3 810.1,95.6 809.7,96.5 809.3,97.4 809,98 808.9,98.1 808.8,98.2 808,99 807.9,99.1 807.8,99.2 807,100 806.7,96.9 806.1,90.9 805.1,80.1 805,79 804.5,73.7 804.1,69.4 804,68.3 803.5,63 803.3,59.5 802.3,39.8 802,34 800.5,34 800.4,34 799.5,42 799,55.7 798.5,69.3 798,83 797.8,87 797.7,89 797.5,93 797.1,90.9 796.7,91.7 796.2,92.8 795.7,93.8 795.6,94 795.2,94.9 794.9,95.5 793.8,97.8 793.4,98.6 792.4,100.7 792.1,101.4 792,101.5 791.5,102.6 789.3,107.2 789.2,107.4 789,107.8 786.8,112.4 786.7,110.2 786.5,104.9 786.4,103.6 785.6,86.1 785,72.9 784.6,64.2 784,51 783.6,51 783.6,51 783.4,51 783,51 782.6,51 782,51 781.2,56.2 781,57.5 780.8,58.5 780.5,60.8 780,64 779,64 778,64 778,64 777.8,64 777,64 775.8,61 775.6,64.1 775.5,65.6 775.2,69.9 774.5,81 773.4,96.9 772.7,107 772.4,107.6 771.2,110.3 770.9,111 769.6,110.1 768.1,109 767.2,108.3 766.8,108.1 766.7,108.1 766.3,107.9 764.5,107 764.4,106.9 764,106.7 763.5,106.5 761.7,105.4 761.2,105.1 759.8,104.2 759,103.8 758.9,103.7 758.4,104.2 758,104.6 757.8,104.8 757,105.6 756.6,106 756,106.6 755.5,107.1 755.2,107.4 754.7,107 754.5,106.9 752.7,105.6 752.5,105.4 752.3,105.3 751.5,104.7 751.1,102.8 750.6,100.4 750,97.5 749.9,97.2 749,92.8 748.5,90.4 748,88 747.1,73.3 747,71.3 746.5,63 746.3,62.6 746.2,62.5 746,62.1 745.4,61 744.8,61.4 744.5,61.6 744.3,61.8 744,62 743.5,62.3 743.4,62.4 742.9,62.7 742.5,63 742,69.3 741.6,74.4 741.5,75.7 741.1,80.7 741,82 740.5,83 739,86 738.8,86 738.7,86 737.8,86 737,86 735.9,87.5 735.6,87.9 735.5,88 734.6,103.7 734.1,112.4 734,111.7 733.2,105.9 733.1,104.8 732.7,101.5 732.2,97.2 731.8,93.7 730.9,89.1 730.4,86.5 730.3,85.8 730,84.4 729.9,83.9 728.1,83.9 728,83.9 727.6,83.9 727.5,83.9 727.1,83.9 726.7,83.9 726.2,83.9 724.8,83.9 724.6,83.9 724.3,83.9 723.4,83.1 723,82.8 722.5,82.4 721.8,81.8 721.5,81.5 721.2,81.8 719,84 718.7,84.4 718.4,84.7 717.8,85.3 716.8,83.9 716.2,83.1 715.9,82.7 715.4,82 715,81.5 714,82.1 713.8,82.2 713.4,82.5 713.1,82.7 712.2,83.2 711.1,83.9 710.6,84.2 710.5,84.3 710.3,84.4 710.1,83.4 709.3,79.2 708.5,75 707.8,51.1 707.8,50.4 707.2,31.1 705.6,30.6 705.2,30.6 705,30.6 704.5,30.7 704,30.7 702.6,30.9 702.2,31 701.6,31.1 699.6,31.5 699.4,31.6 697.6,32.1 696.6,32.4 696.5,32.4 694.7,31.7 693.7,31.4 693.7,31.4 691.7,31.1 690.9,31.5 690.7,31.5 689.7,31.8 688.7,32 688.1,31.7 685.7,31.3 685.3,31.2 684.7,31.1 683.7,30.9 682.5,30.5 679.7,29.3 679.7,29.3 678.7,28.5 676.9,28.9 676.7,29 675.7,29.6 674.7,30.2 674.1,30.5 671.7,30.8 671.2,30.9 669.7,30.8 668.4,30.9 667.7,31.5 665.7,32.9 665.6,33 664.8,33.2 662.8,32.4 662.8,32.4 661.8,32.4 660,32.6 659.8,32.5 658.8,31.8 657.2,30.9 656.8,30.8 654.8,30.4 654.4,30.5 653.8,30.6 651.6,30.8 649.8,30.8 648.8,31 646,32.3 645.8,32.4 644.8,33 643.1,32.6 641.8,31.7 640.3,30.7 639.8,30.4 638.8,29.9 637.8,29.5 637.5,29.3 636.8,29 636.2,28.7 634.8,28 634.7,28 633.8,28.5 631.9,29.6 631.5,29.6 630.9,29.5 629.9,29.4 629.1,29.4 628.9,29.5 626.9,30.3 626.3,30.5 624.9,31 623.5,31.4 621.9,32 620.9,32.3 620.7,32.4 619.9,32.5 617.9,32.8 616.9,33.2 615.9,33.6 615,33.9 614.9,34 612.2,33.2 610.9,32.5 609.9,31.9 609.4,32 606.9,33.3 606.6,33.4 605.9,33.6 603.9,32.7 603.8,32.6 601.9,31.7 601,31.9 599.9,32.3 598.2,33 598,33 597,32.4 596,31.8 595.4,31.5 594,30.7 592.6,31.5 592,31.9 590,33.4 589.8,33.5 588,33.9 587,34.1 587,34.1 585,35.2 584.1,36 584,36 581.3,37 580,37.8 578.5,38.5 577.6,39.1 575.7,40.2 575.6,40.2 574.6,39.3 572.9,37.6 572.6,37.3 571.6,38.6 570.1,40.5 569.6,41.1 567.3,39.7 566.6,39.4 564.7,38.3 564.5,38.5 561.7,40.4 560.7,41.4 559.7,42.3 558.9,42.5 556,42.1 555.7,42.3 554.7,42.7 553.7,43.2 553.2,43.3 552.7,43.3 551.7,43.3 550.7,43.3 550.4,43.3 548.7,42.8 547.7,42.6 547.6,42.5 545.7,42.8 544.8,43 543.7,42.7 542,42.3 540.7,41.9 539.7,41.1 539.2,40.7 536.7,38.8 536.4,38.5 534.8,37.8 533.8,38.3 533.6,38.4 533.4,38.5 530.8,39.8 528.8,40.4 527.9,40.9 527.8,41 525.8,41.9 525.1,42.2 523.8,42.9 522.8,43 522.3,43 520.8,43.3 519.5,43.5 518.8,43.7 517.8,44.4 516.7,45.1 513.9,46.6 513.8,46.7 512.8,45.7 511.1,44.1 508.8,41.3 508.3,40.6 507.8,40 505.5,38.8 504.2,38.2 502.8,37.6 502.6,37.6 501.8,38.1 499.8,39.4 498.9,39.7 497.9,40.1 497,40.3 495.9,40.9 494.2,41.6 492.9,41.9 491.9,42.1 491.4,42.1 489.9,42.4 488.9,42.6 488.6,42.7 485.9,43.4 485.8,43.4 484.9,42.9 483,42 482.9,42 480.2,41.6 479.9,41.6 477.4,41 475.9,40.8 474.6,40.6 473.9,40.6 471.9,39.7 471.7,39.6 468.9,38.9 467.9,38.2 466.1,38.5 464,39.3 463.3,39.6 462,39.9 461,39.3 460.5,39 460,38.8 458,37.9 457.7,37.8 456,37.2 455,37.4 454.9,37.5 452.1,37.4 450,36.9 449.3,36.8 448.6,36.8 447.6,36.8 446.4,36.9 445.6,37 444.6,37.4 443.6,37.8 440.8,38 439.6,38.6 438,40 435.6,41.7 435.2,41.6 432.4,41.5 429.6,41.8 428.7,41.9 426.8,40.3 425.7,38.9 424,36.8 423.7,36.6 421.7,37.3 421.2,37.5 419.7,37.4 418.7,37.1 418.4,37 415.7,35.7 415.5,35.7 412.7,37.5 412.7,37.5 410.7,38.1 409.9,37.9 407.1,36.9 405.7,36.6 404.3,37.3 401.5,39.7 400.8,40.1 398.7,39 396.8,38.1 395.9,37.8 393.1,36.7 392.8,36.6 390.2,38.9 388.8,40.1 387.4,41 384.6,42.8 383.8,43.1 381.8,41.8 379,40.9 378.8,40.8 377.8,40.1 376.2,39.7 374.8,40 373.4,40.3 372.8,40.3 371.8,40.2 370.6,38 367.9,33.3 367.8,33.1 366.9,31.4 365,34.5 362.9,38.4 362.1,38.2 361.9,38.1 359.9,37.1 359.3,36.9 358.9,36.8 357.9,36.8 356.5,36.9 355.5,36.8 354.9,36.7 353.7,37.6 352.9,38.4 350.9,40.5 348.9,42.2 348.1,41.6 347.9,41.4 345.3,38.4 343.9,37.4 342.5,36.4 341.9,36 340.9,35.2 339.9,34.5 339.7,34.3 337.9,32.8 336.9,34 336.9,34.1 335,37 334.1,36.6 334,36.6 332,34.9 331.2,36 331,36.5 328.4,41.2 328,42 325.6,147.9 325.2,164.2 322.8,160.7 321.7,159.6 320,160.3 317.7,160.6 317.2,160 314.7,157.6 314.4,157.7 314.1,158 313.7,158.3 311.6,159.9 310.7,160.5 309.7,161.1 308.8,161.7 307.7,162.2 305.9,164.1 303.7,166.2 303.1,166.8 301.7,168.9 300.3,170.8 297.7,173.2 297.5,173.1 294.7,171.9 291.9,172 291.8,171.9 289.8,171.3 289.1,171.1 286.3,171 285.8,170.9 283.5,170 281.8,169 280.7,169.8 279.8,170.3 277.9,171.4 277.8,171.4 275,169 272.2,166.9 269.8,163.6 269.4,163.7 266.6,164.7 263.8,166.3 261.8,166.7 261,166.7 259.9,166.8 258.2,166.9 255.4,167.4 253.9,168 252.6,168.4 249.9,168.8 249.8,168.8 246.9,169.2 245.9,169.3 244.1,168.8 241.3,167.9 239.9,167.8 238.5,168.4 235.7,168.9 232.9,169.9 230.1,170.9 229.9,171 227.3,170.5 224.5,169.9 221.7,169.3 220,169.3 218.8,167.5 217.6,165.3 216,164.5 216,164.5 213.2,163.2 212.6,163 210.4,164.4 207.6,165.9 207.6,165.8 204.8,163.2 204.7,163.1 203.7,161.9 202.7,162.6 202,163 199.2,165.4 198.7,165.8 197.7,165.2 196.7,164.6 196.4,164.8 195.7,165.1 193.6,166.2 192.7,166.5 190.7,166.7 187.9,167 187.7,167 185.1,167.3 183.7,168 182.7,166.4 182.3,165.7 181.1,163 180.7,163.4 179.5,164.4 177.7,166.9 176.7,167.3 175.7,167.3 173.9,167.3 172.8,167.8 171.1,168 168.3,167.4 167.8,167.2 165.4,166.3 162.8,165.5 162.6,165.5 159.8,165.9 157.8,165.3 157,165.1 156.8,165 154.2,164.2 152.8,163.8 151.8,163.7 151.4,163.7 148.6,163.4 147.8,163.4 145.8,163.1 145.8,163.1 143,162.8 142.8,162.8 140.2,162.3 137.8,162 137.3,161.7 134.5,159.9 133.9,159.4 132.9,158.7 131.7,158.8 128.9,160.1 127.9,160.4 126.1,158.5 125.3,157.5 124.9,157 123.3,157.9 122.9,158.1 121.9,158.5 120.5,159.1 119.9,159.7 117.9,161.2 117.7,161.3 115.9,162 114.9,162.4 114.9,162.4 112.9,159.3 112.3,158.4 112.1,157.9 111.9,157.8 109.2,160.5 107.9,161.5 106.4,162.1 104,162.3 103.6,162.3 103,162.7 101,163.7 100.8,163.7 100,163.9 98,164.2 98,164.2 96,164.1 95.2,164.1 93,165 92.4,180.8 89.8,248.9 89.6,248.8 87,247.7 86.8,247.6 86,247.2 84,248 84,248.1 83,248.6 82,249.1 81.2,249.5 80,249.9 79,250.2 78.3,250.4 78,250.4 76,250.8 75.5,250.9 75,251.1 74,251.3 72.7,251.6 72,251.6 71,251.6 69.9,250.9 69,250.6 68,250.1 67.1,249.8 67,249.7 66,249.8 65,249.8 64.3,249.9 64,249.8 63,249.7 62,249.6 61.5,249.6 60,249.8 59,250 58.7,249.9 57,249.1 56,248.7 55.9,248.6 53,247.1 53,247.1 52,247.2 50.2,247.4 50,247.4 49,247.8 47.4,248.5 46,248.9 45,248.6 44.6,248.5 43,248.5 42,248.5 41.8,248.4 39,247.3"/>
<polygon fill="#CCCCFF" points="39,238.7 41.8,239.4 42,239.4 43,239.6 44.6,239.5 45,239.5 46,239.6 47.4,239 49,238.6 50,238.8 50.2,238.8 52,239 53,239.1 53,239.1 55.9,239.8 56,239.8 57,239.9 58.7,240 59,240 60,240.2 61.5,239.9 62,239.8 63,239.6 64,239.8 64.3,239.9 65,240.1 66,240.3 67,240.5 67.1,240.5 68,240.6 69,240.7 69.9,240.8 71,240.8 72,240.5 72.7,240.2 74,240.1 75,239.9 75.5,239.9 76,239.8 78,239.4 78.3,239.5 79,239.8 80,240.1 81.2,240.5 82,240.8 83,240.6 84,240.4 84,240.4 86,239.9 86.8,239.8 87,239.8 89.6,239.5 89.8,239.5 92.4,169 93,152.8 95.2,152.4 96,152.2 98,151.8 98,151.8 100,152 100.8,152.1 101,152.1 103,151.9 103.6,151.9 104,151.8 106.4,151.8 107.9,151.7 109.2,151.9 111.9,151.8 112.1,151.8 112.3,151.8 112.9,151.7 114.9,151.4 114.9,151.5 115.9,151.5 117.7,151.3 117.9,151.4 119.9,151.8 120.5,151.9 121.9,151.7 122.9,151.6 123.3,151.6 124.9,151.1 125.3,151.1 126.1,151 127.9,150.8 128.9,150.8 131.7,151 132.9,151.1 133.9,151.2 134.5,151.2 137.3,152.3 137.8,152.2 140.2,151.9 142.8,152.2 143,152.2 145.8,152.8 145.8,152.8 147.8,152.5 148.6,152.3 151.4,152.8 151.8,152.8 152.8,152.8 154.2,152.9 156.8,152.9 157,152.9 157.8,152.8 159.8,152.6 162.6,152.9 162.8,152.9 165.4,152.5 167.8,152.7 168.3,152.8 171.1,153 172.8,153 173.9,152.9 175.7,153.6 176.7,153.7 177.7,153.3 179.5,152.6 180.7,152.4 181.1,152.3 182.3,152.6 182.7,152.7 183.7,152.8 185.1,153.1 187.7,152.8 187.9,152.7 190.7,152.3 192.7,152.8 193.6,153 195.7,152.5 196.4,152.3 196.7,152.3 197.7,152.3 198.7,152.3 199.2,152.3 202,152.2 202.7,152 203.7,151.8 204.7,151.5 204.8,151.4 207.6,151.5 207.6,151.5 210.4,151.3 212.6,151.4 213.2,151.4 216,151.4 216,151.4 217.6,151.6 218.8,152.2 220,152.7 221.7,152.7 224.5,153.2 227.3,153 229.9,153.3 230.1,153.3 232.9,152.6 235.7,152.4 238.5,152.7 239.9,152.5 241.3,152.3 244.1,152.9 245.9,152.6 246.9,152.4 249.8,152.3 249.9,152.4 252.6,152.7 253.9,152.4 255.4,152 258.2,152.4 259.9,152.1 261,151.9 261.8,151.8 263.8,151.5 266.6,152.1 269.4,152.1 269.8,152 272.2,151.7 275,152.3 277.8,152.5 277.9,152.5 279.8,153.1 280.7,153.4 281.8,153.4 283.5,153.4 285.8,154.2 286.3,154.3 289.1,155.4 289.8,155.3 291.8,154.7 291.9,154.7 294.7,155.8 297.5,155.8 297.7,155.8 300.3,154.7 301.7,153.8 303.1,153.2 303.7,153 305.9,152.2 307.7,151.6 308.8,151.5 309.7,151.6 310.7,151.6 311.6,151.7 313.7,151.5 314.1,151.4 314.4,151.4 314.7,151.4 317.2,151.7 317.7,151.7 320,152 321.7,151.8 322.8,151.6 325.2,152.2 325.6,135.6 328,28.4 328.4,28.1 331,25.4 331.2,25.1 332,24.7 334,25.4 334.1,25.4 335,25.5 336.9,25.6 336.9,25.6 337.9,25.5 339.7,25.6 339.9,25.7 340.9,26.1 341.9,26.5 342.5,26.7 343.9,27.1 345.3,27.4 347.9,27.9 348.1,28 348.9,27.9 350.9,26.9 352.9,27.1 353.7,27.2 354.9,26.6 355.5,26.4 356.5,26 357.9,26.1 358.9,26.2 359.3,26.2 359.9,26 361.9,25.3 362.1,25.2 362.9,25.2 365,25.3 366.9,24.7 367.8,24.9 367.9,24.9 370.6,26.5 371.8,27.1 372.8,27.3 373.4,27.4 374.8,27.5 376.2,27.6 377.8,28.1 378.8,28.4 379,28.4 381.8,28.6 383.8,28.6 384.6,28.2 387.4,27.3 388.8,26.8 390.2,26.3 392.8,25.8 393.1,25.9 395.9,27.2 396.8,27.2 398.7,27.3 400.8,28.2 401.5,28 404.3,26.7 405.7,26.2 407.1,26.3 409.9,26.5 410.7,26.4 412.7,26.2 412.7,26.2 415.5,27.1 415.7,27.1 418.4,26.8 418.7,26.9 419.7,27.2 421.2,27.8 421.7,27.7 423.7,27.4 424,27.4 425.7,27.8 426.8,28.1 428.7,28.6 429.6,28.4 432.4,28.7 435.2,27.6 435.6,27.6 438,27.4 439.6,27.2 440.8,27 443.6,26.4 444.6,26.1 445.6,25.8 446.4,25.8 447.6,26 448.6,26.3 449.3,26.4 450,26.3 452.1,26.1 454.9,26 455,26.1 456,26.3 457.7,26.7 458,26.7 460,26.5 460.5,26.4 461,26.6 462,26.9 463.3,27.1 464,26.9 466.1,26.3 467.9,26.6 468.9,26.8 471.7,25.7 471.9,25.7 473.9,25.7 474.6,26.1 475.9,26.7 477.4,27.4 479.9,29 480.2,29 482.9,28.6 483,28.6 484.9,28.5 485.8,28.4 485.9,28.4 488.6,28.2 488.9,28.2 489.9,28.2 491.4,28.1 491.9,28 492.9,27.6 494.2,26.9 495.9,26.4 497,26.1 497.9,25.8 498.9,25.9 499.8,26.1 501.8,26.4 502.6,26.6 502.8,26.6 504.2,27.2 505.5,27.6 507.8,28.4 508.3,28.5 508.8,28.6 511.1,29 512.8,29.3 513.8,29.5 513.9,29.5 516.7,28 517.8,28 518.8,28 519.5,28.1 520.8,27.5 522.3,26.8 522.8,26.8 523.8,26.9 525.1,27.1 525.8,26.9 527.8,26.6 527.9,26.5 528.8,26.2 530.8,26 533.4,26.5 533.6,26.5 533.8,26.5 534.8,26.3 536.4,26.8 536.7,27 539.2,28.2 539.7,28.5 540.7,28.9 542,28.7 543.7,28.9 544.8,29 545.7,28.8 547.6,28.5 547.7,28.5 548.7,28.4 550.4,28.2 550.7,28.2 551.7,28.1 552.7,28 553.2,27.9 553.7,28 554.7,27.9 555.7,27.9 556,27.9 558.9,26.8 559.7,26.8 560.7,26.9 561.7,27 564.5,25.9 564.7,25.9 566.6,26.1 567.3,26.1 569.6,26 570.1,26 571.6,26.3 572.6,26.5 572.9,26.6 574.6,26.9 575.6,27.1 575.7,27.1 577.6,26.5 578.5,26.3 580,26.2 581.3,26 584,26.2 584.1,26.2 585,25.9 587,25.4 587,25.4 588,25.4 589.8,25.4 590,25.4 592,25.3 592.6,25.3 594,25 595.4,24.7 596,24.8 597,25.1 598,25.3 598.2,25.4 599.9,24.9 601,24.6 601.9,24.6 603.8,24.6 603.9,24.6 605.9,24.1 606.6,24 606.9,24 609.4,24.7 609.9,24.6 610.9,24.2 612.2,23.8 614.9,24.1 615,24.2 615.9,24 616.9,23.9 617.9,23.7 619.9,23.8 620.7,23.8 620.9,23.8 621.9,23.8 623.5,23.7 624.9,23.8 626.3,23.9 626.9,23.9 628.9,23.6 629.1,23.5 629.9,23.6 630.9,23.8 631.5,23.8 631.9,23.9 633.8,23.9 634.7,23.9 634.8,23.8 636.2,23.7 636.8,23.7 637.5,23.6 637.8,23.7 638.8,24 639.8,24.3 640.3,24.4 641.8,24.1 643.1,23.8 644.8,24.2 645.8,24.4 646,24.4 648.8,24.6 649.8,24.5 651.6,24.2 653.8,23.6 654.4,23.5 654.8,23.5 656.8,23.6 657.2,23.6 658.8,23.7 659.8,23.7 660,23.7 661.8,23.8 662.8,23.9 662.8,23.9 664.8,24.3 665.6,24.4 665.7,24.4 667.7,24.7 668.4,24.7 669.7,24.4 671.2,24 671.7,24 674.1,24.3 674.7,24.2 675.7,24 676.7,23.8 676.9,23.8 678.7,24.3 679.7,24.6 679.7,24.6 682.5,24 683.7,24 684.7,23.9 685.3,23.9 685.7,23.9 688.1,23.8 688.7,23.8 689.7,23.8 690.7,23.8 690.9,23.8 691.7,23.8 693.7,23.8 693.7,23.8 694.7,24.1 696.5,24.7 696.6,24.7 697.6,24.7 699.4,24.5 699.6,24.5 701.6,24.1 702.2,23.9 702.6,24 704,24.3 704.5,24.4 705,24.5 705.2,24.5 705.6,24.5 707.2,24.4 707.8,26.6 707.8,26.7 708.5,29.4 709.3,32.1 710.1,34.7 710.3,35.4 710.5,35.5 710.6,35.5 711.1,35.7 712.2,36.1 713.1,36.4 713.4,36 713.8,35.4 714,35.1 715,33.7 715.4,33.1 715.9,32.9 716.2,32.8 716.8,32.5 717.8,32.1 718.4,31.8 718.7,31.7 719,31.6 721.2,30.9 721.5,30.8 721.8,31.7 722.5,33.5 723,34.8 723.4,35.9 724.3,34.6 724.6,34 724.8,33.8 726.2,31.7 726.7,31.7 727.1,31.7 727.5,31.7 727.6,31.7 728,31.7 728.1,31.7 729.9,34.1 730,34.2 730.3,34.6 730.4,34.7 730.9,35.4 731.8,37.5 732.2,38.4 732.7,39.6 733.1,42.6 733.2,43.7 734,50.2 734.1,51 734.6,58.6 735.5,72.4 735.6,73.2 735.9,75.3 737,84 737.8,84 738.7,84 738.8,84 739,84 740.5,81 741,80 741.1,78.7 741.5,73.3 741.6,72 742,66.7 742.5,60 742.9,53.3 743.4,45 743.5,43.3 744,35 744.3,33.8 744.5,33 744.8,31.8 745.4,29.4 746,35.2 746.2,37.1 746.3,38.1 746.5,40 747,45.6 747.1,46.9 748,56.8 748.5,52.6 749,48.4 749.9,40.6 750,40 750.6,38.5 751.1,37.3 751.5,36.3 752.3,34.3 752.5,33.8 752.7,33.9 754.5,34.3 754.7,34.4 755.2,34.5 755.5,34.6 756,34.7 756.6,36.9 757,38.4 757.8,41.3 758,42 758.4,46.8 758.9,54 759,55.3 759.8,66 761.2,76.6 761.7,80.7 763.5,90 764,90.6 764.4,91.2 764.5,91.3 766.3,93.6 766.7,92.8 766.8,92.6 767.2,91.8 768.1,90 769.6,75 770.9,62 771.2,59 772.4,46.9 772.7,44 773.4,38.9 774.5,31 775.2,28 775.5,26.8 775.6,26.3 775.8,25.5 777,43 777.8,43.1 778,43.1 778,43.1 779,43.3 780,43.4 780.5,40 780.8,37.8 781,36.7 781.2,35.4 782,30 782.6,28.5 783,27.5 783.4,26.5 783.6,26 783.6,25.9 784,25 784.6,25.4 785,25.6 785.6,26 786.4,26.5 786.5,26.6 786.7,26.8 786.8,26.9 789,29.2 789.2,29.4 789.3,29.5 791.5,33.2 792,34 792.1,34.2 792.4,35 793.4,37.7 793.8,38.7 794.9,43.1 795.2,44.3 795.6,49.5 795.7,50.8 796.2,57.4 796.7,63.6 797.1,68.6 797.5,73.7 797.7,76.2 797.8,77.5 798,80 798.5,66.7 799,53.3 799.5,40 800.4,27.5 800.5,27.5 802,27.5 802.3,34 803.3,56.1 803.5,60 804,64.3 804.1,65.2 804.5,68.7 805,73 805.1,73 806.1,73 806.7,73 807,73 807.8,55 807.9,52.7 808,51.1 808.8,38.7 808.9,37.4 809,36.8 809.3,34 809.7,30.3 810.1,30.8 810.7,31.5 811,31.9 811.1,32 811.2,32.1 811.6,32.6 811.8,32.3 812.1,31.5 813.5,28.4 814,28 814.4,27.6 814.6,27.5 815,27.1 815.5,26.7 815.6,26.6 816.3,26 817.2,26.6 817.4,26.7 818.2,27.2 818.6,27.5 819,30.9 819.6,36 820,41.3 820.2,43.7 820.5,48 821,53 821.2,55 821.9,62 822.8,84.9 823,89.7 823,90 824.5,94.2 824.7,94.8 825,95.6 825.6,93.3 825.8,92.5 826.5,89.8 827.9,84.4 828,84 828.5,84 828.6,84 830,84 831,84 831.2,82.6 831.4,81.1 832,77 833,70 833.4,62 834,50 834.2,45.4 834.5,40 835,36 835.5,32 835.6,31.9 836,31.6 836.8,31 837,30.8 838,30 839,29.4 839.9,28.9 841.5,28 842.3,37.6 842.5,40 842.7,46.4 843.5,80 844,84 844.5,88 845,92 845.5,95.8 846,100 846.5,86.7 847.5,60 848.3,38.9 848.5,33 850,33 851.1,33 851.3,33 851.3,110.5 851.1,110.5 850,110.5 848.5,110.5 848.3,110.5 847.5,110.5 846.5,104.8 846,102 845.5,97.8 845,94 844.5,90 844,86 843.5,82 842.7,88.7 842.5,90 842.3,92 841.5,100 839.9,92 839,87.9 838,83 837,83.4 836.8,83.5 836,83.8 835.6,84 835.5,84 835,72 834.5,60 834.2,62.2 834,64 833.4,68.8 833,72 832,79 831.4,83.1 831.2,84.6 831,86 830,86 828.6,86 828.5,86 828,86 827.9,86.5 826.5,93.8 825.8,97.5 825.6,98.6 825,101.7 824.7,100.8 824.5,100.2 823,95.6 823,95.4 822.8,91.9 821.9,75 821.2,68.5 821,66.7 820.5,62 820.2,59.1 820,57.4 819.6,53.4 819,47.4 818.6,43.4 818.2,41.4 817.4,37.3 817.2,36.5 816.3,32 815.6,37.5 815.5,38.3 815,42.3 814.6,45.7 814.4,47 814,48.5 813.5,50.4 812.1,55.6 811.8,56.9 811.6,57.4 811.2,58.9 811.1,59.3 811,60 810.7,62.1 810.1,66.4 809.7,69.2 809.3,72 809,73.8 808.9,74.2 808.8,75.1 808,80 807.9,80 807.8,80 807,80 806.7,79.7 806.1,79.1 805.1,78.1 805,78 804.5,72.7 804.1,68.4 804,67.3 803.5,62 803.3,57.9 802.3,34.8 802,28 800.5,28 800.4,28 799.5,41 799,54.7 798.5,68.3 798,82 797.8,84.2 797.7,85.3 797.5,87.6 797.1,90.9 796.7,91.4 796.2,90.7 795.7,90 795.6,89.8 795.2,88.8 794.9,88 793.8,85.4 793.4,84.4 792.4,75 792.1,74.4 792,74.2 791.5,73.3 789.3,75.1 789.2,75.2 789,75.3 786.8,75.9 786.7,75.9 786.5,76 786.4,76 785.6,67.3 785,60.8 784.6,56.5 784,50 783.6,50 783.6,50 783.4,50 783,50 782.6,50 782,50 781.2,54.8 781,56 780.8,57 780.5,59 780,62 779,62 778,62 778,62 777.8,62 777,62 775.8,60 775.6,63.1 775.5,64.6 775.2,68.9 774.5,80 773.4,95.3 772.7,105 772.4,104.4 771.2,101.7 770.9,101 769.6,93.6 768.1,97 767.2,99 766.8,99.3 766.7,99.4 766.3,99.6 764.5,100.9 764.4,101 764,100.7 763.5,100.3 761.7,99 761.2,98.7 759.8,97.8 759,97.3 758.9,97.5 758.4,98.5 758,99.2 757.8,99.5 757,101 756.6,99.4 756,97 755.5,95.2 755.2,93.8 754.7,91.8 754.5,92.5 752.7,98.2 752.5,99 752.3,98.8 751.5,98.1 751.1,97.7 750.6,97.3 750,94.3 749.9,94 749,89.4 748.5,86.9 748,84.4 747.1,71.3 747,69.5 746.5,62 746.3,61.6 746.2,61.5 746,61.1 745.4,60 744.8,60 744.5,60 744.3,60 744,60 743.5,60.7 743.4,60.8 742.9,61.5 742.5,62 742,68.3 741.6,73.4 741.5,74.7 741.1,79.7 741,81 740.5,82 739,85 738.8,85 738.7,85 737.8,85 737,85 735.9,85.7 735.6,85.9 735.5,86 734.6,87.3 734.1,88 734,88.1 733.2,79.9 733.1,78.6 732.7,74.8 732.2,69.7 731.8,68.1 730.9,64.4 730.4,62.3 730.3,62.6 730,63.1 729.9,63.3 728.1,66.9 728,67.1 727.6,67.9 727.5,68.4 727.1,69.5 726.7,70.9 726.2,72.5 724.8,77.1 724.6,76.3 724.3,74.5 723.4,69.9 723,67.9 722.5,63.8 721.8,58.3 721.5,55.6 721.2,53.1 719,59.6 718.7,60.5 718.4,61.4 717.8,61.9 716.8,62.7 716.2,63.2 715.9,63.4 715.4,63.8 715,64.1 714,64.9 713.8,65.1 713.4,64.9 713.1,64.8 712.2,64.3 711.1,63.8 710.6,63.5 710.5,63.5 710.3,63.4 710.1,63.3 709.3,56.6 708.5,50 707.8,38.3 707.8,38 707.2,28.5 705.6,28 705.2,28 705,28 704.5,28.1 704,28.3 702.6,28.7 702.2,28.8 701.6,28.8 699.6,28.5 699.4,28.5 697.6,28.8 696.6,29 696.5,29 694.7,28.5 693.7,28.2 693.7,28.2 691.7,28 690.9,28.2 690.7,28.3 689.7,28.5 688.7,28.8 688.1,28.7 685.7,29.1 685.3,29.2 684.7,29 683.7,28.7 682.5,28.1 679.7,27.1 679.7,27.1 678.7,26.5 676.9,26.6 676.7,26.6 675.7,26.9 674.7,27.3 674.1,27.4 671.7,28.3 671.2,28.5 669.7,28.6 668.4,28.9 667.7,28.9 665.7,29.2 665.6,29.2 664.8,29.7 662.8,30 662.8,29.9 661.8,29.5 660,28.8 659.8,28.8 658.8,28.7 657.2,28.7 656.8,28.6 654.8,28.1 654.4,28.2 653.8,28.1 651.6,27.8 649.8,28.2 648.8,28.4 646,28.9 645.8,29 644.8,29.3 643.1,28.9 641.8,28.4 640.3,27.9 639.8,27.7 638.8,27.4 637.8,27.1 637.5,27 636.8,26.9 636.2,26.9 634.8,26.8 634.7,26.8 633.8,26.7 631.9,26.5 631.5,26.7 630.9,26.9 629.9,27.3 629.1,27.5 628.9,27.6 626.9,27.9 626.3,28 624.9,28.3 623.5,28.7 621.9,28.7 620.9,28.8 620.7,28.8 619.9,29 617.9,30 616.9,30 615.9,29.9 615,29.9 614.9,30 612.2,29.7 610.9,29 609.9,28.5 609.4,28.6 606.9,29.5 606.6,29.6 605.9,29.7 603.9,29 603.8,28.9 601.9,29.1 601,29.6 599.9,29.6 598.2,29.7 598,29.6 597,29.1 596,28.6 595.4,28.3 594,28.1 592.6,28.9 592,29.2 590,30.3 589.8,30.3 588,30.6 587,30.7 587,30.8 585,30.9 584.1,30.9 584,31 581.3,31.3 580,31.5 578.5,32.2 577.6,32.7 575.7,33.7 575.6,33.8 574.6,32.8 572.9,31.3 572.6,31 571.6,31.5 570.1,32.3 569.6,32.6 567.3,32.4 566.6,32.2 564.7,31.8 564.5,31.9 561.7,33.3 560.7,34.1 559.7,34.8 558.9,35.1 556,35.4 555.7,35.5 554.7,35.6 553.7,35.8 553.2,35.7 552.7,35.7 551.7,35.6 550.7,35.4 550.4,35.4 548.7,35.2 547.7,35 547.6,35 545.7,34.6 544.8,34.5 543.7,34.7 542,35.2 540.7,34.9 539.7,34.1 539.2,33.6 536.7,31.8 536.4,31.6 534.8,30.6 533.8,30.8 533.6,30.8 533.4,30.9 530.8,31.9 528.8,32 527.9,32.2 527.8,32.2 525.8,33 525.1,33.2 523.8,33.7 522.8,33.9 522.3,33.9 520.8,34.5 519.5,35 518.8,35.1 517.8,35.3 516.7,35.5 513.9,36.6 513.8,36.6 512.8,36.1 511.1,35.1 508.8,33.8 508.3,33.4 507.8,33 505.5,31.5 504.2,31.3 502.8,31.1 502.6,31.2 501.8,31.5 499.8,32.1 498.9,32.7 497.9,33.3 497,33.6 495.9,33.7 494.2,33.9 492.9,34.1 491.9,34.3 491.4,34.4 489.9,34.6 488.9,34.8 488.6,34.8 485.9,35 485.8,35 484.9,35 483,35 482.9,35 480.2,36.1 479.9,36.1 477.4,35.5 475.9,34.7 474.6,33.9 473.9,33.7 471.9,32.9 471.7,32.9 468.9,32.2 467.9,32 466.1,32.5 464,33.1 463.3,33.2 462,33.3 461,33 460.5,32.8 460,32.7 458,32.3 457.7,32.3 456,31.5 455,31.2 454.9,31.2 452.1,31.2 450,30.8 449.3,30.9 448.6,31 447.6,31.2 446.4,31.5 445.6,31.7 444.6,32 443.6,32.2 440.8,33.1 439.6,33.1 438,33.8 435.6,34.9 435.2,34.9 432.4,35.9 429.6,36.3 428.7,36.2 426.8,34.5 425.7,33.5 424,31.9 423.7,31.7 421.7,32.5 421.2,32.6 419.7,33.2 418.7,33.2 418.4,33.1 415.7,32.4 415.5,32.4 412.7,33 412.7,33 410.7,33 409.9,32.7 407.1,32.7 405.7,32 404.3,32.5 401.5,34 400.8,34.5 398.7,33.5 396.8,33 395.9,32.8 393.1,31.6 392.8,31.4 390.2,32.6 388.8,33.7 387.4,34.4 384.6,36 383.8,36.8 381.8,36.5 379,34.7 378.8,34.6 377.8,34 376.2,33.9 374.8,34.2 373.4,34.4 372.8,34.3 371.8,34 370.6,32.2 367.9,28.8 367.8,28.7 366.9,27.6 365,29.4 362.9,31.9 362.1,31.9 361.9,31.8 359.9,31.3 359.3,31.2 358.9,31.1 357.9,31.3 356.5,31.6 355.5,31.9 354.9,32.1 353.7,32.9 352.9,33.5 350.9,34.9 348.9,36.1 348.1,35.5 347.9,35.4 345.3,33.5 343.9,32.2 342.5,30.9 341.9,30.6 340.9,30.7 339.9,30.8 339.7,30.8 337.9,30.4 336.9,31.1 336.9,31.2 335,31.9 334.1,31 334,30.9 332,29.7 331.2,30.6 331,31 328.4,34.9 328,35.4 325.6,142.4 325.2,159 322.8,156.7 321.7,156 320,156.8 317.7,157.3 317.2,156.8 314.7,154 314.4,154.1 314.1,154.2 313.7,154.4 311.6,155.3 310.7,155.5 309.7,155.8 308.8,156.1 307.7,156.1 305.9,157.4 303.7,159.9 303.1,160.6 301.7,162.1 300.3,163.6 297.7,166.3 297.5,166.3 294.7,166 291.9,165.6 291.8,165.5 289.8,165 289.1,164.6 286.3,163.6 285.8,163.4 283.5,162.3 281.8,161.8 280.7,162.4 279.8,163 277.9,164.3 277.8,164.3 275,162 272.2,159.7 269.8,158.2 269.4,158.3 266.6,159.3 263.8,159.2 261.8,159.7 261,159.8 259.9,160 258.2,160.1 255.4,160.5 253.9,160.6 252.6,160.7 249.9,161.4 249.8,161.5 246.9,161.1 245.9,161.2 244.1,161.4 241.3,161.7 239.9,161.8 238.5,161.9 235.7,162.7 232.9,162.7 230.1,163.1 229.9,163.2 227.3,163.1 224.5,162.6 221.7,162.5 220,161.8 218.8,159.6 217.6,157.7 216,158 216,158 213.2,157.5 212.6,157.1 210.4,157.3 207.6,159 207.6,159 204.8,157.2 204.7,157.1 203.7,156.4 202.7,156.9 202,157.3 199.2,159.9 198.7,160.1 197.7,159.5 196.7,158.8 196.4,158.9 195.7,159.2 193.6,160.3 192.7,160.6 190.7,160.7 187.9,161.1 187.7,161.1 185.1,161.4 183.7,161.9 182.7,160.5 182.3,160 181.1,158.1 180.7,158.4 179.5,159.5 177.7,160.9 176.7,161 175.7,161.3 173.9,161.9 172.8,162 171.1,161.5 168.3,161.1 167.8,161.1 165.4,161.2 162.8,160.8 162.6,160.8 159.8,160 157.8,160.2 157,160.3 156.8,160.3 154.2,159.7 152.8,158.9 151.8,158.6 151.4,158.5 148.6,158.8 147.8,158.8 145.8,158.4 145.8,158.4 143,157.4 142.8,157.5 140.2,157.1 137.8,155.8 137.3,155.5 134.5,155.4 133.9,155.1 132.9,154.7 131.7,154.6 128.9,155 127.9,154.9 126.1,153.7 125.3,153.3 124.9,153.2 123.3,153.9 122.9,154.1 121.9,154.6 120.5,155.2 119.9,155.4 117.9,156 117.7,156.1 115.9,156.8 114.9,157.3 114.9,157.2 112.9,155.3 112.3,154.7 112.1,154.4 111.9,154.2 109.2,155.3 107.9,155.9 106.4,156.1 104,157.2 103.6,157.3 103,157.2 101,157 100.8,157 100,157.2 98,157.6 98,157.6 96,158 95.2,158.2 93,158.8 92.4,174.8 89.8,244.1 89.6,244.1 87,243.7 86.8,243.7 86,243.8 84,244.2 84,244.2 83,244.2 82,244.2 81.2,244.2 80,244.3 79,244.4 78.3,244.5 78,244.6 76,244.9 75.5,245 75,245.1 74,245.3 72.7,245.6 72,245.9 71,245.9 69.9,245.8 69,245.7 68,245.5 67.1,245.3 67,245.3 66,245.2 65,245.1 64.3,245.1 64,245 63,245 62,245 61.5,245 60,244.9 59,244.7 58.7,244.7 57,244.6 56,244.5 55.9,244.5 53,244 53,244 52,243.7 50.2,243.7 50,243.7 49,243.8 47.4,244.4 46,245.1 45,245.6 44.6,245.5 43,244.8 42,244.4 41.8,244.4 39,243.6"/>
<polygon fill="#000080" points="39,235.3 41.8,235.3 42,235.3 43,235.3 44.6,235.3 45,235.3 46,235.3 47.4,235.3 49,235.3 50,235.3 50.2,235.3 52,235.3 53,235.3 53,235.3 55.9,235.3 56,235.3 57,235.3 58.7,235.3 59,235.3 60,235.3 61.5,235.3 62,235.3 63,235.3 64,235.3 64.3,235.3 65,235.3 66,235.3 67,235.3 67.1,235.3 68,235.3 69,235.3 69.9,235.3 71,235.3 72,235.3 72.7,235.3 74,235.3 75,235.3 75.5,235.3 76,235.3 78,235.3 78.3,235.3 79,235.3 80,235.3 81.2,235.3 82,235.3 83,235.3 84,235.3 84,235.3 86,235.3 86.8,235.3 87,235.3 89.6,235.3 89.8,235.3 92.4,164.8 93,148.6 95.2,148.6 96,148.6 98,148.6 98,148.6 100,148.6 100.8,148.6 101,148.6 103,148.6 103.6,148.6 104,148.6 106.4,148.6 107.9,148.6 109.2,148.6 111.9,148.6 112.1,148.6 112.3,148.6 112.9,148.6 114.9,148.6 114.9,148.6 115.9,148.6 117.7,148.6 117.9,148.6 119.9,148.6 120.5,148.6 121.9,148.6 122.9,148.6 123.3,148.6 124.9,148.6 125.3,148.6 126.1,148.6 127.9,148.6 128.9,148.6 131.7,148.6 132.9,148.6 133.9,148.6 134.5,148.6 137.3,148.6 137.8,148.6 140.2,148.6 142.8,148.6 143,148.6 145.8,148.6 145.8,148.6 147.8,148.6 148.6,148.6 151.4,148.6 151.8,148.6 152.8,148.6 154.2,148.6 156.8,148.6 157,148.6 157.8,148.6 159.8,148.6 162.6,148.6 162.8,148.6 165.4,148.6 167.8,148.6 168.3,148.6 171.1,148.6 172.8,148.6 173.9,148.6 175.7,148.6 176.7,148.6 177.7,148.6 179.5,148.6 180.7,148.6 181.1,148.6 182.3,148.6 182.7,148.6 183.7,148.6 185.1,148.6 187.7,148.6 187.9,148.6 190.7,148.6 192.7,148.6 193.6,148.6 195.7,148.6 196.4,148.6 196.7,148.6 197.7,148.6 198.7,148.6 199.2,148.6 202,148.6 202.7,148.6 203.7,148.6 204.7,148.6 204.8,148.6 207.6,148.6 207.6,148.6 210.4,148.6 212.6,148.6 213.2,148.6 216,148.6 216,148.6 217.6,148.6 218.8,148.6 220,148.6 221.7,148.6 224.5,148.6 227.3,148.6 229.9,148.6 230.1,148.6 232.9,148.6 235.7,148.6 238.5,148.6 239.9,148.6 241.3,148.6 244.1,148.6 245.9,148.6 246.9,148.6 249.8,148.6 249.9,148.6 252.6,148.6 253.9,148.6 255.4,148.6 258.2,148.6 259.9,148.6 261,148.6 261.8,148.6 263.8,148.6 266.6,148.6 269.4,148.6 269.8,148.6 272.2,148.6 275,148.6 277.8,148.6 277.9,148.6 279.8,148.6 280.7,148.6 281.8,148.6 283.5,148.6 285.8,148.6 286.3,148.6 289.1,148.6 289.8,148.6 291.8,148.6 291.9,148.6 294.7,148.6 297.5,148.6 297.7,148.6 300.3,148.6 301.7,148.6 303.1,148.6 303.7,148.6 305.9,148.6 307.7,148.6 308.8,148.6 309.7,148.6 310.7,148.6 311.6,148.6 313.7,148.6 314.1,148.6 314.4,148.6 314.7,148.6 317.2,148.6 317.7,148.6 320,148.6 321.7,148.6 322.8,148.6 325.2,148.6 325.6,131.7 328,23.5 328.4,23.5 331,23.5 331.2,23.5 332,23.5 334,23.5 334.1,23.5 335,23.5 336.9,23.5 336.9,23.5 337.9,23.5 339.7,23.5 339.9,23.5 340.9,23.5 341.9,23.5 342.5,23.5 343.9,23.5 345.3,23.5 347.9,23.5 348.1,23.5 348.9,23.5 350.9,23.5 352.9,23.5 353.7,23.5 354.9,23.5 355.5,23.5 356.5,23.5 357.9,23.5 358.9,23.5 359.3,23.5 359.9,23.5 361.9,23.5 362.1,23.5 362.9,23.5 365,23.5 366.9,23.5 367.8,23.5 367.9,23.5 370.6,23.5 371.8,23.5 372.8,23.5 373.4,23.5 374.8,23.5 376.2,23.5 377.8,23.5 378.8,23.5 379,23.5 381.8,23.5 383.8,23.5 384.6,23.5 387.4,23.5 388.8,23.5 390.2,23.5 392.8,23.5 393.1,23.5 395.9,23.5 396.8,23.5 398.7,23.5 400.8,23.5 401.5,23.5 404.3,23.5 405.7,23.5 407.1,23.5 409.9,23.5 410.7,23.5 412.7,23.5 412.7,23.5 415.5,23.5 415.7,23.5 418.4,23.5 418.7,23.5 419.7,23.5 421.2,23.5 421.7,23.5 423.7,23.5 424,23.5 425.7,23.5 426.8,23.5 428.7,23.5 429.6,23.5 432.4,23.5 435.2,23.5 435.6,23.5 438,23.5 439.6,23.5 440.8,23.5 443.6,23.5 444.6,23.5 445.6,23.5 446.4,23.5 447.6,23.5 448.6,23.5 449.3,23.5 450,23.5 452.1,23.5 454.9,23.5 455,23.5 456,23.5 457.7,23.5 458,23.5 460,23.5 460.5,23.5 461,23.5 462,23.5 463.3,23.5 464,23.5 466.1,23.5 467.9,23.5 468.9,23.5 471.7,23.5 471.9,23.5 473.9,23.5 474.6,23.5 475.9,23.5 477.4,23.5 479.9,23.5 480.2,23.5 482.9,23.5 483,23.5 484.9,23.5 485.8,23.5 485.9,23.5 488.6,23.5 488.9,23.5 489.9,23.5 491.4,23.5 491.9,23.5 492.9,23.5 494.2,23.5 495.9,23.5 497,23.5 497.9,23.5 498.9,23.5 499.8,23.5 501.8,23.5 502.6,23.5 502.8,23.5 504.2,23.5 505.5,23.5 507.8,23.5 508.3,23.5 508.8,23.5 511.1,23.5 512.8,23.5 513.8,23.5 513.9,23.5 516.7,23.5 517.8,23.5 518.8,23.5 519.5,23.5 520.8,23.5 522.3,23.5 522.8,23.5 523.8,23.5 525.1,23.5 525.8,23.5 527.8,23.5 527.9,23.5 528.8,23.5 530.8,23.5 533.4,23.5 533.6,23.5 533.8,23.5 534.8,23.5 536.4,23.5 536.7,23.5 539.2,23.5 539.7,23.5 540.7,23.5 542,23.5 543.7,23.5 544.8,23.5 545.7,23.5 547.6,23.5 547.7,23.5 548.7,23.5 550.4,23.5 550.7,23.5 551.7,23.5 552.7,23.5 553.2,23.5 553.7,23.5 554.7,23.5 555.7,23.5 556,23.5 558.9,23.5 559.7,23.5 560.7,23.5 561.7,23.5 564.5,23.5 564.7,23.5 566.6,23.5 567.3,23.5 569.6,23.5 570.1,23.5 571.6,23.5 572.6,23.5 572.9,23.5 574.6,23.5 575.6,23.5 575.7,23.5 577.6,23.5 578.5,23.5 580,23.5 581.3,23.5 584,23.5 584.1,23.5 585,23.5 587,23.5 587,23.5 588,23.5 589.8,23.5 590,23.5 592,23.5 592.6,23.5 594,23.5 595.4,23.5 596,23.5 597,23.5 598,23.5 598.2,23.5 599.9,23.5 601,23.5 601.9,23.5 603.8,23.5 603.9,23.5 605.9,23.5 606.6,23.5 606.9,23.5 609.4,23.5 609.9,23.5 610.9,23.5 612.2,23.5 614.9,23.5 615,23.5 615.9,23.5 616.9,23.5 617.9,23.5 619.9,23.5 620.7,23.5 620.9,23.5 621.9,23.5 623.5,23.5 624.9,23.5 626.3,23.5 626.9,23.5 628.9,23.5 629.1,23.5 629.9,23.5 630.9,23.5 631.5,23.5 631.9,23.5 633.8,23.5 634.7,23.5 634.8,23.5 636.2,23.5 636.8,23.5 637.5,23.5 637.8,23.5 638.8,23.5 639.8,23.5 640.3,23.5 641.8,23.5 643.1,23.5 644.8,23.5 645.8,23.5 646,23.5 648.8,23.5 649.8,23.5 651.6,23.5 653.8,23.5 654.4,23.5 654.8,23.5 656.8,23.5 657.2,23.5 658.8,23.5 659.8,23.5 660,23.5 661.8,23.5 662.8,23.5 662.8,23.5 664.8,23.5 665.6,23.5 665.7,23.5 667.7,23.5 668.4,23.5 669.7,23.5 671.2,23.5 671.7,23.5 674.1,23.5 674.7,23.5 675.7,23.5 676.7,23.5 676.9,23.5 678.7,23.5 679.7,23.5 679.7,23.5 682.5,23.5 683.7,23.5 684.7,23.5 685.3,23.5 685.7,23.5 688.1,23.5 688.7,23.5 689.7,23.5 690.7,23.5 690.9,23.5 691.7,23.5 693.7,23.5 693.7,23.5 694.7,23.5 696.5,23.5 696.6,23.5 697.6,23.5 699.4,23.5 699.6,23.5 701.6,23.5 702.2,23.5 702.6,23.5 704,23.5 704.5,24.4 705,24.5 705.2,24.5 705.6,24.5 707.2,24.4 707.8,25.1 707.8,25.1 708.5,25.1 709.3,25.1 710.1,25.1 710.3,25.1 710.5,25.1 710.6,25.1 711.1,25.1 712.2,25.1 713.1,25.1 713.4,25.1 713.8,25.1 714,25.1 715,25.1 715.4,25.1 715.9,25.1 716.2,25.1 716.8,25.1 717.8,25.1 718.4,25.1 718.7,25.1 719,25.1 721.2,25.1 721.5,25.1 721.8,25.1 722.5,25.1 723,25.1 723.4,25.1 724.3,25.1 724.6,25.1 724.8,25.1 726.2,25.1 726.7,25.1 727.1,25.1 727.5,25.1 727.6,25.1 728,25.1 728.1,25.1 729.9,25.1 730,25.1 730.3,25.1 730.4,25.1 730.9,25.1 731.8,25.1 732.2,25.1 732.7,25.1 733.1,25.1 733.2,25.1 734,25.1 734.1,25.1 734.6,25.1 735.5,25.1 735.6,25.1 735.9,25.1 737,25.1 737.8,25.1 738.7,25.1 738.8,25.1 739,25.1 740.5,25.1 741,25.1 741.1,25.1 741.5,25.1 741.6,25.1 742,25.1 742.5,25.1 742.9,25.1 743.4,25.1 743.5,25.1 744,25.1 744.3,25.1 744.5,25.1 744.8,25.1 745.4,25.1 746,25.1 746.2,25.1 746.3,25.1 746.5,25.1 747,25.1 747.1,25.1 748,25.1 748.5,25.1 749,25.1 749.9,25.1 750,25.1 750.6,25.1 751.1,25.1 751.5,25.1 752.3,25.1 752.5,25.1 752.7,25.1 754.5,25.1 754.7,25.1 755.2,25.1 755.5,25.1 756,25.1 756.6,23.5 757,23.5 757.8,23.5 758,23.5 758.4,23.5 758.9,23.5 759,23.5 759.8,23.5 761.2,23.5 761.7,23.5 763.5,23.5 764,23.5 764.4,23.5 764.5,23.5 766.3,23.5 766.7,23.5 766.8,23.5 767.2,23.5 768.1,23.5 769.6,23.5 770.9,23.5 771.2,23.5 772.4,23.5 772.7,23.5 773.4,23.5 774.5,23.5 775.2,23.5 775.5,23.5 775.6,23.5 775.8,23.5 777,23.5 777.8,23.5 778,23.5 778,23.5 779,23.5 780,23.5 780.5,23.5 780.8,23.5 781,23.5 781.2,23.5 782,23.5 782.6,23.5 783,23.5 783.4,23.5 783.6,23.5 783.6,23.5 784,23.5 784.6,23.5 785,23.5 785.6,23.5 786.4,23.5 786.5,23.5 786.7,23.5 786.8,23.5 789,23.5 789.2,23.5 789.3,23.5 791.5,23.5 792,23.5 792.1,23.5 792.4,23.5 793.4,23.5 793.8,23.5 794.9,23.5 795.2,23.5 795.6,23.5 795.7,23.5 796.2,23.5 796.7,23.5 797.1,23.5 797.5,23.5 797.7,23.5 797.8,23.5 798,23.5 798.5,23.5 799,23.5 799.5,23.5 800.4,23.5 800.5,23.5 802,23.5 802.3,23.5 803.3,23.5 803.5,23.5 804,23.5 804.1,23.5 804.5,23.5 805,23.5 805.1,23.5 806.1,23.5 806.7,23.5 807,23.5 807.8,23.5 807.9,23.5 808,23.5 808.8,23.5 808.9,23.5 809,23.5 809.3,23.5 809.7,23.5 810.1,23.5 810.7,23.5 811,23.5 811.1,23.5 811.2,23.5 811.6,23.5 811.8,23.5 812.1,23.5 813.5,23.5 814,23.5 814.4,23.5 814.6,23.5 815,23.5 815.5,23.5 815.6,23.5 816.3,23.5 817.2,23.5 817.4,23.5 818.2,23.5 818.6,23.5 819,23.5 819.6,23.5 820,23.5 820.2,23.5 820.5,23.5 821,23.5 821.2,23.5 821.9,23.5 822.8,23.5 823,23.5 823,23.5 824.5,23.5 824.7,23.5 825,23.5 825.6,23.5 825.8,23.5 826.5,23.5 827.9,23.5 828,23.5 828.5,23.5 828.6,23.5 830,23.5 831,23.5 831.2,23.5 831.4,23.5 832,23.5 833,23.5 833.4,23.5 834,23.5 834.2,23.5 834.5,23.5 835,23.5 835.5,23.5 835.6,23.5 836,23.5 836.8,23.5 837,23.5 838,23.5 839,23.5 839.9,23.5 841.5,23.5 842.3,23.5 842.5,23.5 842.7,23.5 843.5,23.5 844,23.5 844.5,23.5 845,23.5 845.5,23.5 846,23.5 846.5,23.5 847.5,23.5 848.3,23.5 848.5,23.5 850,23.5 851.1,23.5 851.3,23.5 851.3,33 851.1,33 850,33 848.5,33 848.3,38.9 847.5,60 846.5,86.7 846,100 845.5,95.8 845,92 844.5,88 844,84 843.5,80 842.7,46.4 842.5,40 842.3,37.6 841.5,28 839.9,28.9 839,29.4 838,30 837,30.8 836.8,31 836,31.6 835.6,31.9 835.5,32 835,36 834.5,40 834.2,45.4 834,50 833.4,62 833,70 832,77 831.4,81.1 831.2,82.6 831,84 830,84 828.6,84 828.5,84 828,84 827.9,84.4 826.5,89.8 825.8,92.5 825.6,93.3 825,95.6 824.7,94.8 824.5,94.2 823,90 823,89.7 822.8,84.9 821.9,62 821.2,55 821,53 820.5,48 820.2,43.7 820,41.3 819.6,36 819,30.9 818.6,27.5 818.2,27.2 817.4,26.7 817.2,26.6 816.3,26 815.6,26.6 815.5,26.7 815,27.1 814.6,27.5 814.4,27.6 814,28 813.5,28.4 812.1,31.5 811.8,32.3 811.6,32.6 811.2,32.1 811.1,32 811,31.9 810.7,31.5 810.1,30.8 809.7,30.3 809.3,34 809,36.8 808.9,37.4 808.8,38.7 808,51.1 807.9,52.7 807.8,55 807,73 806.7,73 806.1,73 805.1,73 805,73 804.5,68.7 804.1,65.2 804,64.3 803.5,60 803.3,56.1 802.3,34 802,27.5 800.5,27.5 800.4,27.5 799.5,40 799,53.3 798.5,66.7 798,80 797.8,77.5 797.7,76.2 797.5,73.7 797.1,68.6 796.7,63.6 796.2,57.4 795.7,50.8 795.6,49.5 795.2,44.3 794.9,43.1 793.8,38.7 793.4,37.7 792.4,35 792.1,34.2 792,34 791.5,33.2 789.3,29.5 789.2,29.4 789,29.2 786.8,26.9 786.7,26.8 786.5,26.6 786.4,26.5 785.6,26 785,25.6 784.6,25.4 784,25 783.6,25.9 783.6,26 783.4,26.5 783,27.5 782.6,28.5 782,30 781.2,35.4 781,36.7 780.8,37.8 780.5,40 780,43.4 779,43.3 778,43.1 778,43.1 777.8,43.1 777,43 775.8,25.5 775.6,26.3 775.5,26.8 775.2,28 774.5,31 773.4,38.9 772.7,44 772.4,46.9 771.2,59 770.9,62 769.6,75 768.1,90 767.2,91.8 766.8,92.6 766.7,92.8 766.3,93.6 764.5,91.3 764.4,91.2 764,90.6 763.5,90 761.7,80.7 761.2,76.6 759.8,66 759,55.3 758.9,54 758.4,46.8 758,42 757.8,41.3 757,38.4 756.6,36.9 756,34.7 755.5,34.6 755.2,34.5 754.7,34.4 754.5,34.3 752.7,33.9 752.5,33.8 752.3,34.3 751.5,36.3 751.1,37.3 750.6,38.5 750,40 749.9,40.6 749,48.4 748.5,52.6 748,56.8 747.1,46.9 747,45.6 746.5,40 746.3,38.1 746.2,37.1 746,35.2 745.4,29.4 744.8,31.8 744.5,33 744.3,33.8 744,35 743.5,43.3 743.4,45 742.9,53.3 742.5,60 742,66.7 741.6,72 741.5,73.3 741.1,78.7 741,80 740.5,81 739,84 738.8,84 738.7,84 737.8,84 737,84 735.9,75.3 735.6,73.2 735.5,72.4 734.6,58.6 734.1,51 734,50.2 733.2,43.7 733.1,42.6 732.7,39.6 732.2,38.4 731.8,37.5 730.9,35.4 730.4,34.7 730.3,34.6 730,34.2 729.9,34.1 728.1,31.7 728,31.7 727.6,31.7 727.5,31.7 727.1,31.7 726.7,31.7 726.2,31.7 724.8,33.8 724.6,34 724.3,34.6 723.4,35.9 723,34.8 722.5,33.5 721.8,31.7 721.5,30.8 721.2,30.9 719,31.6 718.7,31.7 718.4,31.8 717.8,32.1 716.8,32.5 716.2,32.8 715.9,32.9 715.4,33.1 715,33.7 714,35.1 713.8,35.4 713.4,36 713.1,36.4 712.2,36.1 711.1,35.7 710.6,35.5 710.5,35.5 710.3,35.4 710.1,34.7 709.3,32.1 708.5,29.4 707.8,26.7 707.8,26.6 707.2,24.4 705.6,24.5 705.2,24.5 705,24.5 704.5,24.4 704,24.3 702.6,24 702.2,23.9 701.6,24.1 699.6,24.5 699.4,24.5 697.6,24.7 696.6,24.7 696.5,24.7 694.7,24.1 693.7,23.8 693.7,23.8 691.7,23.8 690.9,23.8 690.7,23.8 689.7,23.8 688.7,23.8 688.1,23.8 685.7,23.9 685.3,23.9 684.7,23.9 683.7,24 682.5,24 679.7,24.6 679.7,24.6 678.7,24.3 676.9,23.8 676.7,23.8 675.7,24 674.7,24.2 674.1,24.3 671.7,24 671.2,24 669.7,24.4 668.4,24.7 667.7,24.7 665.7,24.4 665.6,24.4 664.8,24.3 662.8,23.9 662.8,23.9 661.8,23.8 660,23.7 659.8,23.7 658.8,23.7 657.2,23.6 656.8,23.6 654.8,23.5 654.4,23.5 653.8,23.6 651.6,24.2 649.8,24.5 648.8,24.6 646,24.4 645.8,24.4 644.8,24.2 643.1,23.8 641.8,24.1 640.3,24.4 639.8,24.3 638.8,24 637.8,23.7 637.5,23.6 636.8,23.7 636.2,23.7 634.8,23.8 634.7,23.9 633.8,23.9 631.9,23.9 631.5,23.8 630.9,23.8 629.9,23.6 629.1,23.5 628.9,23.6 626.9,23.9 626.3,23.9 624.9,23.8 623.5,23.7 621.9,23.8 620.9,23.8 620.7,23.8 619.9,23.8 617.9,23.7 616.9,23.9 615.9,24 615,24.2 614.9,24.1 612.2,23.8 610.9,24.2 609.9,24.6 609.4,24.7 606.9,24 606.6,24 605.9,24.1 603.9,24.6 603.8,24.6 601.9,24.6 601,24.6 599.9,24.9 598.2,25.4 598,25.3 597,25.1 596,24.8 595.4,24.7 594,25 592.6,25.3 592,25.3 590,25.4 589.8,25.4 588,25.4 587,25.4 587,25.4 585,25.9 584.1,26.2 584,26.2 581.3,26 580,26.2 578.5,26.3 577.6,26.5 575.7,27.1 575.6,27.1 574.6,26.9 572.9,26.6 572.6,26.5 571.6,26.3 570.1,26 569.6,26 567.3,26.1 566.6,26.1 564.7,25.9 564.5,25.9 561.7,27 560.7,26.9 559.7,26.8 558.9,26.8 556,27.9 555.7,27.9 554.7,27.9 553.7,28 553.2,27.9 552.7,28 551.7,28.1 550.7,28.2 550.4,28.2 548.7,28.4 547.7,28.5 547.6,28.5 545.7,28.8 544.8,29 543.7,28.9 542,28.7 540.7,28.9 539.7,28.5 539.2,28.2 536.7,27 536.4,26.8 534.8,26.3 533.8,26.5 533.6,26.5 533.4,26.5 530.8,26 528.8,26.2 527.9,26.5 527.8,26.6 525.8,26.9 525.1,27.1 523.8,26.9 522.8,26.8 522.3,26.8 520.8,27.5 519.5,28.1 518.8,28 517.8,28 516.7,28 513.9,29.5 513.8,29.5 512.8,29.3 511.1,29 508.8,28.6 508.3,28.5 507.8,28.4 505.5,27.6 504.2,27.2 502.8,26.6 502.6,26.6 501.8,26.4 499.8,26.1 498.9,25.9 497.9,25.8 497,26.1 495.9,26.4 494.2,26.9 492.9,27.6 491.9,28 491.4,28.1 489.9,28.2 488.9,28.2 488.6,28.2 485.9,28.4 485.8,28.4 484.9,28.5 483,28.6 482.9,28.6 480.2,29 479.9,29 477.4,27.4 475.9,26.7 474.6,26.1 473.9,25.7 471.9,25.7 471.7,25.7 468.9,26.8 467.9,26.6 466.1,26.3 464,26.9 463.3,27.1 462,26.9 461,26.6 460.5,26.4 460,26.5 458,26.7 457.7,26.7 456,26.3 455,26.1 454.9,26 452.1,26.1 450,26.3 449.3,26.4 448.6,26.3 447.6,26 446.4,25.8 445.6,25.8 444.6,26.1 443.6,26.4 440.8,27 439.6,27.2 438,27.4 435.6,27.6 435.2,27.6 432.4,28.7 429.6,28.4 428.7,28.6 426.8,28.1 425.7,27.8 424,27.4 423.7,27.4 421.7,27.7 421.2,27.8 419.7,27.2 418.7,26.9 418.4,26.8 415.7,27.1 415.5,27.1 412.7,26.2 412.7,26.2 410.7,26.4 409.9,26.5 407.1,26.3 405.7,26.2 404.3,26.7 401.5,28 400.8,28.2 398.7,27.3 396.8,27.2 395.9,27.2 393.1,25.9 392.8,25.8 390.2,26.3 388.8,26.8 387.4,27.3 384.6,28.2 383.8,28.6 381.8,28.6 379,28.4 378.8,28.4 377.8,28.1 376.2,27.6 374.8,27.5 373.4,27.4 372.8,27.3 371.8,27.1 370.6,26.5 367.9,24.9 367.8,24.9 366.9,24.7 365,25.3 362.9,25.2 362.1,25.2 361.9,25.3 359.9,26 359.3,26.2 358.9,26.2 357.9,26.1 356.5,26 355.5,26.4 354.9,26.6 353.7,27.2 352.9,27.1 350.9,26.9 348.9,27.9 348.1,28 347.9,27.9 345.3,27.4 343.9,27.1 342.5,26.7 341.9,26.5 340.9,26.1 339.9,25.7 339.7,25.6 337.9,25.5 336.9,25.6 336.9,25.6 335,25.5 334.1,25.4 334,25.4 332,24.7 331.2,25.1 331,25.4 328.4,28.1 328,28.4 325.6,135.6 325.2,152.2 322.8,151.6 321.7,151.8 320,152 317.7,151.7 317.2,151.7 314.7,151.4 314.4,151.4 314.1,151.4 313.7,151.5 311.6,151.7 310.7,151.6 309.7,151.6 308.8,151.5 307.7,151.6 305.9,152.2 303.7,153 303.1,153.2 301.7,153.8 300.3,154.7 297.7,155.8 297.5,155.8 294.7,155.8 291.9,154.7 291.8,154.7 289.8,155.3 289.1,155.4 286.3,154.3 285.8,154.2 283.5,153.4 281.8,153.4 280.7,153.4 279.8,153.1 277.9,152.5 277.8,152.5 275,152.3 272.2,151.7 269.8,152 269.4,152.1 266.6,152.1 263.8,151.5 261.8,151.8 261,151.9 259.9,152.1 258.2,152.4 255.4,152 253.9,152.4 252.6,152.7 249.9,152.4 249.8,152.3 246.9,152.4 245.9,152.6 244.1,152.9 241.3,152.3 239.9,152.5 238.5,152.7 235.7,152.4 232.9,152.6 230.1,153.3 229.9,153.3 227.3,153 224.5,153.2 221.7,152.7 220,152.7 218.8,152.2 217.6,151.6 216,151.4 216,151.4 213.2,151.4 212.6,151.4 210.4,151.3 207.6,151.5 207.6,151.5 204.8,151.4 204.7,151.5 203.7,151.8 202.7,152 202,152.2 199.2,152.3 198.7,152.3 197.7,152.3 196.7,152.3 196.4,152.3 195.7,152.5 193.6,153 192.7,152.8 190.7,152.3 187.9,152.7 187.7,152.8 185.1,153.1 183.7,152.8 182.7,152.7 182.3,152.6 181.1,152.3 180.7,152.4 179.5,152.6 177.7,153.3 176.7,153.7 175.7,153.6 173.9,152.9 172.8,153 171.1,153 168.3,152.8 167.8,152.7 165.4,152.5 162.8,152.9 162.6,152.9 159.8,152.6 157.8,152.8 157,152.9 156.8,152.9 154.2,152.9 152.8,152.8 151.8,152.8 151.4,152.8 148.6,152.3 147.8,152.5 145.8,152.8 145.8,152.8 143,152.2 142.8,152.2 140.2,151.9 137.8,152.2 137.3,152.3 134.5,151.2 133.9,151.2 132.9,151.1 131.7,151 128.9,150.8 127.9,150.8 126.1,151 125.3,151.1 124.9,151.1 123.3,151.6 122.9,151.6 121.9,151.7 120.5,151.9 119.9,151.8 117.9,151.4 117.7,151.3 115.9,151.5 114.9,151.5 114.9,151.4 112.9,151.7 112.3,151.8 112.1,151.8 111.9,151.8 109.2,151.9 107.9,151.7 106.4,151.8 104,151.8 103.6,151.9 103,151.9 101,152.1 100.8,152.1 100,152 98,151.8 98,151.8 96,152.2 95.2,152.4 93,152.8 92.4,169 89.8,239.5 89.6,239.5 87,239.8 86.8,239.8 86,239.9 84,240.4 84,240.4 83,240.6 82,240.8 81.2,240.5 80,240.1 79,239.8 78.3,239.5 78,239.4 76,239.8 75.5,239.9 75,239.9 74,240.1 72.7,240.2 72,240.5 71,240.8 69.9,240.8 69,240.7 68,240.6 67.1,240.5 67,240.5 66,240.3 65,240.1 64.3,239.9 64,239.8 63,239.6 62,239.8 61.5,239.9 60,240.2 59,240 58.7,240 57,239.9 56,239.8 55.9,239.8 53,239.1 53,239.1 52,239 50.2,238.8 50,238.8 49,238.6 47.4,239 46,239.6 45,239.5 44.6,239.5 43,239.6 42,239.4 41.8,239.4 39,238.7"/>
</g>
<path d="M738.5,32V130M740.5,48V125M739.5,75V122M746.5,108V136M778.5,30V165M780.5,45V150M783.5,50V120M798.5,40V100M799.5,40V98M804.5,45V120M808.5,55V135M822.5,62V140M828.5,30V170M830.5,58V125M832.5,58V125M834.5,40V122M843.5,30V136M846.5,40V115" stroke="#000" stroke-width="1" fill="none"/>
<line x1="37.5" y1="22.5" x2="37.5" y2="273.5" stroke="#000" stroke-width="1"/>
<line x1="37.5" y1="273.5" x2="851.5" y2="273.5" stroke="#000" stroke-width="1"/>
<path d="M37.5,273.5v-3M51.5,273.5v-3M65.6,273.5v-3M79.6,273.5v-3M93.7,273.5v-3M107.7,273.5v-3M121.8,273.5v-3M135.8,273.5v-3M149.9,273.5v-3M164,273.5v-3M178,273.5v-3M192.1,273.5v-3M206.1,273.5v-3M220.2,273.5v-3M234.2,273.5v-3M248.3,273.5v-3M262.3,273.5v-3M276.4,273.5v-3M290.4,273.5v-3M304.5,273.5v-3M318.5,273.5v-3M332.6,273.5v-3M346.6,273.5v-3M360.7,273.5v-3M374.7,273.5v-3M388.8,273.5v-3M402.8,273.5v-3M416.9,273.5v-3M430.9,273.5v-3M445,273.5v-3M459,273.5v-3M473.1,273.5v-3M487.1,273.5v-3M501.2,273.5v-3M515.2,273.5v-3M529.3,273.5v-3M543.3,273.5v-3M557.4,273.5v-3M571.4,273.5v-3M585.5,273.5v-3M599.5,273.5v-3M613.5,273.5v-3M627.6,273.5v-3M641.6,273.5v-3M655.7,273.5v-3M669.7,273.5v-3M683.8,273.5v-3M697.8,273.5v-3M711.9,273.5v-3M725.9,273.5v-3M740,273.5v-3M754,273.5v-3M768.1,273.5v-3M782.1,273.5v-3M796.2,273.5v-3M810.2,273.5v-3M824.3,273.5v-3M838.3,273.5v-3" stroke="#000" stroke-width="1" fill="none"/>
<text x="28.2" y="26.1" text-anchor="end" font-size="10">2000</text>
<text x="28.2" y="88.6" text-anchor="end" font-size="10">1500</text>
<text x="28.2" y="151.6" text-anchor="end" font-size="10">1000</text>
<text x="28.2" y="214.1" text-anchor="end" font-size="10">500</text>
<text x="28.2" y="277.1" text-anchor="end" font-size="10">0</text>
<text transform="translate(42.8,336.1) rotate(-90)" font-size="12.6" textLength="49.2" lengthAdjust="spacingAndGlyphs">20061004</text>
<text transform="translate(70.9,336.1) rotate(-90)" font-size="12.6" textLength="49.2" lengthAdjust="spacingAndGlyphs">20061019</text>
<text transform="translate(98.9,336.1) rotate(-90)" font-size="12.6" textLength="49.2" lengthAdjust="spacingAndGlyphs">20061102</text>
<text transform="translate(127,336.1) rotate(-90)" font-size="12.6" textLength="49.2" lengthAdjust="spacingAndGlyphs">20061117</text>
<text transform="translate(155.1,336.1) rotate(-90)" font-size="12.6" textLength="49.2" lengthAdjust="spacingAndGlyphs">20061204</text>
<text transform="translate(183.1,336.1) rotate(-90)" font-size="12.6" textLength="49.2" lengthAdjust="spacingAndGlyphs">20061218</text>
<text transform="translate(211.2,336.1) rotate(-90)" font-size="12.6" textLength="49.2" lengthAdjust="spacingAndGlyphs">20070109</text>
<text transform="translate(239.3,336.1) rotate(-90)" font-size="12.6" textLength="49.2" lengthAdjust="spacingAndGlyphs">20070123</text>
<text transform="translate(267.4,336.1) rotate(-90)" font-size="12.6" textLength="49.2" lengthAdjust="spacingAndGlyphs">20070206</text>
<text transform="translate(295.4,336.1) rotate(-90)" font-size="12.6" textLength="49.2" lengthAdjust="spacingAndGlyphs">20070221</text>
<text transform="translate(323.5,336.1) rotate(-90)" font-size="12.6" textLength="49.2" lengthAdjust="spacingAndGlyphs">20070307</text>
<text transform="translate(351.6,336.1) rotate(-90)" font-size="12.6" textLength="49.2" lengthAdjust="spacingAndGlyphs">20070322</text>
<text transform="translate(379.6,336.1) rotate(-90)" font-size="12.6" textLength="49.2" lengthAdjust="spacingAndGlyphs">20070405</text>
<text transform="translate(407.7,336.1) rotate(-90)" font-size="12.6" textLength="49.2" lengthAdjust="spacingAndGlyphs">20070419</text>
<text transform="translate(435.8,336.1) rotate(-90)" font-size="12.6" textLength="49.2" lengthAdjust="spacingAndGlyphs">20070508</text>
<text transform="translate(463.9,336.1) rotate(-90)" font-size="12.6" textLength="49.2" lengthAdjust="spacingAndGlyphs">20070522</text>
<text transform="translate(491.9,336.1) rotate(-90)" font-size="12.6" textLength="49.2" lengthAdjust="spacingAndGlyphs">20070605</text>
<text transform="translate(520,336.1) rotate(-90)" font-size="12.6" textLength="49.2" lengthAdjust="spacingAndGlyphs">20070619</text>
<text transform="translate(548.1,336.1) rotate(-90)" font-size="12.6" textLength="49.2" lengthAdjust="spacingAndGlyphs">20070703</text>
<text transform="translate(576.1,336.1) rotate(-90)" font-size="12.6" textLength="49.2" lengthAdjust="spacingAndGlyphs">20070718</text>
<text transform="translate(604.2,336.1) rotate(-90)" font-size="12.6" textLength="49.2" lengthAdjust="spacingAndGlyphs">20070801</text>
<text transform="translate(632.3,336.1) rotate(-90)" font-size="12.6" textLength="49.2" lengthAdjust="spacingAndGlyphs">20070815</text>
<text transform="translate(660.3,336.1) rotate(-90)" font-size="12.6" textLength="49.2" lengthAdjust="spacingAndGlyphs">20070829</text>
<text transform="translate(688.4,336.1) rotate(-90)" font-size="12.6" textLength="49.2" lengthAdjust="spacingAndGlyphs">20070912</text>
<text transform="translate(716.5,336.1) rotate(-90)" font-size="12.6" textLength="49.2" lengthAdjust="spacingAndGlyphs">20070928</text>
<text transform="translate(744.5,336.1) rotate(-90)" font-size="12.6" textLength="49.2" lengthAdjust="spacingAndGlyphs">20071015</text>
<text transform="translate(772.6,336.1) rotate(-90)" font-size="12.6" textLength="49.2" lengthAdjust="spacingAndGlyphs">20071029</text>
<text transform="translate(800.7,336.1) rotate(-90)" font-size="12.6" textLength="49.2" lengthAdjust="spacingAndGlyphs">20071112</text>
<text transform="translate(828.8,336.1) rotate(-90)" font-size="12.6" textLength="49.2" lengthAdjust="spacingAndGlyphs">20071127</text>
<text x="72.9" y="19.3" font-size="13" textLength="163" lengthAdjust="spacingAndGlyphs">kabu.comPTS bid-ask spread</text>
<text x="239.4" y="19" font-size="14" textLength="95.4" lengthAdjust="spacingAndGlyphs">引けの注文状況</text>
<rect x="399.5" y="5.5" width="410" height="14" fill="#fff" stroke="#000" stroke-width="1"/>
<rect x="404.5" y="8.5" width="6" height="6" fill="#9999FF" stroke="#000" stroke-width="1"/>
<text x="412" y="14.7" font-size="11.3" textLength="40" lengthAdjust="spacingAndGlyphs">注文無し</text>
<rect x="459.5" y="8.5" width="6" height="6" fill="#993366" stroke="#000" stroke-width="1"/>
<text x="468.3" y="14.7" font-size="11.3" textLength="37.1" lengthAdjust="spacingAndGlyphs">売り無し</text>
<rect x="512.5" y="8.5" width="6" height="6" fill="#FFFFCC" stroke="#000" stroke-width="1"/>
<text x="521" y="14.7" font-size="11.3" textLength="38" lengthAdjust="spacingAndGlyphs">買い無し</text>
<rect x="567.5" y="8.5" width="6" height="6" fill="#CCFFFF" stroke="#000" stroke-width="1"/>
<text x="575.6" y="14.7" font-size="11.3" textLength="31.4" lengthAdjust="spacingAndGlyphs">5%以上</text>
<rect x="616.5" y="8.5" width="6" height="6" fill="#660066" stroke="#000" stroke-width="1"/>
<text x="624.3" y="14.7" font-size="11.3" textLength="20.2" lengthAdjust="spacingAndGlyphs">4%台</text>
<rect x="653.5" y="8.5" width="6" height="6" fill="#FF8080" stroke="#000" stroke-width="1"/>
<text x="661.7" y="14.7" font-size="11.3" textLength="20.3" lengthAdjust="spacingAndGlyphs">3%台</text>
<rect x="690.5" y="8.5" width="6" height="6" fill="#0066CC" stroke="#000" stroke-width="1"/>
<text x="699" y="14.7" font-size="11.3" textLength="19.3" lengthAdjust="spacingAndGlyphs">2%台</text>
<rect x="727.5" y="8.5" width="6" height="6" fill="#CCCCFF" stroke="#000" stroke-width="1"/>
<text x="735.5" y="14.7" font-size="11.3" textLength="19.5" lengthAdjust="spacingAndGlyphs">1%台</text>
<rect x="763.5" y="8.5" width="6" height="6" fill="#000080" stroke="#000" stroke-width="1"/>
<text x="772.2" y="14.7" font-size="11.3" textLength="32.8" lengthAdjust="spacingAndGlyphs">1%未満</text>
<rect x="5.5" y="346.5" width="846.0" height="301.0" fill="#fff" stroke="#000" stroke-width="1"/>
<rect x="35.5" y="370.5" width="816.0" height="222.0" fill="#C0C0C0"/>
<line x1="35.5" y1="370.5" x2="851.5" y2="370.5" stroke="#808080" stroke-width="1"/>
<line x1="35.0" y1="370.5" x2="38.0" y2="370.5" stroke="#000" stroke-width="1"/>
<line x1="35.5" y1="407.5" x2="851.5" y2="407.5" stroke="#000" stroke-width="1"/>
<line x1="35.5" y1="444.5" x2="851.5" y2="444.5" stroke="#000" stroke-width="1"/>
<line x1="35.5" y1="481.5" x2="851.5" y2="481.5" stroke="#000" stroke-width="1"/>
<line x1="35.5" y1="518.5" x2="851.5" y2="518.5" stroke="#000" stroke-width="1"/>
<line x1="35.5" y1="555.5" x2="851.5" y2="555.5" stroke="#000" stroke-width="1"/>
<line x1="35.5" y1="370.5" x2="35.5" y2="592.5" stroke="#000" stroke-width="1"/>
<line x1="35.5" y1="592.5" x2="851.5" y2="592.5" stroke="#000" stroke-width="1"/>
<line x1="851.5" y1="370.5" x2="851.5" y2="592.5" stroke="#000" stroke-width="1"/>
<path d="M35.5,592.0v-2.5M49,592.0v-2.5M62.5,592.0v-2.5M76,592.0v-2.5M89.6,592.0v-2.5M103.1,592.0v-2.5M116.6,592.0v-2.5M130.1,592.0v-2.5M143.6,592.0v-2.5M157.1,592.0v-2.5M170.6,592.0v-2.5M184.2,592.0v-2.5M197.7,592.0v-2.5M211.2,592.0v-2.5M224.7,592.0v-2.5M238.2,592.0v-2.5M251.7,592.0v-2.5M265.2,592.0v-2.5M278.8,592.0v-2.5M292.3,592.0v-2.5M305.8,592.0v-2.5M319.3,592.0v-2.5M332.8,592.0v-2.5M346.3,592.0v-2.5M359.8,592.0v-2.5M373.4,592.0v-2.5M386.9,592.0v-2.5M400.4,592.0v-2.5M413.9,592.0v-2.5M427.4,592.0v-2.5M440.9,592.0v-2.5M454.4,592.0v-2.5M467.9,592.0v-2.5M481.5,592.0v-2.5M495,592.0v-2.5M508.5,592.0v-2.5M522,592.0v-2.5M535.5,592.0v-2.5M549,592.0v-2.5M562.5,592.0v-2.5M576.1,592.0v-2.5M589.6,592.0v-2.5M603.1,592.0v-2.5M616.6,592.0v-2.5M630.1,592.0v-2.5M643.6,592.0v-2.5M657.1,592.0v-2.5M670.7,592.0v-2.5M684.2,592.0v-2.5M697.7,592.0v-2.5M711.2,592.0v-2.5M724.7,592.0v-2.5M738.2,592.0v-2.5M751.7,592.0v-2.5M765.3,592.0v-2.5M778.8,592.0v-2.5M792.3,592.0v-2.5M805.8,592.0v-2.5M819.3,592.0v-2.5M832.8,592.0v-2.5M846.3,592.0v-2.5" stroke="#000" stroke-width="1" fill="none"/>
<text x="28" y="374.1" text-anchor="end" font-size="10">3000</text>
<text x="28" y="411.1" text-anchor="end" font-size="10">2500</text>
<text x="28" y="448.1" text-anchor="end" font-size="10">2000</text>
<text x="28" y="485.1" text-anchor="end" font-size="10">1500</text>
<text x="28" y="522.1" text-anchor="end" font-size="10">1000</text>
<text x="28" y="559.1" text-anchor="end" font-size="10">500</text>
<text x="28" y="596.1" text-anchor="end" font-size="10">0</text>
<text transform="translate(40.1,645.1) rotate(-90)" font-size="10.2" textLength="42.3" lengthAdjust="spacingAndGlyphs">20060915</text>
<text transform="translate(67.2,645.1) rotate(-90)" font-size="10.2" textLength="42.3" lengthAdjust="spacingAndGlyphs">20061002</text>
<text transform="translate(94.2,645.1) rotate(-90)" font-size="10.2" textLength="42.3" lengthAdjust="spacingAndGlyphs">20061017</text>
<text transform="translate(121.3,645.1) rotate(-90)" font-size="10.2" textLength="42.3" lengthAdjust="spacingAndGlyphs">20061031</text>
<text transform="translate(148.3,645.1) rotate(-90)" font-size="10.2" textLength="42.3" lengthAdjust="spacingAndGlyphs">20061115</text>
<text transform="translate(175.3,645.1) rotate(-90)" font-size="10.2" textLength="42.3" lengthAdjust="spacingAndGlyphs">20061130</text>
<text transform="translate(202.4,645.1) rotate(-90)" font-size="10.2" textLength="42.3" lengthAdjust="spacingAndGlyphs">20061214</text>
<text transform="translate(229.4,645.1) rotate(-90)" font-size="10.2" textLength="42.3" lengthAdjust="spacingAndGlyphs">20061228</text>
<text transform="translate(256.5,645.1) rotate(-90)" font-size="10.2" textLength="42.3" lengthAdjust="spacingAndGlyphs">20070119</text>
<text transform="translate(283.6,645.1) rotate(-90)" font-size="10.2" textLength="42.3" lengthAdjust="spacingAndGlyphs">20070202</text>
<text transform="translate(310.6,645.1) rotate(-90)" font-size="10.2" textLength="42.3" lengthAdjust="spacingAndGlyphs">20070219</text>
<text transform="translate(337.6,645.1) rotate(-90)" font-size="10.2" textLength="42.3" lengthAdjust="spacingAndGlyphs">20070305</text>
<text transform="translate(364.7,645.1) rotate(-90)" font-size="10.2" textLength="42.3" lengthAdjust="spacingAndGlyphs">20070319</text>
<text transform="translate(391.8,645.1) rotate(-90)" font-size="10.2" textLength="42.3" lengthAdjust="spacingAndGlyphs">20070403</text>
<text transform="translate(418.8,645.1) rotate(-90)" font-size="10.2" textLength="42.3" lengthAdjust="spacingAndGlyphs">20070418</text>
<text transform="translate(445.8,645.1) rotate(-90)" font-size="10.2" textLength="42.3" lengthAdjust="spacingAndGlyphs">20070502</text>
<text transform="translate(472.9,645.1) rotate(-90)" font-size="10.2" textLength="42.3" lengthAdjust="spacingAndGlyphs">20070518</text>
<text transform="translate(499.9,645.1) rotate(-90)" font-size="10.2" textLength="42.3" lengthAdjust="spacingAndGlyphs">20070601</text>
<text transform="translate(527,645.1) rotate(-90)" font-size="10.2" textLength="42.3" lengthAdjust="spacingAndGlyphs">20070615</text>
<text transform="translate(554.1,645.1) rotate(-90)" font-size="10.2" textLength="42.3" lengthAdjust="spacingAndGlyphs">20070629</text>
<text transform="translate(581.1,645.1) rotate(-90)" font-size="10.2" textLength="42.3" lengthAdjust="spacingAndGlyphs">20070713</text>
<text transform="translate(608.2,645.1) rotate(-90)" font-size="10.2" textLength="42.3" lengthAdjust="spacingAndGlyphs">20070730</text>
<text transform="translate(635.2,645.1) rotate(-90)" font-size="10.2" textLength="42.3" lengthAdjust="spacingAndGlyphs">20070813</text>
<text transform="translate(662.2,645.1) rotate(-90)" font-size="10.2" textLength="42.3" lengthAdjust="spacingAndGlyphs">20070827</text>
<text transform="translate(689.3,645.1) rotate(-90)" font-size="10.2" textLength="42.3" lengthAdjust="spacingAndGlyphs">20070910</text>
<text transform="translate(716.4,645.1) rotate(-90)" font-size="10.2" textLength="42.3" lengthAdjust="spacingAndGlyphs">20070926</text>
<text transform="translate(743.4,645.1) rotate(-90)" font-size="10.2" textLength="42.3" lengthAdjust="spacingAndGlyphs">20071011</text>
<text transform="translate(770.5,645.1) rotate(-90)" font-size="10.2" textLength="42.3" lengthAdjust="spacingAndGlyphs">20071025</text>
<text transform="translate(797.5,645.1) rotate(-90)" font-size="10.2" textLength="42.3" lengthAdjust="spacingAndGlyphs">20071108</text>
<text transform="translate(824.6,645.1) rotate(-90)" font-size="10.2" textLength="42.3" lengthAdjust="spacingAndGlyphs">20071122</text>
<text transform="translate(851.6,645.1) rotate(-90)" font-size="10.2" textLength="42.3" lengthAdjust="spacingAndGlyphs">20071207</text>
<polyline fill="none" stroke="#000080" stroke-width="1.5" points="36.5,579.4 39,582.6 41.6,580.7 44,586.3 46.8,588.2 49.6,588.2 52.4,590.1 55.2,585.4 58,582.6 60.4,585.4 63.2,585.4 66.4,580.7 68.8,586.3 71.4,588.2 74.2,585 76.7,584.5 79.5,585.4 82.3,586.3 85.1,586.3 87.9,584.5 90.7,583.5 93.5,578.9 96.3,581.7 98.7,579.8 101.5,561.1 104.3,579.4 106.9,582.6 109.7,583.9 112.2,585 115,586.3 117.8,580.7 120.6,584.5 123.4,585 126.2,584.5 129,581.7 131.8,581.7 134.6,584.5 137.4,585 140.2,585.4 143,586.3 145.8,584.5 148.6,583.9 151.4,583.5 154.2,585 157,584.5 159.8,586.3 162.6,585.4 165.4,585 169.1,581.7 171.9,584.5 174.7,586.3 177.5,585.4 180.3,585 183.1,584.5 185.9,586.9 188.7,585 191.5,583.9 194.1,584.5 196.7,585.4 199.3,583.9 202.1,582.6 204.6,578.3 207.2,581.7 210,584.5 212.4,578.3 215.2,585 218,581.7 220.4,580.7 223.2,585 225.8,585 228.6,585 231.4,585 234.2,585 236.7,587.7 239.5,585.4 242.3,581.7 245.1,583.5 247.9,583.5 250.7,579.4 253.5,578.9 256.3,579.8 258.7,581.7 261.5,575.7 264.3,581.7 266.9,583.9 269.7,578.3 272.2,580.7 275,577 277.8,575.7 280.2,585.4 283,581.7 285.6,580.7 288.4,578.3 291.2,579.8 293.6,581.7 296.4,578.3 299.2,577.6 301.7,564.9 304.3,582.6 307.1,583.2 309.9,582.6 312.3,574.2 315.1,574.2 317.9,573.3 320.7,575.1 323.5,553.3 325.9,559.3 328.7,563.9 331.3,583.9 334.1,570.5 336.9,546.6 339.4,583.2 342.2,574.2 345,577 347.8,575.7 350.4,574.6 353,574.6 355.6,579.4 358.4,586.3 360.8,581.3 363.6,581.3 366.4,580.7 369.2,575.7 372.4,572.7 374.3,589.1 377.1,581.7 379.9,580.7 382.7,585.8 385.5,586.3 388.3,579.4 391.1,582.6 393.9,583.2 396.7,583.5 399.5,582.1 402.3,582.6 404.7,578.3 407.5,581.7 410.1,581.7 412.5,578.3 415.3,585.8 418.1,584.5 420.9,583.2 423.4,580.7 426.2,584.5 429,583.2 431.6,582.6 434.4,577.6 437.2,585 440,585.8 442.8,585 445.2,574.2 448,579.8 450.4,567.7 453.2,577 456,578.9 458.8,583.2 461.7,581.7 464.3,579.4 467.1,583.9 469.9,584.5 472.7,583.2 475.5,578.3 478.3,579.8 480.7,581.7 483.5,585 486.3,583.9 489.1,584.5 491.9,581.3 494.7,580.7 497.5,580.7 500.3,580.2 503.1,579.8 504.6,578.3 507.4,582.6 510,583.9 512.8,581.7 515.6,583.2 518.4,583.5 520.8,578.9 523.4,568.2 526.2,580.7 528.7,579.8 531.5,581.7 534.3,583.9 537.1,584.5 539.9,585 542.7,586.3 545.5,585 548.3,586.3 551.1,585 553.9,580.7 556.7,583.9 559.5,585 562.3,584.5 565.1,584.5 567.5,583.2 569.7,579.4 572.5,582.6 575.3,583.2 578.1,585.8 580.9,585 583.4,584.5 586.2,580.7 588.4,579.8 591.2,581.7 594,583.9 596.8,580.7 599.6,569 602.4,583.2 605.2,581.7 607.6,579.8 610.4,584.5 613.2,585 615.9,583.5 618.3,585.4 621.1,587.3 623.9,579.8 626.7,574.6 629.5,581.7 632.3,587.3 635.1,587.3 637.9,586.3 640.3,577.6 642.9,569 645.4,585.4 648.2,584.5 650.6,580.1 653.4,577.7 656.1,586.9 658.8,587.5 661.7,585 664.4,583.8 666.9,589.9 669.6,579.5 672.3,590.5 675.1,588.1 678,585 680.4,587.5 683.1,575.4 685.8,584.4 688.4,584.4 691.1,588.1 694.2,585.6 696.6,587.5 699.1,586.9 702.5,575.2 705.8,583.2 707.7,584.4 710.7,588.7 712.9,579.5 715.6,577 718.3,582.6 721.1,569.7 723.8,580.1 726.4,578.3 729.1,583.8 731.9,575.8 734.6,582.6 737.3,580.1 740.2,566.6 742.9,575.8 745.4,573.4 748.1,574 751,577.7 753.7,574 756.4,564.8 759.2,579.5 761.9,576.4 764.5,572.7 767.2,575.2 769.9,577 772.7,574.6 775.4,576.4 778,578.6 780.7,562.7 783.4,574 786.2,581.9 788.6,582.6 791.3,576.2 794.2,581.3 797,567.8 799.7,572.7 802.4,581.3 805.4,560.5 808,580.1 810.7,582.6 813.5,581.9 816.2,581.9 818.9,582.6 821.5,587.5 824.2,580.7 826.9,573.4 829.5,567.8 832.2,581.3 835,572.7 837.5,587.2 840.2,583.2 842.9,578.9 845.7,576.7 848.1,583.2 850.8,583.2"/>
<path d="M36.5,577l2.4,2.4l-2.4,2.4l-2.4,-2.4zM39,580.2l2.4,2.4l-2.4,2.4l-2.4,-2.4zM41.6,578.3l2.4,2.4l-2.4,2.4l-2.4,-2.4zM44,583.9l2.4,2.4l-2.4,2.4l-2.4,-2.4zM46.8,585.8l2.4,2.4l-2.4,2.4l-2.4,-2.4zM49.6,585.8l2.4,2.4l-2.4,2.4l-2.4,-2.4zM52.4,587.7l2.4,2.4l-2.4,2.4l-2.4,-2.4zM55.2,583l2.4,2.4l-2.4,2.4l-2.4,-2.4zM58,580.2l2.4,2.4l-2.4,2.4l-2.4,-2.4zM60.4,583l2.4,2.4l-2.4,2.4l-2.4,-2.4zM63.2,583l2.4,2.4l-2.4,2.4l-2.4,-2.4zM66.4,578.3l2.4,2.4l-2.4,2.4l-2.4,-2.4zM68.8,583.9l2.4,2.4l-2.4,2.4l-2.4,-2.4zM71.4,585.8l2.4,2.4l-2.4,2.4l-2.4,-2.4zM74.2,582.6l2.4,2.4l-2.4,2.4l-2.4,-2.4zM76.7,582.1l2.4,2.4l-2.4,2.4l-2.4,-2.4zM79.5,583l2.4,2.4l-2.4,2.4l-2.4,-2.4zM82.3,583.9l2.4,2.4l-2.4,2.4l-2.4,-2.4zM85.1,583.9l2.4,2.4l-2.4,2.4l-2.4,-2.4zM87.9,582.1l2.4,2.4l-2.4,2.4l-2.4,-2.4zM90.7,581.1l2.4,2.4l-2.4,2.4l-2.4,-2.4zM93.5,576.5l2.4,2.4l-2.4,2.4l-2.4,-2.4zM96.3,579.3l2.4,2.4l-2.4,2.4l-2.4,-2.4zM98.7,577.4l2.4,2.4l-2.4,2.4l-2.4,-2.4zM101.5,558.7l2.4,2.4l-2.4,2.4l-2.4,-2.4zM104.3,577l2.4,2.4l-2.4,2.4l-2.4,-2.4zM106.9,580.2l2.4,2.4l-2.4,2.4l-2.4,-2.4zM109.7,581.5l2.4,2.4l-2.4,2.4l-2.4,-2.4zM112.2,582.6l2.4,2.4l-2.4,2.4l-2.4,-2.4zM115,583.9l2.4,2.4l-2.4,2.4l-2.4,-2.4zM117.8,578.3l2.4,2.4l-2.4,2.4l-2.4,-2.4zM120.6,582.1l2.4,2.4l-2.4,2.4l-2.4,-2.4zM123.4,582.6l2.4,2.4l-2.4,2.4l-2.4,-2.4zM126.2,582.1l2.4,2.4l-2.4,2.4l-2.4,-2.4zM129,579.3l2.4,2.4l-2.4,2.4l-2.4,-2.4zM131.8,579.3l2.4,2.4l-2.4,2.4l-2.4,-2.4zM134.6,582.1l2.4,2.4l-2.4,2.4l-2.4,-2.4zM137.4,582.6l2.4,2.4l-2.4,2.4l-2.4,-2.4zM140.2,583l2.4,2.4l-2.4,2.4l-2.4,-2.4zM143,583.9l2.4,2.4l-2.4,2.4l-2.4,-2.4zM145.8,582.1l2.4,2.4l-2.4,2.4l-2.4,-2.4zM148.6,581.5l2.4,2.4l-2.4,2.4l-2.4,-2.4zM151.4,581.1l2.4,2.4l-2.4,2.4l-2.4,-2.4zM154.2,582.6l2.4,2.4l-2.4,2.4l-2.4,-2.4zM157,582.1l2.4,2.4l-2.4,2.4l-2.4,-2.4zM159.8,583.9l2.4,2.4l-2.4,2.4l-2.4,-2.4zM162.6,583l2.4,2.4l-2.4,2.4l-2.4,-2.4zM165.4,582.6l2.4,2.4l-2.4,2.4l-2.4,-2.4zM169.1,579.3l2.4,2.4l-2.4,2.4l-2.4,-2.4zM171.9,582.1l2.4,2.4l-2.4,2.4l-2.4,-2.4zM174.7,583.9l2.4,2.4l-2.4,2.4l-2.4,-2.4zM177.5,583l2.4,2.4l-2.4,2.4l-2.4,-2.4zM180.3,582.6l2.4,2.4l-2.4,2.4l-2.4,-2.4zM183.1,582.1l2.4,2.4l-2.4,2.4l-2.4,-2.4zM185.9,584.5l2.4,2.4l-2.4,2.4l-2.4,-2.4zM188.7,582.6l2.4,2.4l-2.4,2.4l-2.4,-2.4zM191.5,581.5l2.4,2.4l-2.4,2.4l-2.4,-2.4zM194.1,582.1l2.4,2.4l-2.4,2.4l-2.4,-2.4zM196.7,583l2.4,2.4l-2.4,2.4l-2.4,-2.4zM199.3,581.5l2.4,2.4l-2.4,2.4l-2.4,-2.4zM202.1,580.2l2.4,2.4l-2.4,2.4l-2.4,-2.4zM204.6,575.9l2.4,2.4l-2.4,2.4l-2.4,-2.4zM207.2,579.3l2.4,2.4l-2.4,2.4l-2.4,-2.4zM210,582.1l2.4,2.4l-2.4,2.4l-2.4,-2.4zM212.4,575.9l2.4,2.4l-2.4,2.4l-2.4,-2.4zM215.2,582.6l2.4,2.4l-2.4,2.4l-2.4,-2.4zM218,579.3l2.4,2.4l-2.4,2.4l-2.4,-2.4zM220.4,578.3l2.4,2.4l-2.4,2.4l-2.4,-2.4zM223.2,582.6l2.4,2.4l-2.4,2.4l-2.4,-2.4zM225.8,582.6l2.4,2.4l-2.4,2.4l-2.4,-2.4zM228.6,582.6l2.4,2.4l-2.4,2.4l-2.4,-2.4zM231.4,582.6l2.4,2.4l-2.4,2.4l-2.4,-2.4zM234.2,582.6l2.4,2.4l-2.4,2.4l-2.4,-2.4zM236.7,585.3l2.4,2.4l-2.4,2.4l-2.4,-2.4zM239.5,583l2.4,2.4l-2.4,2.4l-2.4,-2.4zM242.3,579.3l2.4,2.4l-2.4,2.4l-2.4,-2.4zM245.1,581.1l2.4,2.4l-2.4,2.4l-2.4,-2.4zM247.9,581.1l2.4,2.4l-2.4,2.4l-2.4,-2.4zM250.7,577l2.4,2.4l-2.4,2.4l-2.4,-2.4zM253.5,576.5l2.4,2.4l-2.4,2.4l-2.4,-2.4zM256.3,577.4l2.4,2.4l-2.4,2.4l-2.4,-2.4zM258.7,579.3l2.4,2.4l-2.4,2.4l-2.4,-2.4zM261.5,573.3l2.4,2.4l-2.4,2.4l-2.4,-2.4zM264.3,579.3l2.4,2.4l-2.4,2.4l-2.4,-2.4zM266.9,581.5l2.4,2.4l-2.4,2.4l-2.4,-2.4zM269.7,575.9l2.4,2.4l-2.4,2.4l-2.4,-2.4zM272.2,578.3l2.4,2.4l-2.4,2.4l-2.4,-2.4zM275,574.6l2.4,2.4l-2.4,2.4l-2.4,-2.4zM277.8,573.3l2.4,2.4l-2.4,2.4l-2.4,-2.4zM280.2,583l2.4,2.4l-2.4,2.4l-2.4,-2.4zM283,579.3l2.4,2.4l-2.4,2.4l-2.4,-2.4zM285.6,578.3l2.4,2.4l-2.4,2.4l-2.4,-2.4zM288.4,575.9l2.4,2.4l-2.4,2.4l-2.4,-2.4zM291.2,577.4l2.4,2.4l-2.4,2.4l-2.4,-2.4zM293.6,579.3l2.4,2.4l-2.4,2.4l-2.4,-2.4zM296.4,575.9l2.4,2.4l-2.4,2.4l-2.4,-2.4zM299.2,575.2l2.4,2.4l-2.4,2.4l-2.4,-2.4zM301.7,562.5l2.4,2.4l-2.4,2.4l-2.4,-2.4zM304.3,580.2l2.4,2.4l-2.4,2.4l-2.4,-2.4zM307.1,580.8l2.4,2.4l-2.4,2.4l-2.4,-2.4zM309.9,580.2l2.4,2.4l-2.4,2.4l-2.4,-2.4zM312.3,571.8l2.4,2.4l-2.4,2.4l-2.4,-2.4zM315.1,571.8l2.4,2.4l-2.4,2.4l-2.4,-2.4zM317.9,570.9l2.4,2.4l-2.4,2.4l-2.4,-2.4zM320.7,572.7l2.4,2.4l-2.4,2.4l-2.4,-2.4zM323.5,550.9l2.4,2.4l-2.4,2.4l-2.4,-2.4zM325.9,556.9l2.4,2.4l-2.4,2.4l-2.4,-2.4zM328.7,561.5l2.4,2.4l-2.4,2.4l-2.4,-2.4zM331.3,581.5l2.4,2.4l-2.4,2.4l-2.4,-2.4zM334.1,568.1l2.4,2.4l-2.4,2.4l-2.4,-2.4zM336.9,544.2l2.4,2.4l-2.4,2.4l-2.4,-2.4zM339.4,580.8l2.4,2.4l-2.4,2.4l-2.4,-2.4zM342.2,571.8l2.4,2.4l-2.4,2.4l-2.4,-2.4zM345,574.6l2.4,2.4l-2.4,2.4l-2.4,-2.4zM347.8,573.3l2.4,2.4l-2.4,2.4l-2.4,-2.4zM350.4,572.2l2.4,2.4l-2.4,2.4l-2.4,-2.4zM353,572.2l2.4,2.4l-2.4,2.4l-2.4,-2.4zM355.6,577l2.4,2.4l-2.4,2.4l-2.4,-2.4zM358.4,583.9l2.4,2.4l-2.4,2.4l-2.4,-2.4zM360.8,578.9l2.4,2.4l-2.4,2.4l-2.4,-2.4zM363.6,578.9l2.4,2.4l-2.4,2.4l-2.4,-2.4zM366.4,578.3l2.4,2.4l-2.4,2.4l-2.4,-2.4zM369.2,573.3l2.4,2.4l-2.4,2.4l-2.4,-2.4zM372.4,570.3l2.4,2.4l-2.4,2.4l-2.4,-2.4zM374.3,586.7l2.4,2.4l-2.4,2.4l-2.4,-2.4zM377.1,579.3l2.4,2.4l-2.4,2.4l-2.4,-2.4zM379.9,578.3l2.4,2.4l-2.4,2.4l-2.4,-2.4zM382.7,583.4l2.4,2.4l-2.4,2.4l-2.4,-2.4zM385.5,583.9l2.4,2.4l-2.4,2.4l-2.4,-2.4zM388.3,577l2.4,2.4l-2.4,2.4l-2.4,-2.4zM391.1,580.2l2.4,2.4l-2.4,2.4l-2.4,-2.4zM393.9,580.8l2.4,2.4l-2.4,2.4l-2.4,-2.4zM396.7,581.1l2.4,2.4l-2.4,2.4l-2.4,-2.4zM399.5,579.7l2.4,2.4l-2.4,2.4l-2.4,-2.4zM402.3,580.2l2.4,2.4l-2.4,2.4l-2.4,-2.4zM404.7,575.9l2.4,2.4l-2.4,2.4l-2.4,-2.4zM407.5,579.3l2.4,2.4l-2.4,2.4l-2.4,-2.4zM410.1,579.3l2.4,2.4l-2.4,2.4l-2.4,-2.4zM412.5,575.9l2.4,2.4l-2.4,2.4l-2.4,-2.4zM415.3,583.4l2.4,2.4l-2.4,2.4l-2.4,-2.4zM418.1,582.1l2.4,2.4l-2.4,2.4l-2.4,-2.4zM420.9,580.8l2.4,2.4l-2.4,2.4l-2.4,-2.4zM423.4,578.3l2.4,2.4l-2.4,2.4l-2.4,-2.4zM426.2,582.1l2.4,2.4l-2.4,2.4l-2.4,-2.4zM429,580.8l2.4,2.4l-2.4,2.4l-2.4,-2.4zM431.6,580.2l2.4,2.4l-2.4,2.4l-2.4,-2.4zM434.4,575.2l2.4,2.4l-2.4,2.4l-2.4,-2.4zM437.2,582.6l2.4,2.4l-2.4,2.4l-2.4,-2.4zM440,583.4l2.4,2.4l-2.4,2.4l-2.4,-2.4zM442.8,582.6l2.4,2.4l-2.4,2.4l-2.4,-2.4zM445.2,571.8l2.4,2.4l-2.4,2.4l-2.4,-2.4zM448,577.4l2.4,2.4l-2.4,2.4l-2.4,-2.4zM450.4,565.3l2.4,2.4l-2.4,2.4l-2.4,-2.4zM453.2,574.6l2.4,2.4l-2.4,2.4l-2.4,-2.4zM456,576.5l2.4,2.4l-2.4,2.4l-2.4,-2.4zM458.8,580.8l2.4,2.4l-2.4,2.4l-2.4,-2.4zM461.7,579.3l2.4,2.4l-2.4,2.4l-2.4,-2.4zM464.3,577l2.4,2.4l-2.4,2.4l-2.4,-2.4zM467.1,581.5l2.4,2.4l-2.4,2.4l-2.4,-2.4zM469.9,582.1l2.4,2.4l-2.4,2.4l-2.4,-2.4zM472.7,580.8l2.4,2.4l-2.4,2.4l-2.4,-2.4zM475.5,575.9l2.4,2.4l-2.4,2.4l-2.4,-2.4zM478.3,577.4l2.4,2.4l-2.4,2.4l-2.4,-2.4zM480.7,579.3l2.4,2.4l-2.4,2.4l-2.4,-2.4zM483.5,582.6l2.4,2.4l-2.4,2.4l-2.4,-2.4zM486.3,581.5l2.4,2.4l-2.4,2.4l-2.4,-2.4zM489.1,582.1l2.4,2.4l-2.4,2.4l-2.4,-2.4zM491.9,578.9l2.4,2.4l-2.4,2.4l-2.4,-2.4zM494.7,578.3l2.4,2.4l-2.4,2.4l-2.4,-2.4zM497.5,578.3l2.4,2.4l-2.4,2.4l-2.4,-2.4zM500.3,577.8l2.4,2.4l-2.4,2.4l-2.4,-2.4zM503.1,577.4l2.4,2.4l-2.4,2.4l-2.4,-2.4zM504.6,575.9l2.4,2.4l-2.4,2.4l-2.4,-2.4zM507.4,580.2l2.4,2.4l-2.4,2.4l-2.4,-2.4zM510,581.5l2.4,2.4l-2.4,2.4l-2.4,-2.4zM512.8,579.3l2.4,2.4l-2.4,2.4l-2.4,-2.4zM515.6,580.8l2.4,2.4l-2.4,2.4l-2.4,-2.4zM518.4,581.1l2.4,2.4l-2.4,2.4l-2.4,-2.4zM520.8,576.5l2.4,2.4l-2.4,2.4l-2.4,-2.4zM523.4,565.8l2.4,2.4l-2.4,2.4l-2.4,-2.4zM526.2,578.3l2.4,2.4l-2.4,2.4l-2.4,-2.4zM528.7,577.4l2.4,2.4l-2.4,2.4l-2.4,-2.4zM531.5,579.3l2.4,2.4l-2.4,2.4l-2.4,-2.4zM534.3,581.5l2.4,2.4l-2.4,2.4l-2.4,-2.4zM537.1,582.1l2.4,2.4l-2.4,2.4l-2.4,-2.4zM539.9,582.6l2.4,2.4l-2.4,2.4l-2.4,-2.4zM542.7,583.9l2.4,2.4l-2.4,2.4l-2.4,-2.4zM545.5,582.6l2.4,2.4l-2.4,2.4l-2.4,-2.4zM548.3,583.9l2.4,2.4l-2.4,2.4l-2.4,-2.4zM551.1,582.6l2.4,2.4l-2.4,2.4l-2.4,-2.4zM553.9,578.3l2.4,2.4l-2.4,2.4l-2.4,-2.4zM556.7,581.5l2.4,2.4l-2.4,2.4l-2.4,-2.4zM559.5,582.6l2.4,2.4l-2.4,2.4l-2.4,-2.4zM562.3,582.1l2.4,2.4l-2.4,2.4l-2.4,-2.4zM565.1,582.1l2.4,2.4l-2.4,2.4l-2.4,-2.4zM567.5,580.8l2.4,2.4l-2.4,2.4l-2.4,-2.4zM569.7,577l2.4,2.4l-2.4,2.4l-2.4,-2.4zM572.5,580.2l2.4,2.4l-2.4,2.4l-2.4,-2.4zM575.3,580.8l2.4,2.4l-2.4,2.4l-2.4,-2.4zM578.1,583.4l2.4,2.4l-2.4,2.4l-2.4,-2.4zM580.9,582.6l2.4,2.4l-2.4,2.4l-2.4,-2.4zM583.4,582.1l2.4,2.4l-2.4,2.4l-2.4,-2.4zM586.2,578.3l2.4,2.4l-2.4,2.4l-2.4,-2.4zM588.4,577.4l2.4,2.4l-2.4,2.4l-2.4,-2.4zM591.2,579.3l2.4,2.4l-2.4,2.4l-2.4,-2.4zM594,581.5l2.4,2.4l-2.4,2.4l-2.4,-2.4zM596.8,578.3l2.4,2.4l-2.4,2.4l-2.4,-2.4zM599.6,566.6l2.4,2.4l-2.4,2.4l-2.4,-2.4zM602.4,580.8l2.4,2.4l-2.4,2.4l-2.4,-2.4zM605.2,579.3l2.4,2.4l-2.4,2.4l-2.4,-2.4zM607.6,577.4l2.4,2.4l-2.4,2.4l-2.4,-2.4zM610.4,582.1l2.4,2.4l-2.4,2.4l-2.4,-2.4zM613.2,582.6l2.4,2.4l-2.4,2.4l-2.4,-2.4zM615.9,581.1l2.4,2.4l-2.4,2.4l-2.4,-2.4zM618.3,583l2.4,2.4l-2.4,2.4l-2.4,-2.4zM621.1,584.9l2.4,2.4l-2.4,2.4l-2.4,-2.4zM623.9,577.4l2.4,2.4l-2.4,2.4l-2.4,-2.4zM626.7,572.2l2.4,2.4l-2.4,2.4l-2.4,-2.4zM629.5,579.3l2.4,2.4l-2.4,2.4l-2.4,-2.4zM632.3,584.9l2.4,2.4l-2.4,2.4l-2.4,-2.4zM635.1,584.9l2.4,2.4l-2.4,2.4l-2.4,-2.4zM637.9,583.9l2.4,2.4l-2.4,2.4l-2.4,-2.4zM640.3,575.2l2.4,2.4l-2.4,2.4l-2.4,-2.4zM642.9,566.6l2.4,2.4l-2.4,2.4l-2.4,-2.4zM645.4,583l2.4,2.4l-2.4,2.4l-2.4,-2.4zM648.2,582.1l2.4,2.4l-2.4,2.4l-2.4,-2.4zM650.6,577.7l2.4,2.4l-2.4,2.4l-2.4,-2.4zM653.4,575.3l2.4,2.4l-2.4,2.4l-2.4,-2.4zM656.1,584.5l2.4,2.4l-2.4,2.4l-2.4,-2.4zM658.8,585.1l2.4,2.4l-2.4,2.4l-2.4,-2.4zM661.7,582.6l2.4,2.4l-2.4,2.4l-2.4,-2.4zM664.4,581.4l2.4,2.4l-2.4,2.4l-2.4,-2.4zM666.9,587.5l2.4,2.4l-2.4,2.4l-2.4,-2.4zM669.6,577.1l2.4,2.4l-2.4,2.4l-2.4,-2.4zM672.3,588.1l2.4,2.4l-2.4,2.4l-2.4,-2.4zM675.1,585.7l2.4,2.4l-2.4,2.4l-2.4,-2.4zM678,582.6l2.4,2.4l-2.4,2.4l-2.4,-2.4zM680.4,585.1l2.4,2.4l-2.4,2.4l-2.4,-2.4zM683.1,573l2.4,2.4l-2.4,2.4l-2.4,-2.4zM685.8,582l2.4,2.4l-2.4,2.4l-2.4,-2.4zM688.4,582l2.4,2.4l-2.4,2.4l-2.4,-2.4zM691.1,585.7l2.4,2.4l-2.4,2.4l-2.4,-2.4zM694.2,583.2l2.4,2.4l-2.4,2.4l-2.4,-2.4zM696.6,585.1l2.4,2.4l-2.4,2.4l-2.4,-2.4zM699.1,584.5l2.4,2.4l-2.4,2.4l-2.4,-2.4zM702.5,572.8l2.4,2.4l-2.4,2.4l-2.4,-2.4zM705.8,580.8l2.4,2.4l-2.4,2.4l-2.4,-2.4zM707.7,582l2.4,2.4l-2.4,2.4l-2.4,-2.4zM710.7,586.3l2.4,2.4l-2.4,2.4l-2.4,-2.4zM712.9,577.1l2.4,2.4l-2.4,2.4l-2.4,-2.4zM715.6,574.6l2.4,2.4l-2.4,2.4l-2.4,-2.4zM718.3,580.2l2.4,2.4l-2.4,2.4l-2.4,-2.4zM721.1,567.3l2.4,2.4l-2.4,2.4l-2.4,-2.4zM723.8,577.7l2.4,2.4l-2.4,2.4l-2.4,-2.4zM726.4,575.9l2.4,2.4l-2.4,2.4l-2.4,-2.4zM729.1,581.4l2.4,2.4l-2.4,2.4l-2.4,-2.4zM731.9,573.4l2.4,2.4l-2.4,2.4l-2.4,-2.4zM734.6,580.2l2.4,2.4l-2.4,2.4l-2.4,-2.4zM737.3,577.7l2.4,2.4l-2.4,2.4l-2.4,-2.4zM740.2,564.2l2.4,2.4l-2.4,2.4l-2.4,-2.4zM742.9,573.4l2.4,2.4l-2.4,2.4l-2.4,-2.4zM745.4,571l2.4,2.4l-2.4,2.4l-2.4,-2.4zM748.1,571.6l2.4,2.4l-2.4,2.4l-2.4,-2.4zM751,575.3l2.4,2.4l-2.4,2.4l-2.4,-2.4zM753.7,571.6l2.4,2.4l-2.4,2.4l-2.4,-2.4zM756.4,562.4l2.4,2.4l-2.4,2.4l-2.4,-2.4zM759.2,577.1l2.4,2.4l-2.4,2.4l-2.4,-2.4zM761.9,574l2.4,2.4l-2.4,2.4l-2.4,-2.4zM764.5,570.3l2.4,2.4l-2.4,2.4l-2.4,-2.4zM767.2,572.8l2.4,2.4l-2.4,2.4l-2.4,-2.4zM769.9,574.6l2.4,2.4l-2.4,2.4l-2.4,-2.4zM772.7,572.2l2.4,2.4l-2.4,2.4l-2.4,-2.4zM775.4,574l2.4,2.4l-2.4,2.4l-2.4,-2.4zM778,576.2l2.4,2.4l-2.4,2.4l-2.4,-2.4zM780.7,560.3l2.4,2.4l-2.4,2.4l-2.4,-2.4zM783.4,571.6l2.4,2.4l-2.4,2.4l-2.4,-2.4zM786.2,579.5l2.4,2.4l-2.4,2.4l-2.4,-2.4zM788.6,580.2l2.4,2.4l-2.4,2.4l-2.4,-2.4zM791.3,573.8l2.4,2.4l-2.4,2.4l-2.4,-2.4zM794.2,578.9l2.4,2.4l-2.4,2.4l-2.4,-2.4zM797,565.4l2.4,2.4l-2.4,2.4l-2.4,-2.4zM799.7,570.3l2.4,2.4l-2.4,2.4l-2.4,-2.4zM802.4,578.9l2.4,2.4l-2.4,2.4l-2.4,-2.4zM805.4,558.1l2.4,2.4l-2.4,2.4l-2.4,-2.4zM808,577.7l2.4,2.4l-2.4,2.4l-2.4,-2.4zM810.7,580.2l2.4,2.4l-2.4,2.4l-2.4,-2.4zM813.5,579.5l2.4,2.4l-2.4,2.4l-2.4,-2.4zM816.2,579.5l2.4,2.4l-2.4,2.4l-2.4,-2.4zM818.9,580.2l2.4,2.4l-2.4,2.4l-2.4,-2.4zM821.5,585.1l2.4,2.4l-2.4,2.4l-2.4,-2.4zM824.2,578.3l2.4,2.4l-2.4,2.4l-2.4,-2.4zM826.9,571l2.4,2.4l-2.4,2.4l-2.4,-2.4zM829.5,565.4l2.4,2.4l-2.4,2.4l-2.4,-2.4zM832.2,578.9l2.4,2.4l-2.4,2.4l-2.4,-2.4zM835,570.3l2.4,2.4l-2.4,2.4l-2.4,-2.4zM837.5,584.8l2.4,2.4l-2.4,2.4l-2.4,-2.4zM840.2,580.8l2.4,2.4l-2.4,2.4l-2.4,-2.4zM842.9,576.5l2.4,2.4l-2.4,2.4l-2.4,-2.4zM845.7,574.3l2.4,2.4l-2.4,2.4l-2.4,-2.4zM848.1,580.8l2.4,2.4l-2.4,2.4l-2.4,-2.4zM850.8,580.8l2.4,2.4l-2.4,2.4l-2.4,-2.4z" fill="#000080"/>
<line x1="36.0" y1="592.5" x2="657" y2="592.5" stroke="#FFFF00" stroke-width="1.3"/>
<polyline fill="none" stroke="#FFFF00" stroke-width="1.1" points="656.2,592.5 658.8,586.2 661.3,559.9 664.4,541.8 666.9,564.2 669.6,549.4 672.3,581.9 675.1,548.5 678,547.2 680.4,565.4 683.3,512.4 685.8,553.7 688.4,550.1 691.1,573.4 694.2,548.5 696.6,567.8 699.1,555 702.5,539.6 705.8,555.6 707.7,556.2 710.1,566 712.9,546.4 715.6,559.3 718.3,559.9 721.1,529.6 723.8,553.1 726.4,528.8 729.1,561.1 731.9,523.7 734.6,555.6 737.3,555.6 740,517.8 742.9,551.3 745.4,531 748.3,515 750.8,583.2 753,496.6 756.1,478.2 759.4,504.1 761.8,529.2 764.1,512.4 767.2,516.7 770,501.3 772.4,500.1 775.5,510.8 777.8,502.5 780.7,403.3 783.3,459.3 786.1,498.2 788.6,524.9 791.3,478.2 794.4,508.4 797,447.4 799.6,500.1 801.9,481.2 805.2,476.5 808.1,516 810.4,519.7 813.5,549.4 816.1,498.5 818.5,527.8 821.5,555.6 823.9,530.8 826.7,482.9 829.3,463.5 832.2,486.7 834.8,474.1 837.5,542.7 840.4,528.6 843,494.2 845.6,506 848.1,546.4 850.8,546.4"/>
<path d="M658.8,583.6l2.4,4.4h-4.8zM661.3,557.3l2.4,4.4h-4.8zM664.4,539.2l2.4,4.4h-4.8zM666.9,561.6l2.4,4.4h-4.8zM669.6,546.8l2.4,4.4h-4.8zM672.3,579.3l2.4,4.4h-4.8zM675.1,545.9l2.4,4.4h-4.8zM678,544.6l2.4,4.4h-4.8zM680.4,562.8l2.4,4.4h-4.8zM683.3,509.8l2.4,4.4h-4.8zM685.8,551.1l2.4,4.4h-4.8zM688.4,547.5l2.4,4.4h-4.8zM691.1,570.8l2.4,4.4h-4.8zM694.2,545.9l2.4,4.4h-4.8zM696.6,565.2l2.4,4.4h-4.8zM699.1,552.4l2.4,4.4h-4.8zM702.5,537l2.4,4.4h-4.8zM705.8,553l2.4,4.4h-4.8zM707.7,553.6l2.4,4.4h-4.8zM710.1,563.4l2.4,4.4h-4.8zM712.9,543.8l2.4,4.4h-4.8zM715.6,556.7l2.4,4.4h-4.8zM718.3,557.3l2.4,4.4h-4.8zM721.1,527l2.4,4.4h-4.8zM723.8,550.5l2.4,4.4h-4.8zM726.4,526.2l2.4,4.4h-4.8zM729.1,558.5l2.4,4.4h-4.8zM731.9,521.1l2.4,4.4h-4.8zM734.6,553l2.4,4.4h-4.8zM737.3,553l2.4,4.4h-4.8zM740,515.2l2.4,4.4h-4.8zM742.9,548.7l2.4,4.4h-4.8zM745.4,528.4l2.4,4.4h-4.8zM748.3,512.4l2.4,4.4h-4.8zM750.8,580.6l2.4,4.4h-4.8zM753,494l2.4,4.4h-4.8zM756.1,475.6l2.4,4.4h-4.8zM759.4,501.5l2.4,4.4h-4.8zM761.8,526.6l2.4,4.4h-4.8zM764.1,509.8l2.4,4.4h-4.8zM767.2,514.1l2.4,4.4h-4.8zM770,498.7l2.4,4.4h-4.8zM772.4,497.5l2.4,4.4h-4.8zM775.5,508.2l2.4,4.4h-4.8zM777.8,499.9l2.4,4.4h-4.8zM780.7,400.7l2.4,4.4h-4.8zM783.3,456.7l2.4,4.4h-4.8zM786.1,495.6l2.4,4.4h-4.8zM788.6,522.3l2.4,4.4h-4.8zM791.3,475.6l2.4,4.4h-4.8zM794.4,505.8l2.4,4.4h-4.8zM797,444.8l2.4,4.4h-4.8zM799.6,497.5l2.4,4.4h-4.8zM801.9,478.6l2.4,4.4h-4.8zM805.2,473.9l2.4,4.4h-4.8zM808.1,513.4l2.4,4.4h-4.8zM810.4,517.1l2.4,4.4h-4.8zM813.5,546.8l2.4,4.4h-4.8zM816.1,495.9l2.4,4.4h-4.8zM818.5,525.2l2.4,4.4h-4.8zM821.5,553l2.4,4.4h-4.8zM823.9,528.2l2.4,4.4h-4.8zM826.7,480.3l2.4,4.4h-4.8zM829.3,460.9l2.4,4.4h-4.8zM832.2,484.1l2.4,4.4h-4.8zM834.8,471.5l2.4,4.4h-4.8zM837.5,540.1l2.4,4.4h-4.8zM840.4,526l2.4,4.4h-4.8zM843,491.6l2.4,4.4h-4.8zM845.6,503.4l2.4,4.4h-4.8zM848.1,543.8l2.4,4.4h-4.8zM850.8,543.8l2.4,4.4h-4.8z" fill="#FFFF00"/>
<text x="209.8" y="362" font-size="14" textLength="28" lengthAdjust="spacingAndGlyphs">PTS</text>
<text x="238" y="362" font-size="14" textLength="56" lengthAdjust="spacingAndGlyphs">売買代金</text>
<rect x="445" y="348.6" width="291" height="16.8" fill="#fff" stroke="#000" stroke-width="1"/>
<line x1="449.4" y1="356.8" x2="470.3" y2="356.8" stroke="#000080" stroke-width="1.2"/>
<path d="M459.9,354.4l2.4,2.4l-2.4,2.4l-2.4,-2.4z" fill="#000080"/>
<text x="474" y="361" font-size="12" textLength="109.8" lengthAdjust="spacingAndGlyphs">kabu.comPTS(百万円)</text>
<line x1="589.8" y1="356.8" x2="611.1" y2="356.8" stroke="#FFFF00" stroke-width="1.2"/>
<path d="M600.6,354.2l2.4,4.4h-4.8z" fill="#FFFF00"/>
<text x="615.6" y="361" font-size="12" textLength="116.1" lengthAdjust="spacingAndGlyphs">JapanNextPTS(百万円)</text>
</svg>
</body></html>
